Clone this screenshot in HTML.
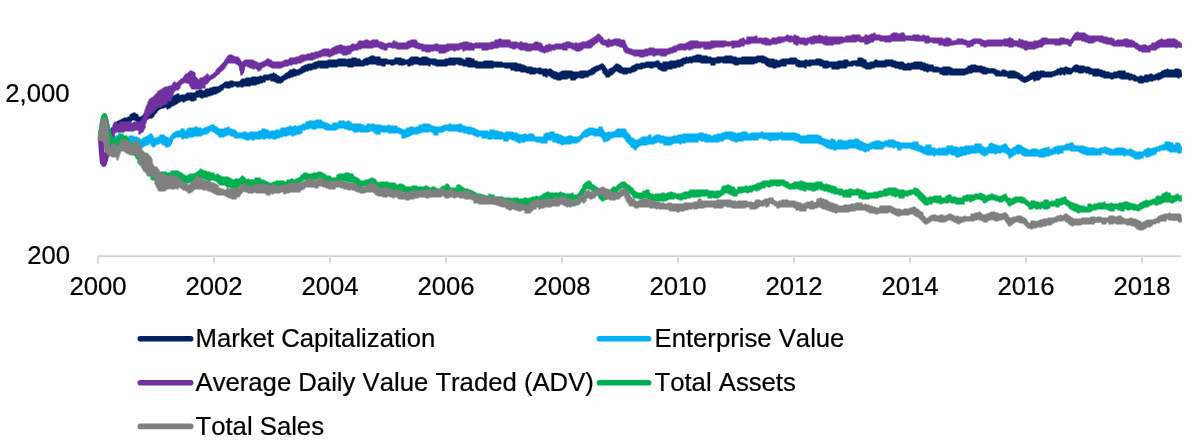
<!DOCTYPE html>
<html lang="en">
<head>
<meta charset="utf-8">
<title>Chart</title>
<style>
html,body{margin:0;padding:0;background:#fff;}
body{width:1200px;height:448px;overflow:hidden;}
svg{display:block;}
text{font-family:"Liberation Sans",Arial,Helvetica,sans-serif;font-size:25.7px;fill:#000;stroke:#000;stroke-width:0.22px;font-kerning:none;font-feature-settings:"kern" 0;}
.ax line{stroke:#d3d3d3;stroke-width:1.6;fill:none;}
</style>
</head>
<body>
<svg width="1200" height="448" viewBox="0 0 1200 448">
<rect width="1200" height="448" fill="#fff"/>
<g class="ax"><line x1="97.25" y1="256.1" x2="1180.8" y2="256.1"/><line x1="98" y1="256" x2="98" y2="263.5"/><line x1="214" y1="256" x2="214" y2="263.5"/><line x1="330" y1="256" x2="330" y2="263.5"/><line x1="446" y1="256" x2="446" y2="263.5"/><line x1="562" y1="256" x2="562" y2="263.5"/><line x1="678" y1="256" x2="678" y2="263.5"/><line x1="794" y1="256" x2="794" y2="263.5"/><line x1="910" y1="256" x2="910" y2="263.5"/><line x1="1026" y1="256" x2="1026" y2="263.5"/><line x1="1142" y1="256" x2="1142" y2="263.5"/></g>
<g class="yl"><text x="69.5" y="101.8" text-anchor="end">2,000</text><text x="70" y="264.4" text-anchor="end">200</text></g>
<g class="xl"><text x="98" y="295.4" text-anchor="middle">2000</text><text x="214" y="295.4" text-anchor="middle">2002</text><text x="330" y="295.4" text-anchor="middle">2004</text><text x="446" y="295.4" text-anchor="middle">2006</text><text x="562" y="295.4" text-anchor="middle">2008</text><text x="678" y="295.4" text-anchor="middle">2010</text><text x="794" y="295.4" text-anchor="middle">2012</text><text x="910" y="295.4" text-anchor="middle">2014</text><text x="1026" y="295.4" text-anchor="middle">2016</text><text x="1142" y="295.4" text-anchor="middle">2018</text></g>
<g class="series">
<g fill="#002060" stroke="#002060"><path d="M100.5,135.0 L102.0,140.0 L103.5,145.0 L105.0,143.0 L107.0,139.0 L110.0,134.0 L114.0,128.5" fill="none" stroke-width="5.5" stroke-linejoin="round" stroke-linecap="butt"/><path d="M100.5,135.0 L102.0,140.0 L103.5,145.0 L105.0,143.0 L107.0,139.0 L110.0,134.0 L114.0,128.5 L117.5,125.5 L121.0,123.8 L127.0,120.7 L133.5,117.3 L137.0,119.0 L140.0,120.5 L143.0,119.0 L146.2,117.8 L152.5,114.0 L156.2,109.6 L160.0,106.8 L167.5,104.6 L175.0,100.0 L181.2,97.5 L187.5,96.5 L193.8,96.0 L198.8,94.5 L205.0,92.8 L210.0,91.8 L220.0,88.4 L225.0,84.6 L232.5,84.0 L240.0,83.4 L247.5,81.5 L255.0,80.9 L262.5,78.4 L270.0,77.1 L275.0,77.8 L280.0,80.2 L285.0,77.1 L290.0,74.6 L295.0,72.8 L300.0,71.5 L306.2,68.4 L312.5,67.1 L320.0,64.0 L327.5,64.0 L333.8,63.4 L340.0,62.1 L346.2,62.8 L353.8,62.1 L360.0,62.8 L365.0,62.1 L371.2,60.2 L377.5,60.9 L383.8,62.1 L390.0,62.1 L397.5,60.9 L403.8,62.8 L408.8,61.5 L413.8,59.9 L418.8,60.9 L427.5,60.2 L432.5,62.1 L438.8,63.4 L443.8,62.8 L448.8,61.5 L457.5,60.7 L465.0,62.0 L472.5,63.7 L480.0,64.5 L490.0,63.7 L497.5,65.2 L505.0,65.2 L512.5,66.2 L520.0,68.2 L527.5,69.5 L535.0,70.2 L542.5,72.0 L550.0,73.2 L557.5,76.2 L565.0,74.5 L572.5,75.2 L580.0,74.5 L587.5,73.7 L595.0,69.5 L602.0,66.2 L607.5,73.7 L611.2,72.0 L616.2,67.7 L622.5,70.7 L630.0,70.2 L637.5,67.0 L645.0,65.7 L652.5,65.2 L658.8,64.5 L665.0,67.0 L672.5,65.2 L680.0,63.2 L690.0,60.2 L697.5,58.2 L705.0,59.5 L712.5,60.7 L720.0,60.2 L727.5,58.7 L736.2,60.7 L745.0,60.2 L752.5,60.2 L760.0,58.7 L767.5,62.0 L775.0,64.5 L782.5,62.0 L792.5,61.2 L800.0,62.7 L807.5,63.7 L817.5,62.0 L825.0,63.7 L835.0,65.2 L845.0,64.5 L852.5,63.2 L860.0,62.0 L867.5,65.7 L875.0,64.5 L882.5,63.7 L890.0,62.7 L897.5,65.2 L905.0,67.0 L912.5,65.7 L920.0,65.7 L927.5,68.2 L935.0,69.5 L942.5,70.2 L950.0,71.2 L957.5,72.0 L965.0,71.2 L972.5,69.5 L980.0,68.2 L985.0,70.2 L990.0,70.7 L992.5,70.2 L1000.0,73.7 L1007.5,74.5 L1016.2,74.5 L1025.0,80.7 L1032.5,77.0 L1042.5,74.5 L1052.5,73.7 L1062.5,70.2 L1070.0,72.0 L1075.0,67.7 L1082.5,68.7 L1090.0,71.2 L1097.5,72.0 L1105.0,74.5 L1112.5,76.2 L1120.0,74.5 L1127.5,75.7 L1135.0,78.2 L1142.5,80.2 L1150.0,78.7 L1157.5,76.2 L1165.0,72.7 L1172.5,73.2 L1177.5,72.7 L1180.5,74.5 L1181.8,74.5" fill="none" stroke-width="4" stroke-linejoin="round" stroke-linecap="butt"/><path d="M108.0,135.00H109.0V134.00H110.0V132.00H111.0V131.00H112.0V129.00H113.0V128.00H114.0V124.00H115.0V123.00H116.0V123.00H117.0V122.00H118.0V121.00H119.0V121.00H120.0V120.00H121.0V120.00H122.0V119.00H123.0V119.00H124.0V118.00H125.0V118.00H126.0V118.00H127.0V118.00H128.0V117.00H129.0V117.00H130.0V115.00H131.0V114.00H132.0V114.00H133.0V113.00H134.0V113.00H135.0V114.00H136.0V114.00H137.0V115.00H138.0V117.00H139.0V117.00H140.0V118.00H141.0V117.00H142.0V116.00H143.0V115.00H144.0V115.00H145.0V115.00H146.0V115.00H147.0V114.00H148.0V114.00H149.0V113.00H150.0V113.00H151.0V112.00H152.0V111.00H153.0V110.00H154.0V108.00H155.0V107.00H156.0V106.00H157.0V105.00H158.0V104.00H159.0V104.00H160.0V103.00H161.0V102.00H162.0V102.00H163.0V101.00H164.0V101.00H165.0V101.00H166.0V100.00H167.0V100.00H168.0V99.00H169.0V99.00H170.0V98.00H171.0V98.00H172.0V97.00H173.0V96.00H174.0V96.00H175.0V95.00H176.0V95.00H177.0V94.00H178.0V94.00H179.0V96.00H180.0V96.00H181.0V95.00H182.0V95.00H183.0V95.00H184.0V95.00H185.0V95.00H186.0V94.00H187.0V93.00H188.0V93.00H189.0V93.00H190.0V93.00H191.0V93.00H192.0V93.00H193.0V93.00H194.0V93.00H195.0V93.00H196.0V91.00H197.0V91.00H198.0V91.00H199.0V90.00H200.0V90.00H201.0V90.00H202.0V91.00H203.0V91.00H204.0V91.00H205.0V90.00H206.0V89.00H207.0V89.00H208.0V89.00H209.0V89.00H210.0V88.00H211.0V88.00H212.0V88.00H213.0V87.00H214.0V88.00H215.0V87.00H216.0V87.00H217.0V87.00H218.0V87.00H219.0V86.00H220.0V86.00H221.0V85.00H222.0V85.00H223.0V84.00H224.0V83.00H225.0V82.00H226.0V82.00H227.0V82.00H228.0V82.00H229.0V82.00H230.0V81.00H231.0V81.00H232.0V81.00H233.0V82.00H234.0V82.00H235.0V82.00H236.0V82.00H237.0V82.00H238.0V82.00H239.0V82.00H240.0V81.00H241.0V80.00H242.0V79.00H243.0V79.00H244.0V79.00H245.0V79.00H246.0V78.00H247.0V78.00H248.0V78.00H249.0V78.00H250.0V78.00H251.0V78.00H252.0V77.00H253.0V77.00H254.0V77.00H255.0V77.00H256.0V78.00H257.0V77.00H258.0V77.00H259.0V77.00H260.0V76.00H261.0V77.00H262.0V77.00H263.0V76.00H264.0V75.00H265.0V75.00H266.0V75.00H267.0V75.00H268.0V75.00H269.0V75.00H270.0V74.00H271.0V74.00H272.0V75.00H273.0V73.00H274.0V74.00H275.0V74.00H276.0V75.00H277.0V76.00H278.0V76.00H279.0V77.00H280.0V77.00H281.0V77.00H282.0V76.00H283.0V76.00H284.0V75.00H285.0V74.00H286.0V73.00H287.0V73.00H288.0V72.00H289.0V71.00H290.0V70.00H291.0V70.00H292.0V70.00H293.0V69.00H294.0V69.00H295.0V70.00H296.0V70.00H297.0V70.00H298.0V70.00H299.0V69.00H300.0V69.00H301.0V67.00H302.0V67.00H303.0V66.00H304.0V66.00H305.0V65.00H306.0V65.00H307.0V65.00H308.0V64.00H309.0V64.00H310.0V64.00H311.0V64.00H312.0V64.00H313.0V63.00H314.0V63.00H315.0V62.00H316.0V62.00H317.0V62.00H318.0V61.00H319.0V62.00H320.0V61.00H321.0V61.00H322.0V61.00H323.0V61.00H324.0V61.00H325.0V61.00H326.0V61.00H327.0V61.00H328.0V60.00H329.0V60.00H330.0V60.00H331.0V60.00H332.0V60.00H333.0V60.00H334.0V60.00H335.0V60.00H336.0V60.00H337.0V60.00H338.0V59.00H339.0V59.00H340.0V59.00H341.0V59.00H342.0V59.00H343.0V59.00H344.0V59.00H345.0V59.00H346.0V60.00H347.0V60.00H348.0V59.00H349.0V59.00H350.0V59.00H351.0V59.00H352.0V58.00H353.0V58.00H354.0V58.00H355.0V58.00H356.0V59.00H357.0V59.00H358.0V59.00H359.0V59.00H360.0V61.00H361.0V61.00H362.0V61.00H363.0V60.00H364.0V59.00H365.0V59.00H366.0V58.00H367.0V58.00H368.0V58.00H369.0V57.00H370.0V57.00H371.0V56.00H372.0V56.00H373.0V56.00H374.0V57.00H375.0V57.00H376.0V57.00H377.0V57.00H378.0V57.00H379.0V57.00H380.0V59.00H381.0V59.00H382.0V59.00H383.0V59.00H384.0V59.00H385.0V59.00H386.0V59.00H387.0V60.00H388.0V60.00H389.0V60.00H390.0V60.00H391.0V60.00H392.0V60.00H393.0V60.00H394.0V60.00H395.0V58.00H396.0V58.00H397.0V58.00H398.0V58.00H399.0V58.00H400.0V58.00H401.0V59.00H402.0V59.00H403.0V59.00H404.0V61.00H405.0V60.00H406.0V60.00H407.0V60.00H408.0V60.00H409.0V59.00H410.0V58.00H411.0V57.00H412.0V57.00H413.0V57.00H414.0V57.00H415.0V57.00H416.0V57.00H417.0V57.00H418.0V58.00H419.0V58.00H420.0V58.00H421.0V58.00H422.0V57.00H423.0V57.00H424.0V57.00H425.0V57.00H426.0V57.00H427.0V58.00H428.0V58.00H429.0V59.00H430.0V59.00H431.0V59.00H432.0V59.00H433.0V59.00H434.0V59.00H435.0V59.00H436.0V60.00H437.0V60.00H438.0V60.00H439.0V60.00H440.0V60.00H441.0V60.00H442.0V60.00H443.0V60.00H444.0V60.00H445.0V59.00H446.0V59.00H447.0V59.00H448.0V59.00H449.0V58.00H450.0V58.00H451.0V58.00H452.0V58.00H453.0V58.00H454.0V58.00H455.0V58.00H456.0V58.00H457.0V58.00H458.0V58.00H459.0V58.00H460.0V58.00H461.0V59.00H462.0V59.00H463.0V60.00H464.0V60.00H465.0V60.00H466.0V58.00H467.0V58.00H468.0V58.00H469.0V58.00H470.0V58.00H471.0V59.00H472.0V59.00H473.0V59.00H474.0V61.00H475.0V61.00H476.0V61.00H477.0V62.00H478.0V62.00H479.0V62.00H480.0V62.00H481.0V62.00H482.0V62.00H483.0V62.00H484.0V61.00H485.0V61.00H486.0V61.00H487.0V61.00H488.0V61.00H489.0V61.00H490.0V61.00H491.0V61.00H492.0V61.00H493.0V62.00H494.0V62.00H495.0V62.00H496.0V62.00H497.0V62.00H498.0V62.00H499.0V62.00H500.0V62.00H501.0V62.00H502.0V63.00H503.0V63.00H504.0V63.00H505.0V63.00H506.0V63.00H507.0V63.00H508.0V63.00H509.0V63.00H510.0V63.00H511.0V63.00H512.0V63.00H513.0V63.00H514.0V63.00H515.0V63.00H516.0V63.00H517.0V64.00H518.0V64.00H519.0V64.00H520.0V64.00H521.0V65.00H522.0V65.00H523.0V65.00H524.0V66.00H525.0V66.00H526.0V67.00H527.0V67.00H528.0V67.00H529.0V67.00H530.0V67.00H531.0V67.00H532.0V68.00H533.0V68.00H534.0V68.00H535.0V68.00H536.0V69.00H537.0V69.00H538.0V68.00H539.0V68.00H540.0V68.00H541.0V69.00H542.0V69.00H543.0V69.00H544.0V69.00H545.0V69.00H546.0V69.00H547.0V70.00H548.0V70.00H549.0V69.00H550.0V69.00H551.0V70.00H552.0V71.00H553.0V71.00H554.0V72.00H555.0V72.00H556.0V72.00H557.0V73.00H558.0V73.00H559.0V73.00H560.0V72.00H561.0V72.00H562.0V71.00H563.0V71.00H564.0V71.00H565.0V71.00H566.0V71.00H567.0V71.00H568.0V71.00H569.0V71.00H570.0V71.00H571.0V71.00H572.0V72.00H573.0V72.00H574.0V72.00H575.0V72.00H576.0V72.00H577.0V72.00H578.0V72.00H579.0V72.00H580.0V71.00H581.0V71.00H582.0V71.00H583.0V71.00H584.0V71.00H585.0V71.00H586.0V71.00H587.0V71.00H588.0V71.00H589.0V70.00H590.0V70.00H591.0V69.00H592.0V68.00H593.0V68.00H594.0V67.00H595.0V67.00H596.0V66.00H597.0V66.00H598.0V66.00H599.0V65.00H600.0V65.00H601.0V64.00H602.0V64.00H603.0V65.00H604.0V66.00H605.0V68.00H606.0V69.00H607.0V71.00H608.0V71.00H609.0V69.00H610.0V69.00H611.0V68.00H612.0V68.00H613.0V67.00H614.0V66.00H615.0V65.00H616.0V64.00H617.0V64.00H618.0V65.00H619.0V65.00H620.0V66.00H621.0V67.00H622.0V68.00H623.0V68.00H624.0V68.00H625.0V68.00H626.0V68.00H627.0V68.00H628.0V68.00H629.0V68.00H630.0V68.00H631.0V67.00H632.0V66.00H633.0V66.00H634.0V65.00H635.0V65.00H636.0V64.00H637.0V64.00H638.0V64.00H639.0V64.00H640.0V64.00H641.0V63.00H642.0V63.00H643.0V63.00H644.0V63.00H645.0V63.00H646.0V62.00H647.0V62.00H648.0V62.00H649.0V62.00H650.0V62.00H651.0V62.00H652.0V62.00H653.0V62.00H654.0V62.00H655.0V62.00H656.0V61.00H657.0V61.00H658.0V61.00H659.0V63.00H660.0V63.00H661.0V64.00H662.0V64.00H663.0V62.00H664.0V62.00H665.0V62.00H666.0V62.00H667.0V62.00H668.0V62.00H669.0V62.00H670.0V61.00H671.0V61.00H672.0V61.00H673.0V62.00H674.0V61.00H675.0V61.00H676.0V61.00H677.0V60.00H678.0V60.00H679.0V60.00H680.0V60.00H681.0V59.00H682.0V59.00H683.0V58.00H684.0V58.00H685.0V58.00H686.0V57.00H687.0V58.00H688.0V58.00H689.0V57.00H690.0V57.00H691.0V57.00H692.0V57.00H693.0V56.00H694.0V56.00H695.0V56.00H696.0V55.00H697.0V55.00H698.0V55.00H699.0V55.00H700.0V55.00H701.0V56.00H702.0V56.00H703.0V56.00H704.0V56.00H705.0V56.00H706.0V56.00H707.0V57.00H708.0V57.00H709.0V57.00H710.0V57.00H711.0V58.00H712.0V58.00H713.0V58.00H714.0V58.00H715.0V58.00H716.0V58.00H717.0V57.00H718.0V57.00H719.0V57.00H720.0V57.00H721.0V57.00H722.0V57.00H723.0V57.00H724.0V57.00H725.0V56.00H726.0V56.00H727.0V56.00H728.0V56.00H729.0V56.00H730.0V56.00H731.0V56.00H732.0V57.00H733.0V57.00H734.0V57.00H735.0V57.00H736.0V58.00H737.0V58.00H738.0V58.00H739.0V58.00H740.0V58.00H741.0V58.00H742.0V57.00H743.0V57.00H744.0V57.00H745.0V57.00H746.0V57.00H747.0V57.00H748.0V57.00H749.0V57.00H750.0V57.00H751.0V57.00H752.0V57.00H753.0V57.00H754.0V57.00H755.0V57.00H756.0V57.00H757.0V56.00H758.0V56.00H759.0V56.00H760.0V56.00H761.0V56.00H762.0V56.00H763.0V56.00H764.0V57.00H765.0V57.00H766.0V58.00H767.0V58.00H768.0V59.00H769.0V59.00H770.0V59.00H771.0V60.00H772.0V59.00H773.0V59.00H774.0V60.00H775.0V60.00H776.0V60.00H777.0V61.00H778.0V61.00H779.0V61.00H780.0V60.00H781.0V60.00H782.0V59.00H783.0V59.00H784.0V59.00H785.0V59.00H786.0V59.00H787.0V59.00H788.0V59.00H789.0V59.00H790.0V58.00H791.0V58.00H792.0V58.00H793.0V58.00H794.0V58.00H795.0V58.00H796.0V59.00H797.0V60.00H798.0V60.00H799.0V61.00H800.0V61.00H801.0V61.00H802.0V61.00H803.0V61.00H804.0V61.00H805.0V60.00H806.0V60.00H807.0V61.00H808.0V61.00H809.0V60.00H810.0V60.00H811.0V60.00H812.0V60.00H813.0V60.00H814.0V60.00H815.0V60.00H816.0V59.00H817.0V59.00H818.0V59.00H819.0V59.00H820.0V59.00H821.0V60.00H822.0V60.00H823.0V61.00H824.0V61.00H825.0V61.00H826.0V61.00H827.0V61.00H828.0V62.00H829.0V62.00H830.0V62.00H831.0V62.00H832.0V62.00H833.0V62.00H834.0V62.00H835.0V62.00H836.0V62.00H837.0V62.00H838.0V61.00H839.0V61.00H840.0V61.00H841.0V61.00H842.0V61.00H843.0V61.00H844.0V60.00H845.0V60.00H846.0V60.00H847.0V60.00H848.0V62.00H849.0V62.00H850.0V62.00H851.0V62.00H852.0V61.00H853.0V61.00H854.0V61.00H855.0V61.00H856.0V61.00H857.0V61.00H858.0V58.00H859.0V58.00H860.0V58.00H861.0V58.00H862.0V59.00H863.0V59.00H864.0V60.00H865.0V60.00H866.0V62.00H867.0V63.00H868.0V63.00H869.0V63.00H870.0V62.00H871.0V62.00H872.0V62.00H873.0V62.00H874.0V61.00H875.0V60.00H876.0V60.00H877.0V61.00H878.0V61.00H879.0V61.00H880.0V61.00H881.0V61.00H882.0V61.00H883.0V61.00H884.0V61.00H885.0V60.00H886.0V60.00H887.0V60.00H888.0V60.00H889.0V60.00H890.0V60.00H891.0V60.00H892.0V60.00H893.0V61.00H894.0V61.00H895.0V61.00H896.0V62.00H897.0V62.00H898.0V62.00H899.0V63.00H900.0V62.00H901.0V62.00H902.0V62.00H903.0V63.00H904.0V64.00H905.0V64.00H906.0V64.00H907.0V64.00H908.0V63.00H909.0V64.00H910.0V64.00H911.0V63.00H912.0V63.00H913.0V63.00H914.0V62.00H915.0V62.00H916.0V62.00H917.0V62.00H918.0V62.00H919.0V62.00H920.0V62.00H921.0V62.00H922.0V63.00H923.0V63.00H924.0V63.00H925.0V64.00H926.0V64.00H927.0V64.00H928.0V65.00H929.0V65.00H930.0V65.00H931.0V65.00H932.0V65.00H933.0V67.00H934.0V67.00H935.0V67.00H936.0V67.00H937.0V67.00H938.0V68.00H939.0V68.00H940.0V68.00H941.0V68.00H942.0V68.00H943.0V67.00H944.0V67.00H945.0V67.00H946.0V67.00H947.0V67.00H948.0V67.00H949.0V67.00H950.0V68.00H951.0V68.00H952.0V69.00H953.0V69.00H954.0V69.00H955.0V69.00H956.0V69.00H957.0V69.00H958.0V69.00H959.0V69.00H960.0V69.00H961.0V69.00H962.0V69.00H963.0V69.00H964.0V69.00H965.0V69.00H966.0V68.00H967.0V68.00H968.0V66.00H969.0V66.00H970.0V66.00H971.0V65.00H972.0V66.00H973.0V65.00H974.0V65.00H975.0V65.00H976.0V66.00H977.0V66.00H978.0V66.00H979.0V66.00H980.0V66.00H981.0V66.00H982.0V67.00H983.0V67.00H984.0V67.00H985.0V68.00H986.0V68.00H987.0V68.00H988.0V69.00H989.0V69.00H990.0V69.00H991.0V69.00H992.0V69.00H993.0V69.00H994.0V69.00H995.0V70.00H996.0V70.00H997.0V71.00H998.0V71.00H999.0V71.00H1000.0V72.00H1001.0V72.00H1002.0V70.00H1003.0V70.00H1004.0V70.00H1005.0V71.00H1006.0V71.00H1007.0V72.00H1008.0V72.00H1009.0V71.00H1010.0V71.00H1011.0V71.00H1012.0V71.00H1013.0V71.00H1014.0V71.00H1015.0V72.00H1016.0V72.00H1017.0V73.00H1018.0V73.00H1019.0V74.00H1020.0V75.00H1021.0V75.00H1022.0V76.00H1023.0V77.00H1024.0V78.00H1025.0V77.00H1026.0V77.00H1027.0V76.00H1028.0V76.00H1029.0V75.00H1030.0V74.00H1031.0V73.00H1032.0V73.00H1033.0V72.00H1034.0V72.00H1035.0V72.00H1036.0V72.00H1037.0V71.00H1038.0V72.00H1039.0V72.00H1040.0V71.00H1041.0V71.00H1042.0V71.00H1043.0V71.00H1044.0V73.00H1045.0V72.00H1046.0V72.00H1047.0V72.00H1048.0V72.00H1049.0V72.00H1050.0V72.00H1051.0V72.00H1052.0V72.00H1053.0V72.00H1054.0V71.00H1055.0V71.00H1056.0V71.00H1057.0V69.00H1058.0V69.00H1059.0V69.00H1060.0V68.00H1061.0V68.00H1062.0V68.00H1063.0V68.00H1064.0V68.00H1065.0V67.00H1066.0V67.00H1067.0V68.00H1068.0V68.00H1069.0V68.00H1070.0V70.00H1071.0V69.00H1072.0V68.00H1073.0V67.00H1074.0V66.00H1075.0V65.00H1076.0V65.00H1077.0V65.00H1078.0V66.00H1079.0V66.00H1080.0V66.00H1081.0V66.00H1082.0V66.00H1083.0V66.00H1084.0V67.00H1085.0V67.00H1086.0V67.00H1087.0V67.00H1088.0V67.00H1089.0V68.00H1090.0V68.00H1091.0V69.00H1092.0V69.00H1093.0V69.00H1094.0V69.00H1095.0V69.00H1096.0V69.00H1097.0V69.00H1098.0V69.00H1099.0V70.00H1100.0V70.00H1101.0V70.00H1102.0V71.00H1103.0V71.00H1104.0V71.00H1105.0V72.00H1106.0V72.00H1107.0V72.00H1108.0V72.00H1109.0V73.00H1110.0V73.00H1111.0V73.00H1112.0V73.00H1113.0V73.00H1114.0V72.00H1115.0V72.00H1116.0V72.00H1117.0V72.00H1118.0V71.00H1119.0V71.00H1120.0V71.00H1121.0V71.00H1122.0V71.00H1123.0V71.00H1124.0V71.00H1125.0V73.00H1126.0V73.00H1127.0V73.00H1128.0V73.00H1129.0V74.00H1130.0V74.00H1131.0V74.00H1132.0V75.00H1133.0V75.00H1134.0V75.00H1135.0V76.00H1136.0V77.00H1137.0V77.00H1138.0V77.00H1139.0V77.00H1140.0V76.00H1141.0V76.00H1142.0V77.00H1143.0V77.00H1144.0V76.00H1145.0V75.00H1146.0V75.00H1147.0V75.00H1148.0V75.00H1149.0V75.00H1150.0V74.00H1151.0V74.00H1152.0V76.00H1153.0V75.00H1154.0V75.00H1155.0V75.00H1156.0V74.00H1157.0V74.00H1158.0V73.00H1159.0V73.00H1160.0V73.00H1161.0V72.00H1162.0V71.00H1163.0V71.00H1164.0V70.00H1165.0V70.00H1166.0V70.00H1167.0V69.00H1168.0V70.00H1169.0V70.00H1170.0V70.00H1171.0V70.00H1172.0V70.00H1173.0V70.00H1174.0V70.00H1175.0V69.00H1176.0V69.00H1177.0V69.00H1178.0V69.00H1179.0V70.00H1180.0V70.00H1181.0V70.00V77.00H1180.0V77.00H1179.0V78.00H1178.0V77.00H1177.0V77.00H1176.0V77.00H1175.0V77.00H1174.0V77.00H1173.0V77.00H1172.0V77.00H1171.0V77.00H1170.0V77.00H1169.0V77.00H1168.0V77.00H1167.0V77.00H1166.0V77.00H1165.0V77.00H1164.0V77.00H1163.0V78.00H1162.0V78.00H1161.0V79.00H1160.0V79.00H1159.0V80.00H1158.0V79.00H1157.0V79.00H1156.0V80.00H1155.0V80.00H1154.0V80.00H1153.0V81.00H1152.0V81.00H1151.0V81.00H1150.0V81.00H1149.0V81.00H1148.0V82.00H1147.0V82.00H1146.0V82.00H1145.0V82.00H1144.0V82.00H1143.0V83.00H1142.0V83.00H1141.0V83.00H1140.0V83.00H1139.0V82.00H1138.0V81.00H1137.0V81.00H1136.0V81.00H1135.0V81.00H1134.0V80.00H1133.0V79.00H1132.0V79.00H1131.0V80.00H1130.0V80.00H1129.0V79.00H1128.0V79.00H1127.0V79.00H1126.0V79.00H1125.0V79.00H1124.0V79.00H1123.0V79.00H1122.0V79.00H1121.0V78.00H1120.0V78.00H1119.0V77.00H1118.0V77.00H1117.0V78.00H1116.0V78.00H1115.0V78.00H1114.0V78.00H1113.0V79.00H1112.0V79.00H1111.0V78.00H1110.0V78.00H1109.0V78.00H1108.0V78.00H1107.0V77.00H1106.0V78.00H1105.0V78.00H1104.0V77.00H1103.0V77.00H1102.0V77.00H1101.0V76.00H1100.0V76.00H1099.0V76.00H1098.0V76.00H1097.0V76.00H1096.0V76.00H1095.0V76.00H1094.0V76.00H1093.0V74.00H1092.0V74.00H1091.0V74.00H1090.0V74.00H1089.0V73.00H1088.0V73.00H1087.0V73.00H1086.0V72.00H1085.0V72.00H1084.0V72.00H1083.0V73.00H1082.0V73.00H1081.0V73.00H1080.0V73.00H1079.0V72.00H1078.0V72.00H1077.0V72.00H1076.0V72.00H1075.0V71.00H1074.0V71.00H1073.0V72.00H1072.0V73.00H1071.0V74.00H1070.0V74.00H1069.0V74.00H1068.0V74.00H1067.0V73.00H1066.0V73.00H1065.0V75.00H1064.0V74.00H1063.0V74.00H1062.0V74.00H1061.0V75.00H1060.0V74.00H1059.0V74.00H1058.0V75.00H1057.0V75.00H1056.0V75.00H1055.0V76.00H1054.0V76.00H1053.0V76.00H1052.0V77.00H1051.0V77.00H1050.0V77.00H1049.0V77.00H1048.0V77.00H1047.0V77.00H1046.0V77.00H1045.0V77.00H1044.0V77.00H1043.0V77.00H1042.0V77.00H1041.0V78.00H1040.0V79.00H1039.0V80.00H1038.0V80.00H1037.0V80.00H1036.0V80.00H1035.0V81.00H1034.0V78.00H1033.0V79.00H1032.0V79.00H1031.0V79.00H1030.0V80.00H1029.0V80.00H1028.0V81.00H1027.0V81.00H1026.0V82.00H1025.0V82.00H1024.0V82.00H1023.0V81.00H1022.0V81.00H1021.0V80.00H1020.0V79.00H1019.0V79.00H1018.0V78.00H1017.0V77.00H1016.0V78.00H1015.0V78.00H1014.0V78.00H1013.0V78.00H1012.0V78.00H1011.0V78.00H1010.0V78.00H1009.0V78.00H1008.0V76.00H1007.0V76.00H1006.0V76.00H1005.0V76.00H1004.0V76.00H1003.0V76.00H1002.0V76.00H1001.0V76.00H1000.0V76.00H999.0V75.00H998.0V76.00H997.0V76.00H996.0V75.00H995.0V74.00H994.0V73.00H993.0V73.00H992.0V73.00H991.0V73.00H990.0V73.00H989.0V73.00H988.0V73.00H987.0V74.00H986.0V74.00H985.0V74.00H984.0V74.00H983.0V73.00H982.0V73.00H981.0V72.00H980.0V72.00H979.0V71.00H978.0V72.00H977.0V72.00H976.0V72.00H975.0V72.00H974.0V72.00H973.0V72.00H972.0V73.00H971.0V73.00H970.0V73.00H969.0V73.00H968.0V74.00H967.0V74.00H966.0V74.00H965.0V75.00H964.0V75.00H963.0V75.00H962.0V75.00H961.0V75.00H960.0V75.00H959.0V75.00H958.0V75.00H957.0V75.00H956.0V75.00H955.0V75.00H954.0V75.00H953.0V75.00H952.0V75.00H951.0V75.00H950.0V74.00H949.0V74.00H948.0V75.00H947.0V75.00H946.0V75.00H945.0V75.00H944.0V75.00H943.0V74.00H942.0V74.00H941.0V74.00H940.0V72.00H939.0V72.00H938.0V72.00H937.0V72.00H936.0V72.00H935.0V72.00H934.0V72.00H933.0V71.00H932.0V71.00H931.0V71.00H930.0V71.00H929.0V71.00H928.0V72.00H927.0V71.00H926.0V71.00H925.0V71.00H924.0V70.00H923.0V70.00H922.0V70.00H921.0V69.00H920.0V69.00H919.0V69.00H918.0V69.00H917.0V69.00H916.0V69.00H915.0V69.00H914.0V69.00H913.0V69.00H912.0V69.00H911.0V70.00H910.0V70.00H909.0V70.00H908.0V70.00H907.0V70.00H906.0V70.00H905.0V70.00H904.0V70.00H903.0V69.00H902.0V69.00H901.0V69.00H900.0V69.00H899.0V68.00H898.0V68.00H897.0V68.00H896.0V68.00H895.0V67.00H894.0V67.00H893.0V67.00H892.0V66.00H891.0V66.00H890.0V66.00H889.0V66.00H888.0V66.00H887.0V66.00H886.0V67.00H885.0V67.00H884.0V67.00H883.0V67.00H882.0V67.00H881.0V67.00H880.0V67.00H879.0V67.00H878.0V67.00H877.0V67.00H876.0V67.00H875.0V67.00H874.0V68.00H873.0V68.00H872.0V68.00H871.0V69.00H870.0V69.00H869.0V69.00H868.0V69.00H867.0V69.00H866.0V68.00H865.0V68.00H864.0V67.00H863.0V67.00H862.0V66.00H861.0V66.00H860.0V66.00H859.0V66.00H858.0V66.00H857.0V66.00H856.0V65.00H855.0V65.00H854.0V65.00H853.0V66.00H852.0V66.00H851.0V66.00H850.0V66.00H849.0V66.00H848.0V66.00H847.0V67.00H846.0V68.00H845.0V68.00H844.0V68.00H843.0V68.00H842.0V68.00H841.0V68.00H840.0V68.00H839.0V69.00H838.0V69.00H837.0V69.00H836.0V69.00H835.0V69.00H834.0V69.00H833.0V69.00H832.0V67.00H831.0V67.00H830.0V67.00H829.0V67.00H828.0V68.00H827.0V68.00H826.0V68.00H825.0V68.00H824.0V68.00H823.0V66.00H822.0V66.00H821.0V66.00H820.0V65.00H819.0V65.00H818.0V65.00H817.0V65.00H816.0V65.00H815.0V65.00H814.0V65.00H813.0V65.00H812.0V65.00H811.0V66.00H810.0V66.00H809.0V66.00H808.0V66.00H807.0V66.00H806.0V68.00H805.0V67.00H804.0V67.00H803.0V67.00H802.0V67.00H801.0V67.00H800.0V67.00H799.0V67.00H798.0V66.00H797.0V66.00H796.0V64.00H795.0V64.00H794.0V64.00H793.0V64.00H792.0V63.00H791.0V64.00H790.0V64.00H789.0V64.00H788.0V64.00H787.0V64.00H786.0V66.00H785.0V66.00H784.0V66.00H783.0V66.00H782.0V66.00H781.0V66.00H780.0V67.00H779.0V67.00H778.0V67.00H777.0V67.00H776.0V68.00H775.0V68.00H774.0V68.00H773.0V67.00H772.0V67.00H771.0V67.00H770.0V67.00H769.0V66.00H768.0V66.00H767.0V65.00H766.0V64.00H765.0V63.00H764.0V63.00H763.0V63.00H762.0V62.00H761.0V62.00H760.0V62.00H759.0V62.00H758.0V62.00H757.0V63.00H756.0V63.00H755.0V63.00H754.0V64.00H753.0V64.00H752.0V64.00H751.0V64.00H750.0V64.00H749.0V64.00H748.0V64.00H747.0V64.00H746.0V64.00H745.0V64.00H744.0V64.00H743.0V64.00H742.0V64.00H741.0V64.00H740.0V64.00H739.0V64.00H738.0V65.00H737.0V65.00H736.0V65.00H735.0V64.00H734.0V64.00H733.0V63.00H732.0V63.00H731.0V63.00H730.0V63.00H729.0V62.00H728.0V63.00H727.0V62.00H726.0V63.00H725.0V63.00H724.0V63.00H723.0V62.00H722.0V62.00H721.0V62.00H720.0V63.00H719.0V63.00H718.0V63.00H717.0V63.00H716.0V63.00H715.0V65.00H714.0V65.00H713.0V65.00H712.0V65.00H711.0V63.00H710.0V63.00H709.0V63.00H708.0V63.00H707.0V63.00H706.0V63.00H705.0V63.00H704.0V63.00H703.0V63.00H702.0V63.00H701.0V62.00H700.0V62.00H699.0V62.00H698.0V62.00H697.0V62.00H696.0V62.00H695.0V62.00H694.0V62.00H693.0V62.00H692.0V63.00H691.0V62.00H690.0V62.00H689.0V63.00H688.0V63.00H687.0V63.00H686.0V63.00H685.0V64.00H684.0V64.00H683.0V66.00H682.0V66.00H681.0V66.00H680.0V67.00H679.0V67.00H678.0V67.00H677.0V67.00H676.0V68.00H675.0V68.00H674.0V68.00H673.0V68.00H672.0V69.00H671.0V69.00H670.0V69.00H669.0V69.00H668.0V69.00H667.0V70.00H666.0V71.00H665.0V71.00H664.0V71.00H663.0V71.00H662.0V70.00H661.0V70.00H660.0V69.00H659.0V69.00H658.0V67.00H657.0V67.00H656.0V67.00H655.0V67.00H654.0V67.00H653.0V68.00H652.0V68.00H651.0V68.00H650.0V67.00H649.0V67.00H648.0V67.00H647.0V67.00H646.0V67.00H645.0V68.00H644.0V68.00H643.0V68.00H642.0V69.00H641.0V69.00H640.0V69.00H639.0V69.00H638.0V69.00H637.0V70.00H636.0V71.00H635.0V71.00H634.0V72.00H633.0V72.00H632.0V72.00H631.0V73.00H630.0V73.00H629.0V73.00H628.0V73.00H627.0V74.00H626.0V74.00H625.0V74.00H624.0V74.00H623.0V73.00H622.0V73.00H621.0V73.00H620.0V72.00H619.0V72.00H618.0V71.00H617.0V71.00H616.0V71.00H615.0V72.00H614.0V73.00H613.0V74.00H612.0V75.00H611.0V75.00H610.0V76.00H609.0V77.00H608.0V77.00H607.0V77.00H606.0V75.00H605.0V74.00H604.0V73.00H603.0V70.00H602.0V69.00H601.0V69.00H600.0V70.00H599.0V70.00H598.0V71.00H597.0V71.00H596.0V72.00H595.0V73.00H594.0V74.00H593.0V74.00H592.0V75.00H591.0V74.00H590.0V75.00H589.0V76.00H588.0V77.00H587.0V77.00H586.0V77.00H585.0V77.00H584.0V78.00H583.0V78.00H582.0V78.00H581.0V78.00H580.0V77.00H579.0V77.00H578.0V78.00H577.0V78.00H576.0V79.00H575.0V80.00H574.0V80.00H573.0V80.00H572.0V80.00H571.0V78.00H570.0V78.00H569.0V78.00H568.0V78.00H567.0V79.00H566.0V79.00H565.0V79.00H564.0V79.00H563.0V79.00H562.0V79.00H561.0V80.00H560.0V80.00H559.0V79.00H558.0V80.00H557.0V79.00H556.0V79.00H555.0V79.00H554.0V78.00H553.0V78.00H552.0V77.00H551.0V76.00H550.0V76.00H549.0V75.00H548.0V75.00H547.0V77.00H546.0V76.00H545.0V76.00H544.0V76.00H543.0V74.00H542.0V74.00H541.0V74.00H540.0V74.00H539.0V73.00H538.0V73.00H537.0V73.00H536.0V73.00H535.0V74.00H534.0V74.00H533.0V74.00H532.0V74.00H531.0V74.00H530.0V73.00H529.0V73.00H528.0V73.00H527.0V72.00H526.0V72.00H525.0V72.00H524.0V72.00H523.0V72.00H522.0V72.00H521.0V71.00H520.0V71.00H519.0V71.00H518.0V71.00H517.0V71.00H516.0V71.00H515.0V70.00H514.0V70.00H513.0V70.00H512.0V70.00H511.0V68.00H510.0V68.00H509.0V68.00H508.0V68.00H507.0V68.00H506.0V68.00H505.0V67.00H504.0V67.00H503.0V67.00H502.0V67.00H501.0V67.00H500.0V67.00H499.0V67.00H498.0V67.00H497.0V67.00H496.0V67.00H495.0V67.00H494.0V67.00H493.0V68.00H492.0V68.00H491.0V68.00H490.0V68.00H489.0V68.00H488.0V68.00H487.0V68.00H486.0V68.00H485.0V68.00H484.0V68.00H483.0V68.00H482.0V68.00H481.0V68.00H480.0V68.00H479.0V68.00H478.0V68.00H477.0V68.00H476.0V67.00H475.0V67.00H474.0V67.00H473.0V67.00H472.0V66.00H471.0V67.00H470.0V67.00H469.0V67.00H468.0V66.00H467.0V66.00H466.0V66.00H465.0V66.00H464.0V66.00H463.0V65.00H462.0V65.00H461.0V65.00H460.0V65.00H459.0V64.00H458.0V64.00H457.0V64.00H456.0V64.00H455.0V65.00H454.0V65.00H453.0V65.00H452.0V65.00H451.0V65.00H450.0V65.00H449.0V65.00H448.0V65.00H447.0V66.00H446.0V66.00H445.0V66.00H444.0V66.00H443.0V66.00H442.0V66.00H441.0V66.00H440.0V66.00H439.0V66.00H438.0V66.00H437.0V66.00H436.0V65.00H435.0V65.00H434.0V65.00H433.0V64.00H432.0V64.00H431.0V64.00H430.0V66.00H429.0V65.00H428.0V65.00H427.0V65.00H426.0V65.00H425.0V65.00H424.0V65.00H423.0V65.00H422.0V65.00H421.0V65.00H420.0V65.00H419.0V64.00H418.0V64.00H417.0V64.00H416.0V64.00H415.0V63.00H414.0V64.00H413.0V65.00H412.0V65.00H411.0V65.00H410.0V66.00H409.0V66.00H408.0V64.00H407.0V64.00H406.0V64.00H405.0V64.00H404.0V65.00H403.0V64.00H402.0V65.00H401.0V65.00H400.0V65.00H399.0V64.00H398.0V64.00H397.0V64.00H396.0V64.00H395.0V64.00H394.0V65.00H393.0V65.00H392.0V65.00H391.0V64.00H390.0V64.00H389.0V64.00H388.0V64.00H387.0V64.00H386.0V64.00H385.0V66.00H384.0V66.00H383.0V66.00H382.0V65.00H381.0V65.00H380.0V65.00H379.0V65.00H378.0V65.00H377.0V64.00H376.0V64.00H375.0V64.00H374.0V64.00H373.0V64.00H372.0V64.00H371.0V63.00H370.0V64.00H369.0V64.00H368.0V65.00H367.0V65.00H366.0V65.00H365.0V65.00H364.0V66.00H363.0V66.00H362.0V66.00H361.0V66.00H360.0V66.00H359.0V66.00H358.0V66.00H357.0V66.00H356.0V66.00H355.0V66.00H354.0V66.00H353.0V67.00H352.0V67.00H351.0V67.00H350.0V67.00H349.0V67.00H348.0V66.00H347.0V66.00H346.0V66.00H345.0V66.00H344.0V66.00H343.0V66.00H342.0V66.00H341.0V65.00H340.0V66.00H339.0V66.00H338.0V66.00H337.0V67.00H336.0V67.00H335.0V67.00H334.0V67.00H333.0V67.00H332.0V67.00H331.0V67.00H330.0V67.00H329.0V67.00H328.0V68.00H327.0V68.00H326.0V68.00H325.0V68.00H324.0V68.00H323.0V68.00H322.0V68.00H321.0V68.00H320.0V67.00H319.0V67.00H318.0V68.00H317.0V68.00H316.0V69.00H315.0V69.00H314.0V69.00H313.0V69.00H312.0V70.00H311.0V70.00H310.0V70.00H309.0V70.00H308.0V71.00H307.0V71.00H306.0V71.00H305.0V72.00H304.0V72.00H303.0V73.00H302.0V73.00H301.0V74.00H300.0V74.00H299.0V75.00H298.0V75.00H297.0V75.00H296.0V76.00H295.0V76.00H294.0V76.00H293.0V77.00H292.0V77.00H291.0V77.00H290.0V78.00H289.0V78.00H288.0V78.00H287.0V79.00H286.0V79.00H285.0V80.00H284.0V80.00H283.0V82.00H282.0V82.00H281.0V83.00H280.0V83.00H279.0V83.00H278.0V83.00H277.0V82.00H276.0V82.00H275.0V81.00H274.0V81.00H273.0V81.00H272.0V81.00H271.0V79.00H270.0V79.00H269.0V80.00H268.0V80.00H267.0V80.00H266.0V80.00H265.0V82.00H264.0V82.00H263.0V82.00H262.0V83.00H261.0V83.00H260.0V83.00H259.0V84.00H258.0V84.00H257.0V84.00H256.0V85.00H255.0V85.00H254.0V85.00H253.0V85.00H252.0V85.00H251.0V85.00H250.0V86.00H249.0V86.00H248.0V86.00H247.0V86.00H246.0V86.00H245.0V86.00H244.0V86.00H243.0V87.00H242.0V87.00H241.0V86.00H240.0V86.00H239.0V87.00H238.0V87.00H237.0V86.00H236.0V86.00H235.0V86.00H234.0V86.00H233.0V87.00H232.0V87.00H231.0V87.00H230.0V88.00H229.0V88.00H228.0V88.00H227.0V88.00H226.0V87.00H225.0V87.00H224.0V88.00H223.0V90.00H222.0V90.00H221.0V91.00H220.0V92.00H219.0V92.00H218.0V93.00H217.0V93.00H216.0V94.00H215.0V94.00H214.0V94.00H213.0V95.00H212.0V95.00H211.0V95.00H210.0V96.00H209.0V96.00H208.0V96.00H207.0V97.00H206.0V97.00H205.0V97.00H204.0V97.00H203.0V98.00H202.0V98.00H201.0V96.00H200.0V97.00H199.0V97.00H198.0V97.00H197.0V97.00H196.0V100.00H195.0V100.00H194.0V101.00H193.0V101.00H192.0V101.00H191.0V99.00H190.0V100.00H189.0V100.00H188.0V100.00H187.0V100.00H186.0V101.00H185.0V101.00H184.0V102.00H183.0V101.00H182.0V101.00H181.0V101.00H180.0V102.00H179.0V102.00H178.0V103.00H177.0V104.00H176.0V104.00H175.0V105.00H174.0V105.00H173.0V106.00H172.0V106.00H171.0V107.00H170.0V108.00H169.0V108.00H168.0V109.00H167.0V107.00H166.0V107.00H165.0V107.00H164.0V108.00H163.0V108.00H162.0V108.00H161.0V108.00H160.0V109.00H159.0V109.00H158.0V110.00H157.0V112.00H156.0V113.00H155.0V114.00H154.0V116.00H153.0V117.00H152.0V118.00H151.0V118.00H150.0V117.00H149.0V118.00H148.0V119.00H147.0V119.00H146.0V120.00H145.0V121.00H144.0V121.00H143.0V122.00H142.0V122.00H141.0V123.00H140.0V123.00H139.0V123.00H138.0V122.00H137.0V121.00H136.0V120.00H135.0V120.00H134.0V119.00H133.0V120.00H132.0V120.00H131.0V122.00H130.0V122.00H129.0V123.00H128.0V123.00H127.0V123.00H126.0V124.00H125.0V124.00H124.0V126.00H123.0V127.00H122.0V127.00H121.0V128.00H120.0V128.00H119.0V129.00H118.0V127.00H117.0V128.00H116.0V129.00H115.0V132.00H114.0V132.00H113.0V134.00H112.0V135.00H111.0V135.00H110.0V136.00H109.0V138.00H108.0V139.00Z" stroke-width="1.2" stroke-linejoin="round"/></g>
<g fill="#00B0F0" stroke="#00B0F0"><path d="M100.5,135.0 L102.0,141.0 L103.5,139.0 L106.0,140.0 L110.0,139.0 L114.0,139.0" fill="none" stroke-width="5.5" stroke-linejoin="round" stroke-linecap="butt"/><path d="M100.5,135.0 L102.0,141.0 L103.5,139.0 L106.0,140.0 L110.0,139.0 L114.0,139.0 L117.0,138.0 L121.0,139.0 L125.0,139.5 L130.0,140.0 L134.0,141.0 L137.5,142.5 L141.0,145.0 L144.0,142.5 L147.5,140.0 L150.6,137.5 L154.0,143.5 L157.5,140.0 L162.5,138.8 L166.0,141.0 L170.0,143.0 L172.5,136.5 L177.5,133.8 L182.5,134.0 L187.5,133.0 L192.5,132.5 L197.5,131.0 L202.5,132.0 L207.5,128.8 L212.5,128.0 L216.0,130.0 L220.0,133.0 L225.0,132.5 L229.0,131.0 L234.0,133.0 L237.5,135.6 L240.0,135.4 L247.5,137.4 L255.0,135.4 L262.5,133.4 L270.0,135.4 L277.5,134.1 L285.0,132.9 L292.5,130.9 L300.0,128.4 L307.5,125.4 L315.0,124.9 L321.2,124.2 L327.5,126.7 L335.0,126.7 L342.5,124.9 L350.0,126.7 L357.5,127.4 L365.0,129.1 L372.5,127.4 L380.0,129.1 L390.0,130.4 L397.5,130.4 L403.8,132.9 L412.5,129.9 L420.0,129.1 L427.5,127.4 L435.0,130.4 L441.2,130.4 L447.5,127.4 L457.5,126.7 L465.0,129.9 L472.5,131.6 L477.5,134.1 L485.0,134.1 L492.5,134.9 L500.0,136.6 L507.5,135.9 L515.0,137.4 L520.0,139.9 L527.5,138.4 L535.0,139.1 L542.5,139.1 L550.0,137.4 L556.2,136.6 L565.0,140.9 L572.5,139.1 L578.8,139.1 L583.8,134.1 L590.0,130.9 L597.5,132.4 L601.2,131.6 L605.0,137.9 L611.2,135.4 L617.5,133.4 L623.8,132.4 L630.0,140.4 L636.2,145.4 L642.5,140.9 L650.0,140.4 L658.8,139.1 L667.5,141.6 L675.0,139.9 L682.5,139.1 L690.0,136.6 L700.0,136.6 L710.0,139.1 L717.5,137.4 L726.2,135.4 L736.2,138.4 L745.0,136.6 L753.8,136.6 L762.5,134.9 L770.0,136.6 L776.2,135.4 L785.0,136.6 L795.0,136.6 L802.5,139.1 L810.0,139.1 L818.8,139.9 L826.2,142.4 L835.0,145.4 L842.5,144.1 L850.0,144.1 L856.2,143.4 L866.2,148.4 L875.0,144.9 L882.5,144.9 L891.2,143.4 L898.8,145.4 L907.5,145.4 L916.2,145.9 L925.0,149.9 L932.5,150.4 L940.0,151.6 L950.0,150.4 L957.5,152.4 L965.0,150.4 L972.5,149.9 L978.8,148.4 L985.0,151.6 L990.0,148.4 L992.5,147.9 L1000.0,149.9 L1005.0,147.4 L1010.0,152.9 L1017.5,148.4 L1025.0,152.9 L1032.5,153.4 L1042.5,153.4 L1050.0,151.6 L1057.5,149.1 L1065.0,147.4 L1072.5,147.9 L1080.0,149.1 L1087.5,151.6 L1097.5,151.6 L1105.0,149.9 L1112.5,152.4 L1120.0,151.6 L1130.0,152.4 L1137.5,155.9 L1145.0,153.4 L1152.5,150.4 L1160.0,148.4 L1166.2,145.9 L1172.5,147.9 L1177.5,146.6 L1180.5,149.1 L1181.8,149.1" fill="none" stroke-width="4" stroke-linejoin="round" stroke-linecap="butt"/><path d="M108.0,136.00H109.0V136.00H110.0V135.00H111.0V135.00H112.0V135.00H113.0V135.00H114.0V137.00H115.0V136.00H116.0V136.00H117.0V136.00H118.0V136.00H119.0V133.00H120.0V134.00H121.0V134.00H122.0V134.00H123.0V137.00H124.0V137.00H125.0V137.00H126.0V138.00H127.0V138.00H128.0V138.00H129.0V136.00H130.0V136.00H131.0V136.00H132.0V136.00H133.0V137.00H134.0V137.00H135.0V137.00H136.0V137.00H137.0V138.00H138.0V138.00H139.0V139.00H140.0V140.00H141.0V141.00H142.0V139.00H143.0V138.00H144.0V138.00H145.0V137.00H146.0V137.00H147.0V136.00H148.0V136.00H149.0V135.00H150.0V134.00H151.0V134.00H152.0V136.00H153.0V138.00H154.0V139.00H155.0V138.00H156.0V139.00H157.0V138.00H158.0V137.00H159.0V137.00H160.0V135.00H161.0V135.00H162.0V135.00H163.0V135.00H164.0V136.00H165.0V137.00H166.0V137.00H167.0V138.00H168.0V138.00H169.0V139.00H170.0V139.00H171.0V137.00H172.0V135.00H173.0V133.00H174.0V133.00H175.0V132.00H176.0V132.00H177.0V131.00H178.0V131.00H179.0V131.00H180.0V131.00H181.0V129.00H182.0V129.00H183.0V129.00H184.0V132.00H185.0V131.00H186.0V131.00H187.0V129.00H188.0V129.00H189.0V128.00H190.0V128.00H191.0V128.00H192.0V128.00H193.0V128.00H194.0V128.00H195.0V127.00H196.0V127.00H197.0V128.00H198.0V128.00H199.0V128.00H200.0V128.00H201.0V129.00H202.0V129.00H203.0V129.00H204.0V128.00H205.0V128.00H206.0V128.00H207.0V127.00H208.0V127.00H209.0V126.00H210.0V126.00H211.0V125.00H212.0V125.00H213.0V125.00H214.0V126.00H215.0V127.00H216.0V127.00H217.0V128.00H218.0V129.00H219.0V129.00H220.0V130.00H221.0V129.00H222.0V129.00H223.0V129.00H224.0V129.00H225.0V128.00H226.0V128.00H227.0V128.00H228.0V127.00H229.0V129.00H230.0V129.00H231.0V129.00H232.0V130.00H233.0V130.00H234.0V130.00H235.0V131.00H236.0V132.00H237.0V133.00H238.0V133.00H239.0V133.00H240.0V133.00H241.0V133.00H242.0V133.00H243.0V132.00H244.0V132.00H245.0V132.00H246.0V133.00H247.0V133.00H248.0V133.00H249.0V133.00H250.0V132.00H251.0V132.00H252.0V132.00H253.0V132.00H254.0V133.00H255.0V132.00H256.0V132.00H257.0V132.00H258.0V132.00H259.0V131.00H260.0V131.00H261.0V131.00H262.0V129.00H263.0V129.00H264.0V129.00H265.0V130.00H266.0V130.00H267.0V130.00H268.0V131.00H269.0V132.00H270.0V132.00H271.0V131.00H272.0V131.00H273.0V131.00H274.0V131.00H275.0V131.00H276.0V130.00H277.0V130.00H278.0V130.00H279.0V130.00H280.0V130.00H281.0V128.00H282.0V128.00H283.0V128.00H284.0V128.00H285.0V128.00H286.0V128.00H287.0V127.00H288.0V127.00H289.0V127.00H290.0V126.00H291.0V127.00H292.0V127.00H293.0V127.00H294.0V126.00H295.0V126.00H296.0V127.00H297.0V127.00H298.0V126.00H299.0V126.00H300.0V126.00H301.0V125.00H302.0V125.00H303.0V124.00H304.0V124.00H305.0V124.00H306.0V122.00H307.0V122.00H308.0V122.00H309.0V121.00H310.0V121.00H311.0V121.00H312.0V121.00H313.0V121.00H314.0V121.00H315.0V121.00H316.0V120.00H317.0V120.00H318.0V120.00H319.0V120.00H320.0V120.00H321.0V121.00H322.0V122.00H323.0V122.00H324.0V123.00H325.0V123.00H326.0V123.00H327.0V124.00H328.0V124.00H329.0V125.00H330.0V125.00H331.0V125.00H332.0V125.00H333.0V123.00H334.0V123.00H335.0V123.00H336.0V123.00H337.0V123.00H338.0V123.00H339.0V121.00H340.0V121.00H341.0V121.00H342.0V121.00H343.0V121.00H344.0V122.00H345.0V122.00H346.0V122.00H347.0V122.00H348.0V121.00H349.0V122.00H350.0V122.00H351.0V124.00H352.0V124.00H353.0V124.00H354.0V124.00H355.0V124.00H356.0V124.00H357.0V124.00H358.0V124.00H359.0V124.00H360.0V124.00H361.0V125.00H362.0V125.00H363.0V125.00H364.0V126.00H365.0V126.00H366.0V126.00H367.0V124.00H368.0V124.00H369.0V124.00H370.0V125.00H371.0V125.00H372.0V124.00H373.0V124.00H374.0V125.00H375.0V125.00H376.0V125.00H377.0V125.00H378.0V125.00H379.0V125.00H380.0V125.00H381.0V126.00H382.0V126.00H383.0V126.00H384.0V126.00H385.0V126.00H386.0V126.00H387.0V126.00H388.0V125.00H389.0V126.00H390.0V126.00H391.0V126.00H392.0V126.00H393.0V126.00H394.0V126.00H395.0V126.00H396.0V126.00H397.0V128.00H398.0V128.00H399.0V128.00H400.0V129.00H401.0V129.00H402.0V130.00H403.0V130.00H404.0V130.00H405.0V130.00H406.0V129.00H407.0V128.00H408.0V128.00H409.0V128.00H410.0V127.00H411.0V127.00H412.0V127.00H413.0V128.00H414.0V128.00H415.0V128.00H416.0V127.00H417.0V127.00H418.0V127.00H419.0V125.00H420.0V125.00H421.0V125.00H422.0V125.00H423.0V124.00H424.0V124.00H425.0V124.00H426.0V124.00H427.0V124.00H428.0V124.00H429.0V125.00H430.0V125.00H431.0V126.00H432.0V126.00H433.0V126.00H434.0V127.00H435.0V127.00H436.0V127.00H437.0V127.00H438.0V127.00H439.0V127.00H440.0V127.00H441.0V127.00H442.0V126.00H443.0V126.00H444.0V125.00H445.0V125.00H446.0V125.00H447.0V125.00H448.0V125.00H449.0V124.00H450.0V124.00H451.0V125.00H452.0V125.00H453.0V125.00H454.0V125.00H455.0V125.00H456.0V125.00H457.0V125.00H458.0V125.00H459.0V124.00H460.0V124.00H461.0V125.00H462.0V126.00H463.0V126.00H464.0V126.00H465.0V127.00H466.0V127.00H467.0V127.00H468.0V127.00H469.0V127.00H470.0V127.00H471.0V128.00H472.0V128.00H473.0V128.00H474.0V129.00H475.0V129.00H476.0V130.00H477.0V130.00H478.0V131.00H479.0V131.00H480.0V131.00H481.0V131.00H482.0V131.00H483.0V131.00H484.0V131.00H485.0V131.00H486.0V131.00H487.0V131.00H488.0V132.00H489.0V132.00H490.0V130.00H491.0V130.00H492.0V130.00H493.0V130.00H494.0V131.00H495.0V131.00H496.0V131.00H497.0V131.00H498.0V132.00H499.0V132.00H500.0V132.00H501.0V132.00H502.0V133.00H503.0V133.00H504.0V133.00H505.0V133.00H506.0V132.00H507.0V132.00H508.0V132.00H509.0V132.00H510.0V132.00H511.0V133.00H512.0V132.00H513.0V133.00H514.0V133.00H515.0V133.00H516.0V133.00H517.0V134.00H518.0V134.00H519.0V135.00H520.0V135.00H521.0V135.00H522.0V135.00H523.0V135.00H524.0V134.00H525.0V134.00H526.0V136.00H527.0V135.00H528.0V135.00H529.0V134.00H530.0V134.00H531.0V134.00H532.0V134.00H533.0V135.00H534.0V137.00H535.0V137.00H536.0V137.00H537.0V137.00H538.0V137.00H539.0V137.00H540.0V137.00H541.0V137.00H542.0V137.00H543.0V137.00H544.0V134.00H545.0V134.00H546.0V133.00H547.0V133.00H548.0V133.00H549.0V133.00H550.0V132.00H551.0V132.00H552.0V132.00H553.0V132.00H554.0V134.00H555.0V134.00H556.0V134.00H557.0V134.00H558.0V135.00H559.0V135.00H560.0V135.00H561.0V136.00H562.0V136.00H563.0V137.00H564.0V137.00H565.0V137.00H566.0V137.00H567.0V137.00H568.0V136.00H569.0V136.00H570.0V136.00H571.0V136.00H572.0V137.00H573.0V137.00H574.0V137.00H575.0V137.00H576.0V137.00H577.0V137.00H578.0V137.00H579.0V137.00H580.0V136.00H581.0V135.00H582.0V133.00H583.0V132.00H584.0V131.00H585.0V130.00H586.0V130.00H587.0V129.00H588.0V129.00H589.0V128.00H590.0V128.00H591.0V128.00H592.0V128.00H593.0V128.00H594.0V129.00H595.0V129.00H596.0V129.00H597.0V129.00H598.0V129.00H599.0V127.00H600.0V127.00H601.0V127.00H602.0V129.00H603.0V131.00H604.0V132.00H605.0V134.00H606.0V133.00H607.0V133.00H608.0V132.00H609.0V132.00H610.0V133.00H611.0V133.00H612.0V132.00H613.0V132.00H614.0V132.00H615.0V131.00H616.0V130.00H617.0V129.00H618.0V129.00H619.0V129.00H620.0V129.00H621.0V129.00H622.0V129.00H623.0V129.00H624.0V129.00H625.0V130.00H626.0V132.00H627.0V133.00H628.0V134.00H629.0V135.00H630.0V137.00H631.0V138.00H632.0V138.00H633.0V139.00H634.0V140.00H635.0V140.00H636.0V140.00H637.0V140.00H638.0V140.00H639.0V139.00H640.0V139.00H641.0V138.00H642.0V137.00H643.0V137.00H644.0V137.00H645.0V137.00H646.0V137.00H647.0V137.00H648.0V136.00H649.0V135.00H650.0V135.00H651.0V138.00H652.0V138.00H653.0V137.00H654.0V136.00H655.0V136.00H656.0V135.00H657.0V135.00H658.0V135.00H659.0V135.00H660.0V136.00H661.0V136.00H662.0V136.00H663.0V136.00H664.0V137.00H665.0V137.00H666.0V137.00H667.0V137.00H668.0V138.00H669.0V137.00H670.0V137.00H671.0V137.00H672.0V137.00H673.0V136.00H674.0V136.00H675.0V136.00H676.0V136.00H677.0V136.00H678.0V135.00H679.0V135.00H680.0V135.00H681.0V135.00H682.0V135.00H683.0V134.00H684.0V134.00H685.0V134.00H686.0V135.00H687.0V134.00H688.0V134.00H689.0V135.00H690.0V134.00H691.0V134.00H692.0V134.00H693.0V134.00H694.0V134.00H695.0V134.00H696.0V134.00H697.0V134.00H698.0V134.00H699.0V133.00H700.0V133.00H701.0V133.00H702.0V133.00H703.0V134.00H704.0V134.00H705.0V134.00H706.0V134.00H707.0V135.00H708.0V135.00H709.0V135.00H710.0V136.00H711.0V136.00H712.0V136.00H713.0V136.00H714.0V135.00H715.0V135.00H716.0V135.00H717.0V134.00H718.0V134.00H719.0V134.00H720.0V134.00H721.0V134.00H722.0V133.00H723.0V133.00H724.0V133.00H725.0V132.00H726.0V132.00H727.0V132.00H728.0V132.00H729.0V132.00H730.0V132.00H731.0V133.00H732.0V132.00H733.0V133.00H734.0V133.00H735.0V133.00H736.0V134.00H737.0V134.00H738.0V133.00H739.0V133.00H740.0V133.00H741.0V133.00H742.0V132.00H743.0V132.00H744.0V132.00H745.0V132.00H746.0V132.00H747.0V134.00H748.0V134.00H749.0V134.00H750.0V134.00H751.0V133.00H752.0V133.00H753.0V133.00H754.0V133.00H755.0V133.00H756.0V133.00H757.0V133.00H758.0V133.00H759.0V133.00H760.0V133.00H761.0V132.00H762.0V132.00H763.0V133.00H764.0V133.00H765.0V133.00H766.0V133.00H767.0V134.00H768.0V133.00H769.0V133.00H770.0V133.00H771.0V133.00H772.0V133.00H773.0V133.00H774.0V133.00H775.0V133.00H776.0V133.00H777.0V133.00H778.0V133.00H779.0V133.00H780.0V133.00H781.0V132.00H782.0V133.00H783.0V133.00H784.0V133.00H785.0V133.00H786.0V133.00H787.0V133.00H788.0V133.00H789.0V133.00H790.0V133.00H791.0V133.00H792.0V133.00H793.0V133.00H794.0V133.00H795.0V133.00H796.0V134.00H797.0V134.00H798.0V134.00H799.0V135.00H800.0V136.00H801.0V136.00H802.0V136.00H803.0V136.00H804.0V136.00H805.0V136.00H806.0V136.00H807.0V135.00H808.0V135.00H809.0V135.00H810.0V135.00H811.0V135.00H812.0V135.00H813.0V135.00H814.0V136.00H815.0V135.00H816.0V135.00H817.0V135.00H818.0V136.00H819.0V136.00H820.0V136.00H821.0V138.00H822.0V138.00H823.0V139.00H824.0V139.00H825.0V139.00H826.0V140.00H827.0V140.00H828.0V140.00H829.0V141.00H830.0V141.00H831.0V139.00H832.0V139.00H833.0V140.00H834.0V140.00H835.0V142.00H836.0V142.00H837.0V142.00H838.0V140.00H839.0V140.00H840.0V140.00H841.0V140.00H842.0V142.00H843.0V141.00H844.0V141.00H845.0V141.00H846.0V141.00H847.0V141.00H848.0V140.00H849.0V140.00H850.0V140.00H851.0V140.00H852.0V140.00H853.0V140.00H854.0V140.00H855.0V139.00H856.0V139.00H857.0V139.00H858.0V140.00H859.0V141.00H860.0V141.00H861.0V142.00H862.0V142.00H863.0V143.00H864.0V143.00H865.0V144.00H866.0V144.00H867.0V144.00H868.0V144.00H869.0V144.00H870.0V143.00H871.0V143.00H872.0V142.00H873.0V142.00H874.0V142.00H875.0V141.00H876.0V141.00H877.0V141.00H878.0V141.00H879.0V141.00H880.0V142.00H881.0V142.00H882.0V142.00H883.0V142.00H884.0V142.00H885.0V141.00H886.0V141.00H887.0V141.00H888.0V140.00H889.0V140.00H890.0V140.00H891.0V140.00H892.0V140.00H893.0V140.00H894.0V141.00H895.0V141.00H896.0V142.00H897.0V142.00H898.0V142.00H899.0V143.00H900.0V143.00H901.0V143.00H902.0V143.00H903.0V143.00H904.0V143.00H905.0V143.00H906.0V143.00H907.0V143.00H908.0V143.00H909.0V143.00H910.0V143.00H911.0V143.00H912.0V143.00H913.0V142.00H914.0V142.00H915.0V142.00H916.0V142.00H917.0V142.00H918.0V145.00H919.0V145.00H920.0V146.00H921.0V146.00H922.0V147.00H923.0V147.00H924.0V147.00H925.0V148.00H926.0V145.00H927.0V145.00H928.0V145.00H929.0V145.00H930.0V145.00H931.0V148.00H932.0V148.00H933.0V148.00H934.0V148.00H935.0V149.00H936.0V149.00H937.0V149.00H938.0V149.00H939.0V148.00H940.0V149.00H941.0V149.00H942.0V148.00H943.0V148.00H944.0V148.00H945.0V148.00H946.0V148.00H947.0V146.00H948.0V146.00H949.0V146.00H950.0V146.00H951.0V146.00H952.0V146.00H953.0V147.00H954.0V147.00H955.0V147.00H956.0V147.00H957.0V148.00H958.0V148.00H959.0V148.00H960.0V147.00H961.0V147.00H962.0V147.00H963.0V147.00H964.0V147.00H965.0V146.00H966.0V146.00H967.0V146.00H968.0V146.00H969.0V146.00H970.0V146.00H971.0V146.00H972.0V146.00H973.0V146.00H974.0V146.00H975.0V144.00H976.0V144.00H977.0V144.00H978.0V144.00H979.0V144.00H980.0V144.00H981.0V146.00H982.0V147.00H983.0V147.00H984.0V148.00H985.0V149.00H986.0V148.00H987.0V147.00H988.0V147.00H989.0V144.00H990.0V144.00H991.0V143.00H992.0V144.00H993.0V144.00H994.0V145.00H995.0V145.00H996.0V145.00H997.0V146.00H998.0V146.00H999.0V146.00H1000.0V146.00H1001.0V146.00H1002.0V145.00H1003.0V145.00H1004.0V144.00H1005.0V144.00H1006.0V145.00H1007.0V147.00H1008.0V148.00H1009.0V149.00H1010.0V150.00H1011.0V149.00H1012.0V149.00H1013.0V148.00H1014.0V147.00H1015.0V147.00H1016.0V146.00H1017.0V145.00H1018.0V145.00H1019.0V145.00H1020.0V146.00H1021.0V146.00H1022.0V147.00H1023.0V148.00H1024.0V148.00H1025.0V149.00H1026.0V149.00H1027.0V150.00H1028.0V150.00H1029.0V150.00H1030.0V150.00H1031.0V150.00H1032.0V149.00H1033.0V149.00H1034.0V149.00H1035.0V149.00H1036.0V149.00H1037.0V150.00H1038.0V150.00H1039.0V150.00H1040.0V150.00H1041.0V149.00H1042.0V149.00H1043.0V149.00H1044.0V148.00H1045.0V148.00H1046.0V148.00H1047.0V148.00H1048.0V147.00H1049.0V150.00H1050.0V150.00H1051.0V149.00H1052.0V149.00H1053.0V149.00H1054.0V147.00H1055.0V147.00H1056.0V147.00H1057.0V146.00H1058.0V146.00H1059.0V146.00H1060.0V146.00H1061.0V146.00H1062.0V146.00H1063.0V146.00H1064.0V146.00H1065.0V145.00H1066.0V144.00H1067.0V144.00H1068.0V144.00H1069.0V144.00H1070.0V143.00H1071.0V143.00H1072.0V143.00H1073.0V145.00H1074.0V146.00H1075.0V146.00H1076.0V146.00H1077.0V146.00H1078.0V146.00H1079.0V146.00H1080.0V147.00H1081.0V146.00H1082.0V146.00H1083.0V146.00H1084.0V147.00H1085.0V147.00H1086.0V147.00H1087.0V148.00H1088.0V148.00H1089.0V148.00H1090.0V148.00H1091.0V148.00H1092.0V148.00H1093.0V148.00H1094.0V148.00H1095.0V149.00H1096.0V149.00H1097.0V149.00H1098.0V149.00H1099.0V149.00H1100.0V148.00H1101.0V148.00H1102.0V148.00H1103.0V148.00H1104.0V147.00H1105.0V147.00H1106.0V148.00H1107.0V148.00H1108.0V148.00H1109.0V149.00H1110.0V149.00H1111.0V149.00H1112.0V150.00H1113.0V150.00H1114.0V149.00H1115.0V149.00H1116.0V148.00H1117.0V148.00H1118.0V148.00H1119.0V148.00H1120.0V148.00H1121.0V148.00H1122.0V148.00H1123.0V148.00H1124.0V149.00H1125.0V149.00H1126.0V150.00H1127.0V150.00H1128.0V150.00H1129.0V150.00H1130.0V149.00H1131.0V150.00H1132.0V150.00H1133.0V151.00H1134.0V151.00H1135.0V152.00H1136.0V152.00H1137.0V152.00H1138.0V152.00H1139.0V152.00H1140.0V152.00H1141.0V152.00H1142.0V152.00H1143.0V152.00H1144.0V150.00H1145.0V150.00H1146.0V149.00H1147.0V149.00H1148.0V148.00H1149.0V150.00H1150.0V149.00H1151.0V149.00H1152.0V149.00H1153.0V148.00H1154.0V148.00H1155.0V148.00H1156.0V147.00H1157.0V147.00H1158.0V147.00H1159.0V146.00H1160.0V146.00H1161.0V146.00H1162.0V145.00H1163.0V145.00H1164.0V145.00H1165.0V142.00H1166.0V142.00H1167.0V142.00H1168.0V142.00H1169.0V142.00H1170.0V143.00H1171.0V143.00H1172.0V143.00H1173.0V145.00H1174.0V145.00H1175.0V145.00H1176.0V143.00H1177.0V143.00H1178.0V143.00H1179.0V144.00H1180.0V146.00H1181.0V146.00V153.00H1180.0V153.00H1179.0V153.00H1178.0V152.00H1177.0V151.00H1176.0V152.00H1175.0V152.00H1174.0V152.00H1173.0V152.00H1172.0V152.00H1171.0V152.00H1170.0V151.00H1169.0V151.00H1168.0V150.00H1167.0V149.00H1166.0V149.00H1165.0V150.00H1164.0V150.00H1163.0V150.00H1162.0V150.00H1161.0V150.00H1160.0V151.00H1159.0V151.00H1158.0V151.00H1157.0V152.00H1156.0V154.00H1155.0V154.00H1154.0V155.00H1153.0V155.00H1152.0V155.00H1151.0V156.00H1150.0V156.00H1149.0V157.00H1148.0V157.00H1147.0V157.00H1146.0V155.00H1145.0V155.00H1144.0V156.00H1143.0V158.00H1142.0V158.00H1141.0V158.00H1140.0V159.00H1139.0V159.00H1138.0V159.00H1137.0V159.00H1136.0V159.00H1135.0V158.00H1134.0V157.00H1133.0V157.00H1132.0V156.00H1131.0V156.00H1130.0V155.00H1129.0V155.00H1128.0V155.00H1127.0V155.00H1126.0V155.00H1125.0V156.00H1124.0V155.00H1123.0V155.00H1122.0V155.00H1121.0V155.00H1120.0V155.00H1119.0V155.00H1118.0V155.00H1117.0V155.00H1116.0V155.00H1115.0V155.00H1114.0V155.00H1113.0V155.00H1112.0V155.00H1111.0V155.00H1110.0V155.00H1109.0V154.00H1108.0V154.00H1107.0V154.00H1106.0V153.00H1105.0V153.00H1104.0V153.00H1103.0V153.00H1102.0V153.00H1101.0V155.00H1100.0V155.00H1099.0V155.00H1098.0V155.00H1097.0V155.00H1096.0V155.00H1095.0V155.00H1094.0V155.00H1093.0V155.00H1092.0V155.00H1091.0V155.00H1090.0V155.00H1089.0V155.00H1088.0V155.00H1087.0V155.00H1086.0V154.00H1085.0V154.00H1084.0V154.00H1083.0V153.00H1082.0V153.00H1081.0V152.00H1080.0V152.00H1079.0V151.00H1078.0V151.00H1077.0V151.00H1076.0V151.00H1075.0V151.00H1074.0V151.00H1073.0V151.00H1072.0V151.00H1071.0V150.00H1070.0V150.00H1069.0V150.00H1068.0V150.00H1067.0V150.00H1066.0V150.00H1065.0V150.00H1064.0V150.00H1063.0V153.00H1062.0V153.00H1061.0V153.00H1060.0V153.00H1059.0V154.00H1058.0V154.00H1057.0V153.00H1056.0V153.00H1055.0V154.00H1054.0V154.00H1053.0V154.00H1052.0V155.00H1051.0V155.00H1050.0V155.00H1049.0V156.00H1048.0V156.00H1047.0V156.00H1046.0V156.00H1045.0V157.00H1044.0V157.00H1043.0V157.00H1042.0V157.00H1041.0V157.00H1040.0V157.00H1039.0V156.00H1038.0V156.00H1037.0V156.00H1036.0V156.00H1035.0V156.00H1034.0V156.00H1033.0V156.00H1032.0V156.00H1031.0V156.00H1030.0V156.00H1029.0V156.00H1028.0V156.00H1027.0V156.00H1026.0V156.00H1025.0V156.00H1024.0V155.00H1023.0V155.00H1022.0V154.00H1021.0V153.00H1020.0V153.00H1019.0V154.00H1018.0V153.00H1017.0V153.00H1016.0V154.00H1015.0V155.00H1014.0V155.00H1013.0V156.00H1012.0V157.00H1011.0V157.00H1010.0V158.00H1009.0V155.00H1008.0V154.00H1007.0V153.00H1006.0V153.00H1005.0V151.00H1004.0V152.00H1003.0V152.00H1002.0V152.00H1001.0V153.00H1000.0V153.00H999.0V153.00H998.0V153.00H997.0V152.00H996.0V154.00H995.0V153.00H994.0V153.00H993.0V153.00H992.0V153.00H991.0V152.00H990.0V153.00H989.0V153.00H988.0V154.00H987.0V155.00H986.0V155.00H985.0V156.00H984.0V155.00H983.0V155.00H982.0V154.00H981.0V153.00H980.0V153.00H979.0V152.00H978.0V152.00H977.0V153.00H976.0V153.00H975.0V153.00H974.0V153.00H973.0V153.00H972.0V153.00H971.0V153.00H970.0V154.00H969.0V154.00H968.0V154.00H967.0V154.00H966.0V155.00H965.0V155.00H964.0V155.00H963.0V155.00H962.0V156.00H961.0V156.00H960.0V156.00H959.0V157.00H958.0V157.00H957.0V157.00H956.0V155.00H955.0V155.00H954.0V155.00H953.0V155.00H952.0V154.00H951.0V154.00H950.0V153.00H949.0V153.00H948.0V155.00H947.0V155.00H946.0V155.00H945.0V155.00H944.0V155.00H943.0V155.00H942.0V155.00H941.0V155.00H940.0V155.00H939.0V155.00H938.0V155.00H937.0V154.00H936.0V154.00H935.0V156.00H934.0V155.00H933.0V155.00H932.0V155.00H931.0V155.00H930.0V155.00H929.0V155.00H928.0V155.00H927.0V154.00H926.0V154.00H925.0V154.00H924.0V153.00H923.0V153.00H922.0V152.00H921.0V152.00H920.0V151.00H919.0V151.00H918.0V151.00H917.0V150.00H916.0V150.00H915.0V150.00H914.0V149.00H913.0V149.00H912.0V149.00H911.0V148.00H910.0V148.00H909.0V148.00H908.0V148.00H907.0V148.00H906.0V148.00H905.0V148.00H904.0V148.00H903.0V148.00H902.0V148.00H901.0V150.00H900.0V150.00H899.0V150.00H898.0V148.00H897.0V147.00H896.0V147.00H895.0V147.00H894.0V148.00H893.0V147.00H892.0V147.00H891.0V147.00H890.0V147.00H889.0V147.00H888.0V146.00H887.0V146.00H886.0V146.00H885.0V147.00H884.0V147.00H883.0V149.00H882.0V149.00H881.0V149.00H880.0V149.00H879.0V149.00H878.0V149.00H877.0V149.00H876.0V149.00H875.0V149.00H874.0V148.00H873.0V148.00H872.0V149.00H871.0V149.00H870.0V149.00H869.0V151.00H868.0V151.00H867.0V151.00H866.0V152.00H865.0V151.00H864.0V151.00H863.0V150.00H862.0V150.00H861.0V150.00H860.0V150.00H859.0V149.00H858.0V149.00H857.0V148.00H856.0V147.00H855.0V148.00H854.0V148.00H853.0V148.00H852.0V148.00H851.0V148.00H850.0V148.00H849.0V148.00H848.0V149.00H847.0V149.00H846.0V149.00H845.0V149.00H844.0V149.00H843.0V149.00H842.0V149.00H841.0V149.00H840.0V149.00H839.0V149.00H838.0V149.00H837.0V149.00H836.0V150.00H835.0V150.00H834.0V149.00H833.0V149.00H832.0V149.00H831.0V149.00H830.0V148.00H829.0V148.00H828.0V148.00H827.0V147.00H826.0V146.00H825.0V146.00H824.0V145.00H823.0V145.00H822.0V144.00H821.0V144.00H820.0V144.00H819.0V143.00H818.0V143.00H817.0V143.00H816.0V143.00H815.0V143.00H814.0V143.00H813.0V143.00H812.0V143.00H811.0V143.00H810.0V143.00H809.0V143.00H808.0V143.00H807.0V143.00H806.0V143.00H805.0V143.00H804.0V143.00H803.0V143.00H802.0V143.00H801.0V143.00H800.0V142.00H799.0V142.00H798.0V141.00H797.0V141.00H796.0V141.00H795.0V140.00H794.0V140.00H793.0V140.00H792.0V140.00H791.0V140.00H790.0V140.00H789.0V140.00H788.0V140.00H787.0V140.00H786.0V140.00H785.0V140.00H784.0V140.00H783.0V140.00H782.0V139.00H781.0V139.00H780.0V139.00H779.0V139.00H778.0V140.00H777.0V140.00H776.0V140.00H775.0V140.00H774.0V140.00H773.0V140.00H772.0V140.00H771.0V141.00H770.0V140.00H769.0V140.00H768.0V139.00H767.0V139.00H766.0V139.00H765.0V139.00H764.0V139.00H763.0V138.00H762.0V138.00H761.0V137.00H760.0V138.00H759.0V138.00H758.0V140.00H757.0V140.00H756.0V140.00H755.0V140.00H754.0V140.00H753.0V140.00H752.0V140.00H751.0V140.00H750.0V140.00H749.0V140.00H748.0V140.00H747.0V140.00H746.0V140.00H745.0V140.00H744.0V140.00H743.0V141.00H742.0V141.00H741.0V141.00H740.0V141.00H739.0V141.00H738.0V141.00H737.0V142.00H736.0V142.00H735.0V141.00H734.0V141.00H733.0V141.00H732.0V140.00H731.0V140.00H730.0V139.00H729.0V139.00H728.0V139.00H727.0V139.00H726.0V138.00H725.0V139.00H724.0V140.00H723.0V141.00H722.0V141.00H721.0V141.00H720.0V141.00H719.0V142.00H718.0V142.00H717.0V142.00H716.0V142.00H715.0V142.00H714.0V142.00H713.0V141.00H712.0V142.00H711.0V142.00H710.0V142.00H709.0V142.00H708.0V142.00H707.0V142.00H706.0V142.00H705.0V141.00H704.0V141.00H703.0V141.00H702.0V141.00H701.0V140.00H700.0V140.00H699.0V140.00H698.0V142.00H697.0V142.00H696.0V142.00H695.0V142.00H694.0V142.00H693.0V142.00H692.0V142.00H691.0V142.00H690.0V142.00H689.0V142.00H688.0V142.00H687.0V142.00H686.0V142.00H685.0V143.00H684.0V143.00H683.0V143.00H682.0V143.00H681.0V144.00H680.0V143.00H679.0V143.00H678.0V143.00H677.0V143.00H676.0V143.00H675.0V143.00H674.0V143.00H673.0V144.00H672.0V144.00H671.0V145.00H670.0V145.00H669.0V145.00H668.0V145.00H667.0V145.00H666.0V145.00H665.0V145.00H664.0V143.00H663.0V143.00H662.0V143.00H661.0V143.00H660.0V142.00H659.0V142.00H658.0V142.00H657.0V142.00H656.0V143.00H655.0V143.00H654.0V144.00H653.0V144.00H652.0V144.00H651.0V144.00H650.0V144.00H649.0V144.00H648.0V144.00H647.0V145.00H646.0V145.00H645.0V145.00H644.0V145.00H643.0V145.00H642.0V145.00H641.0V145.00H640.0V146.00H639.0V146.00H638.0V147.00H637.0V148.00H636.0V150.00H635.0V149.00H634.0V148.00H633.0V147.00H632.0V147.00H631.0V145.00H630.0V144.00H629.0V143.00H628.0V142.00H627.0V141.00H626.0V139.00H625.0V138.00H624.0V137.00H623.0V136.00H622.0V137.00H621.0V137.00H620.0V137.00H619.0V137.00H618.0V137.00H617.0V137.00H616.0V137.00H615.0V137.00H614.0V137.00H613.0V138.00H612.0V138.00H611.0V138.00H610.0V140.00H609.0V140.00H608.0V141.00H607.0V141.00H606.0V141.00H605.0V142.00H604.0V140.00H603.0V138.00H602.0V137.00H601.0V135.00H600.0V136.00H599.0V136.00H598.0V136.00H597.0V136.00H596.0V136.00H595.0V136.00H594.0V135.00H593.0V135.00H592.0V135.00H591.0V135.00H590.0V135.00H589.0V136.00H588.0V136.00H587.0V137.00H586.0V136.00H585.0V137.00H584.0V137.00H583.0V138.00H582.0V139.00H581.0V140.00H580.0V141.00H579.0V142.00H578.0V142.00H577.0V143.00H576.0V143.00H575.0V143.00H574.0V143.00H573.0V143.00H572.0V143.00H571.0V144.00H570.0V144.00H569.0V144.00H568.0V144.00H567.0V144.00H566.0V144.00H565.0V144.00H564.0V144.00H563.0V145.00H562.0V144.00H561.0V144.00H560.0V143.00H559.0V143.00H558.0V143.00H557.0V142.00H556.0V142.00H555.0V142.00H554.0V142.00H553.0V140.00H552.0V140.00H551.0V140.00H550.0V140.00H549.0V140.00H548.0V140.00H547.0V143.00H546.0V143.00H545.0V143.00H544.0V143.00H543.0V143.00H542.0V143.00H541.0V142.00H540.0V142.00H539.0V142.00H538.0V142.00H537.0V142.00H536.0V141.00H535.0V141.00H534.0V141.00H533.0V141.00H532.0V141.00H531.0V141.00H530.0V141.00H529.0V141.00H528.0V141.00H527.0V141.00H526.0V141.00H525.0V142.00H524.0V142.00H523.0V142.00H522.0V142.00H521.0V142.00H520.0V143.00H519.0V142.00H518.0V142.00H517.0V141.00H516.0V141.00H515.0V140.00H514.0V140.00H513.0V140.00H512.0V139.00H511.0V139.00H510.0V139.00H509.0V138.00H508.0V141.00H507.0V141.00H506.0V141.00H505.0V141.00H504.0V139.00H503.0V139.00H502.0V139.00H501.0V139.00H500.0V139.00H499.0V139.00H498.0V139.00H497.0V139.00H496.0V139.00H495.0V139.00H494.0V138.00H493.0V138.00H492.0V139.00H491.0V139.00H490.0V139.00H489.0V139.00H488.0V138.00H487.0V138.00H486.0V138.00H485.0V138.00H484.0V138.00H483.0V138.00H482.0V136.00H481.0V136.00H480.0V136.00H479.0V136.00H478.0V137.00H477.0V136.00H476.0V136.00H475.0V135.00H474.0V135.00H473.0V134.00H472.0V134.00H471.0V134.00H470.0V134.00H469.0V134.00H468.0V133.00H467.0V133.00H466.0V133.00H465.0V133.00H464.0V132.00H463.0V132.00H462.0V132.00H461.0V132.00H460.0V132.00H459.0V131.00H458.0V131.00H457.0V131.00H456.0V131.00H455.0V131.00H454.0V131.00H453.0V131.00H452.0V131.00H451.0V131.00H450.0V131.00H449.0V131.00H448.0V129.00H447.0V130.00H446.0V130.00H445.0V131.00H444.0V131.00H443.0V132.00H442.0V132.00H441.0V132.00H440.0V132.00H439.0V132.00H438.0V135.00H437.0V135.00H436.0V135.00H435.0V135.00H434.0V133.00H433.0V132.00H432.0V132.00H431.0V131.00H430.0V131.00H429.0V132.00H428.0V132.00H427.0V132.00H426.0V132.00H425.0V132.00H424.0V132.00H423.0V132.00H422.0V132.00H421.0V133.00H420.0V133.00H419.0V133.00H418.0V134.00H417.0V134.00H416.0V134.00H415.0V134.00H414.0V134.00H413.0V134.00H412.0V135.00H411.0V135.00H410.0V136.00H409.0V136.00H408.0V137.00H407.0V137.00H406.0V137.00H405.0V138.00H404.0V138.00H403.0V138.00H402.0V134.00H401.0V134.00H400.0V133.00H399.0V133.00H398.0V133.00H397.0V133.00H396.0V133.00H395.0V133.00H394.0V133.00H393.0V133.00H392.0V133.00H391.0V133.00H390.0V133.00H389.0V132.00H388.0V132.00H387.0V132.00H386.0V132.00H385.0V132.00H384.0V132.00H383.0V132.00H382.0V132.00H381.0V131.00H380.0V134.00H379.0V134.00H378.0V134.00H377.0V134.00H376.0V133.00H375.0V133.00H374.0V131.00H373.0V131.00H372.0V131.00H371.0V131.00H370.0V131.00H369.0V132.00H368.0V132.00H367.0V132.00H366.0V132.00H365.0V132.00H364.0V132.00H363.0V132.00H362.0V132.00H361.0V132.00H360.0V131.00H359.0V131.00H358.0V132.00H357.0V132.00H356.0V132.00H355.0V132.00H354.0V131.00H353.0V130.00H352.0V130.00H351.0V130.00H350.0V130.00H349.0V130.00H348.0V129.00H347.0V129.00H346.0V129.00H345.0V128.00H344.0V128.00H343.0V128.00H342.0V128.00H341.0V128.00H340.0V128.00H339.0V128.00H338.0V129.00H337.0V129.00H336.0V130.00H335.0V130.00H334.0V130.00H333.0V130.00H332.0V130.00H331.0V130.00H330.0V130.00H329.0V130.00H328.0V130.00H327.0V130.00H326.0V129.00H325.0V129.00H324.0V128.00H323.0V128.00H322.0V128.00H321.0V128.00H320.0V128.00H319.0V128.00H318.0V128.00H317.0V128.00H316.0V129.00H315.0V129.00H314.0V129.00H313.0V129.00H312.0V128.00H311.0V128.00H310.0V128.00H309.0V129.00H308.0V129.00H307.0V129.00H306.0V129.00H305.0V130.00H304.0V130.00H303.0V130.00H302.0V133.00H301.0V133.00H300.0V134.00H299.0V134.00H298.0V134.00H297.0V134.00H296.0V135.00H295.0V135.00H294.0V135.00H293.0V136.00H292.0V134.00H291.0V135.00H290.0V135.00H289.0V135.00H288.0V135.00H287.0V136.00H286.0V136.00H285.0V136.00H284.0V136.00H283.0V136.00H282.0V137.00H281.0V137.00H280.0V137.00H279.0V138.00H278.0V138.00H277.0V138.00H276.0V139.00H275.0V139.00H274.0V139.00H273.0V138.00H272.0V138.00H271.0V138.00H270.0V139.00H269.0V138.00H268.0V138.00H267.0V138.00H266.0V137.00H265.0V139.00H264.0V139.00H263.0V138.00H262.0V138.00H261.0V139.00H260.0V139.00H259.0V139.00H258.0V139.00H257.0V139.00H256.0V139.00H255.0V139.00H254.0V140.00H253.0V140.00H252.0V139.00H251.0V139.00H250.0V139.00H249.0V140.00H248.0V140.00H247.0V140.00H246.0V139.00H245.0V139.00H244.0V139.00H243.0V138.00H242.0V138.00H241.0V138.00H240.0V137.00H239.0V138.00H238.0V138.00H237.0V137.00H236.0V138.00H235.0V137.00H234.0V136.00H233.0V136.00H232.0V136.00H231.0V135.00H230.0V135.00H229.0V135.00H228.0V135.00H227.0V135.00H226.0V136.00H225.0V136.00H224.0V137.00H223.0V137.00H222.0V137.00H221.0V137.00H220.0V137.00H219.0V135.00H218.0V134.00H217.0V134.00H216.0V133.00H215.0V132.00H214.0V132.00H213.0V131.00H212.0V131.00H211.0V131.00H210.0V131.00H209.0V133.00H208.0V133.00H207.0V134.00H206.0V133.00H205.0V134.00H204.0V134.00H203.0V135.00H202.0V135.00H201.0V136.00H200.0V136.00H199.0V136.00H198.0V135.00H197.0V136.00H196.0V136.00H195.0V136.00H194.0V136.00H193.0V137.00H192.0V137.00H191.0V137.00H190.0V137.00H189.0V137.00H188.0V138.00H187.0V138.00H186.0V138.00H185.0V138.00H184.0V138.00H183.0V139.00H182.0V137.00H181.0V137.00H180.0V137.00H179.0V137.00H178.0V137.00H177.0V137.00H176.0V137.00H175.0V138.00H174.0V138.00H173.0V139.00H172.0V141.00H171.0V143.00H170.0V146.00H169.0V145.00H168.0V147.00H167.0V147.00H166.0V146.00H165.0V145.00H164.0V145.00H163.0V144.00H162.0V143.00H161.0V143.00H160.0V143.00H159.0V144.00H158.0V144.00H157.0V144.00H156.0V145.00H155.0V146.00H154.0V147.00H153.0V146.00H152.0V145.00H151.0V143.00H150.0V143.00H149.0V144.00H148.0V145.00H147.0V145.00H146.0V145.00H145.0V146.00H144.0V146.00H143.0V147.00H142.0V148.00H141.0V149.00H140.0V148.00H139.0V147.00H138.0V146.00H137.0V145.00H136.0V145.00H135.0V146.00H134.0V146.00H133.0V146.00H132.0V146.00H131.0V145.00H130.0V145.00H129.0V145.00H128.0V145.00H127.0V145.00H126.0V145.00H125.0V144.00H124.0V144.00H123.0V144.00H122.0V144.00H121.0V143.00H120.0V143.00H119.0V143.00H118.0V143.00H117.0V143.00H116.0V143.00H115.0V143.00H114.0V141.00H113.0V141.00H112.0V141.00H111.0V141.00H110.0V143.00H109.0V143.00H108.0V144.00Z" stroke-width="1.2" stroke-linejoin="round"/></g>
<g fill="#7030A0" stroke="#7030A0"><path d="M100.5,137.0 L101.5,150.0 L102.5,162.0 L104.0,164.0 L105.5,159.0 L108.0,151.0 L110.5,143.0 L112.0,134.0 L113.5,129.5" fill="none" stroke-width="5.5" stroke-linejoin="round" stroke-linecap="butt"/><path d="M100.5,137.0 L101.5,150.0 L102.5,162.0 L104.0,164.0 L105.5,159.0 L108.0,151.0 L110.5,143.0 L112.0,134.0 L113.5,129.5 L115.5,127.0 L120.0,127.0 L127.0,127.0 L134.0,127.0 L140.0,127.0 L143.0,123.5 L146.2,115.0 L149.0,109.0 L152.5,105.6 L158.8,98.8 L165.0,95.0 L171.2,93.8 L173.8,87.5 L178.8,84.0 L183.8,79.9 L188.8,76.7 L192.5,80.6 L198.8,84.0 L203.8,82.8 L207.5,80.5 L210.0,77.8 L212.5,76.9 L218.8,71.2 L225.0,64.0 L228.8,58.1 L232.5,59.4 L237.5,60.0 L240.0,62.8 L241.2,67.5 L242.1,72.2 L243.1,67.5 L244.0,62.8 L247.5,61.9 L253.8,64.8 L258.8,67.1 L267.5,62.8 L272.5,65.8 L280.0,66.2 L287.5,63.0 L293.8,61.5 L300.0,59.6 L306.2,58.4 L312.5,57.1 L317.5,55.2 L322.5,52.8 L330.0,53.4 L335.0,50.9 L340.0,49.0 L345.0,51.5 L350.0,50.2 L355.0,47.1 L360.0,45.9 L365.0,43.6 L370.0,44.0 L375.0,43.4 L380.0,44.0 L385.0,45.9 L390.0,45.2 L395.0,45.9 L402.5,45.9 L407.5,45.6 L412.5,43.4 L417.5,45.2 L422.5,46.5 L430.0,47.1 L435.0,47.1 L440.0,49.0 L445.0,49.0 L448.8,48.4 L452.5,47.7 L462.5,46.5 L472.5,45.7 L482.5,45.7 L492.5,45.2 L500.0,43.7 L510.0,44.5 L520.0,45.7 L530.0,47.7 L536.2,46.5 L545.0,49.5 L552.5,47.0 L562.5,46.5 L570.0,45.7 L577.5,47.7 L585.0,45.2 L591.2,43.2 L598.8,37.7 L602.5,42.0 L610.0,43.7 L617.5,42.7 L623.8,44.5 L626.2,50.7 L632.5,52.7 L640.0,53.2 L650.0,52.0 L660.0,52.7 L667.5,52.0 L675.0,48.7 L682.5,47.0 L690.0,45.2 L700.0,44.5 L710.0,44.5 L720.0,43.7 L730.0,43.7 L740.0,42.7 L750.0,41.2 L760.0,40.2 L767.5,42.0 L776.2,40.7 L787.5,38.2 L795.0,40.2 L805.0,42.0 L812.5,39.5 L818.8,38.2 L827.5,40.7 L837.5,40.7 L847.5,39.5 L857.5,38.2 L867.5,40.2 L876.2,37.0 L885.0,38.2 L893.8,37.0 L902.5,37.7 L912.5,38.7 L922.5,38.7 L932.5,40.2 L940.0,41.2 L950.0,43.2 L960.0,42.0 L968.8,43.2 L977.5,41.2 L985.0,42.7 L990.0,42.7 L997.5,42.7 L1007.5,42.0 L1016.2,42.7 L1025.0,45.7 L1035.0,44.5 L1045.0,42.0 L1055.0,42.0 L1065.0,41.2 L1071.2,42.0 L1075.0,36.2 L1082.5,37.0 L1090.0,39.5 L1097.5,38.7 L1105.0,41.2 L1115.0,43.2 L1122.5,42.0 L1132.5,43.2 L1140.0,48.2 L1147.5,48.2 L1155.0,47.0 L1162.5,42.7 L1168.8,43.7 L1175.0,42.7 L1180.5,45.7 L1181.8,45.7" fill="none" stroke-width="4" stroke-linejoin="round" stroke-linecap="butt"/><path d="M111.0,135.00H112.0V129.00H113.0V125.00H114.0V123.00H115.0V122.00H116.0V124.00H117.0V124.00H118.0V124.00H119.0V124.00H120.0V122.00H121.0V122.00H122.0V122.00H123.0V122.00H124.0V122.00H125.0V122.00H126.0V122.00H127.0V122.00H128.0V122.00H129.0V122.00H130.0V123.00H131.0V123.00H132.0V123.00H133.0V123.00H134.0V122.00H135.0V122.00H136.0V122.00H137.0V122.00H138.0V122.00H139.0V122.00H140.0V122.00H141.0V121.00H142.0V119.00H143.0V117.00H144.0V113.00H145.0V110.00H146.0V107.00H147.0V105.00H148.0V102.00H149.0V100.00H150.0V99.00H151.0V98.00H152.0V98.00H153.0V97.00H154.0V96.00H155.0V95.00H156.0V94.00H157.0V93.00H158.0V91.00H159.0V91.00H160.0V90.00H161.0V90.00H162.0V89.00H163.0V88.00H164.0V88.00H165.0V87.00H166.0V87.00H167.0V87.00H168.0V87.00H169.0V86.00H170.0V86.00H171.0V86.00H172.0V85.00H173.0V83.00H174.0V82.00H175.0V84.00H176.0V83.00H177.0V83.00H178.0V82.00H179.0V81.00H180.0V80.00H181.0V79.00H182.0V79.00H183.0V78.00H184.0V76.00H185.0V75.00H186.0V74.00H187.0V74.00H188.0V73.00H189.0V72.00H190.0V71.00H191.0V71.00H192.0V72.00H193.0V72.00H194.0V73.00H195.0V77.00H196.0V78.00H197.0V79.00H198.0V80.00H199.0V80.00H200.0V78.00H201.0V78.00H202.0V78.00H203.0V77.00H204.0V77.00H205.0V76.00H206.0V75.00H207.0V74.00H208.0V77.00H209.0V76.00H210.0V76.00H211.0V75.00H212.0V75.00H213.0V74.00H214.0V73.00H215.0V73.00H216.0V70.00H217.0V69.00H218.0V68.00H219.0V67.00H220.0V66.00H221.0V65.00H222.0V64.00H223.0V63.00H224.0V62.00H225.0V60.00H226.0V59.00H227.0V57.00H228.0V56.00H229.0V55.00H230.0V55.00H231.0V55.00H232.0V56.00H233.0V56.00H234.0V57.00H235.0V57.00H236.0V57.00H237.0V57.00H238.0V58.00H239.0V59.00H240.0V61.00H241.0V65.00H242.0V70.00H243.0V66.00H244.0V61.00H245.0V60.00H246.0V60.00H247.0V60.00H248.0V60.00H249.0V61.00H250.0V60.00H251.0V60.00H252.0V60.00H253.0V61.00H254.0V61.00H255.0V62.00H256.0V62.00H257.0V63.00H258.0V63.00H259.0V64.00H260.0V63.00H261.0V63.00H262.0V62.00H263.0V62.00H264.0V61.00H265.0V61.00H266.0V60.00H267.0V59.00H268.0V59.00H269.0V60.00H270.0V60.00H271.0V61.00H272.0V62.00H273.0V62.00H274.0V62.00H275.0V62.00H276.0V62.00H277.0V62.00H278.0V62.00H279.0V62.00H280.0V62.00H281.0V62.00H282.0V62.00H283.0V61.00H284.0V61.00H285.0V60.00H286.0V60.00H287.0V60.00H288.0V60.00H289.0V59.00H290.0V58.00H291.0V58.00H292.0V58.00H293.0V58.00H294.0V58.00H295.0V58.00H296.0V57.00H297.0V57.00H298.0V57.00H299.0V56.00H300.0V56.00H301.0V55.00H302.0V55.00H303.0V55.00H304.0V55.00H305.0V55.00H306.0V55.00H307.0V54.00H308.0V54.00H309.0V54.00H310.0V54.00H311.0V53.00H312.0V53.00H313.0V53.00H314.0V53.00H315.0V52.00H316.0V52.00H317.0V52.00H318.0V52.00H319.0V51.00H320.0V51.00H321.0V50.00H322.0V50.00H323.0V49.00H324.0V49.00H325.0V49.00H326.0V49.00H327.0V49.00H328.0V49.00H329.0V50.00H330.0V50.00H331.0V49.00H332.0V48.00H333.0V48.00H334.0V47.00H335.0V47.00H336.0V46.00H337.0V46.00H338.0V46.00H339.0V45.00H340.0V45.00H341.0V45.00H342.0V46.00H343.0V46.00H344.0V46.00H345.0V47.00H346.0V47.00H347.0V46.00H348.0V46.00H349.0V46.00H350.0V46.00H351.0V45.00H352.0V44.00H353.0V44.00H354.0V45.00H355.0V45.00H356.0V44.00H357.0V44.00H358.0V42.00H359.0V41.00H360.0V41.00H361.0V41.00H362.0V42.00H363.0V41.00H364.0V41.00H365.0V40.00H366.0V40.00H367.0V40.00H368.0V41.00H369.0V41.00H370.0V41.00H371.0V41.00H372.0V40.00H373.0V40.00H374.0V40.00H375.0V40.00H376.0V40.00H377.0V40.00H378.0V42.00H379.0V42.00H380.0V42.00H381.0V42.00H382.0V43.00H383.0V43.00H384.0V44.00H385.0V44.00H386.0V44.00H387.0V44.00H388.0V43.00H389.0V43.00H390.0V43.00H391.0V43.00H392.0V43.00H393.0V41.00H394.0V41.00H395.0V42.00H396.0V42.00H397.0V43.00H398.0V43.00H399.0V43.00H400.0V43.00H401.0V43.00H402.0V43.00H403.0V43.00H404.0V43.00H405.0V43.00H406.0V43.00H407.0V42.00H408.0V41.00H409.0V41.00H410.0V41.00H411.0V40.00H412.0V40.00H413.0V40.00H414.0V40.00H415.0V40.00H416.0V41.00H417.0V43.00H418.0V43.00H419.0V44.00H420.0V44.00H421.0V44.00H422.0V44.00H423.0V45.00H424.0V45.00H425.0V45.00H426.0V45.00H427.0V45.00H428.0V45.00H429.0V45.00H430.0V45.00H431.0V45.00H432.0V45.00H433.0V45.00H434.0V45.00H435.0V44.00H436.0V44.00H437.0V44.00H438.0V45.00H439.0V45.00H440.0V45.00H441.0V45.00H442.0V45.00H443.0V45.00H444.0V45.00H445.0V45.00H446.0V45.00H447.0V44.00H448.0V44.00H449.0V44.00H450.0V44.00H451.0V44.00H452.0V44.00H453.0V44.00H454.0V44.00H455.0V44.00H456.0V44.00H457.0V44.00H458.0V44.00H459.0V44.00H460.0V43.00H461.0V43.00H462.0V43.00H463.0V42.00H464.0V42.00H465.0V42.00H466.0V42.00H467.0V42.00H468.0V43.00H469.0V43.00H470.0V43.00H471.0V43.00H472.0V44.00H473.0V44.00H474.0V44.00H475.0V43.00H476.0V43.00H477.0V43.00H478.0V43.00H479.0V43.00H480.0V43.00H481.0V43.00H482.0V43.00H483.0V43.00H484.0V43.00H485.0V43.00H486.0V43.00H487.0V43.00H488.0V43.00H489.0V43.00H490.0V43.00H491.0V42.00H492.0V42.00H493.0V42.00H494.0V42.00H495.0V40.00H496.0V40.00H497.0V40.00H498.0V40.00H499.0V39.00H500.0V39.00H501.0V40.00H502.0V40.00H503.0V40.00H504.0V40.00H505.0V40.00H506.0V40.00H507.0V40.00H508.0V40.00H509.0V40.00H510.0V42.00H511.0V42.00H512.0V42.00H513.0V42.00H514.0V42.00H515.0V42.00H516.0V42.00H517.0V43.00H518.0V43.00H519.0V43.00H520.0V42.00H521.0V42.00H522.0V43.00H523.0V43.00H524.0V43.00H525.0V43.00H526.0V43.00H527.0V44.00H528.0V44.00H529.0V44.00H530.0V44.00H531.0V44.00H532.0V44.00H533.0V44.00H534.0V43.00H535.0V42.00H536.0V42.00H537.0V42.00H538.0V43.00H539.0V43.00H540.0V43.00H541.0V44.00H542.0V46.00H543.0V47.00H544.0V47.00H545.0V46.00H546.0V45.00H547.0V45.00H548.0V45.00H549.0V44.00H550.0V45.00H551.0V45.00H552.0V45.00H553.0V45.00H554.0V45.00H555.0V44.00H556.0V44.00H557.0V44.00H558.0V44.00H559.0V44.00H560.0V44.00H561.0V44.00H562.0V44.00H563.0V43.00H564.0V43.00H565.0V43.00H566.0V42.00H567.0V42.00H568.0V42.00H569.0V42.00H570.0V43.00H571.0V43.00H572.0V43.00H573.0V44.00H574.0V44.00H575.0V43.00H576.0V43.00H577.0V44.00H578.0V44.00H579.0V43.00H580.0V43.00H581.0V43.00H582.0V42.00H583.0V42.00H584.0V42.00H585.0V42.00H586.0V42.00H587.0V41.00H588.0V41.00H589.0V40.00H590.0V40.00H591.0V39.00H592.0V39.00H593.0V38.00H594.0V37.00H595.0V37.00H596.0V36.00H597.0V35.00H598.0V34.00H599.0V35.00H600.0V36.00H601.0V37.00H602.0V38.00H603.0V40.00H604.0V40.00H605.0V40.00H606.0V41.00H607.0V41.00H608.0V39.00H609.0V40.00H610.0V40.00H611.0V40.00H612.0V40.00H613.0V40.00H614.0V39.00H615.0V39.00H616.0V39.00H617.0V39.00H618.0V39.00H619.0V39.00H620.0V40.00H621.0V40.00H622.0V40.00H623.0V40.00H624.0V41.00H625.0V44.00H626.0V46.00H627.0V48.00H628.0V48.00H629.0V49.00H630.0V49.00H631.0V49.00H632.0V50.00H633.0V50.00H634.0V50.00H635.0V50.00H636.0V50.00H637.0V50.00H638.0V50.00H639.0V50.00H640.0V50.00H641.0V50.00H642.0V50.00H643.0V50.00H644.0V50.00H645.0V49.00H646.0V49.00H647.0V49.00H648.0V49.00H649.0V48.00H650.0V48.00H651.0V48.00H652.0V48.00H653.0V48.00H654.0V49.00H655.0V49.00H656.0V49.00H657.0V49.00H658.0V49.00H659.0V49.00H660.0V49.00H661.0V49.00H662.0V49.00H663.0V49.00H664.0V49.00H665.0V49.00H666.0V49.00H667.0V49.00H668.0V49.00H669.0V48.00H670.0V48.00H671.0V48.00H672.0V47.00H673.0V47.00H674.0V46.00H675.0V46.00H676.0V46.00H677.0V45.00H678.0V45.00H679.0V44.00H680.0V44.00H681.0V44.00H682.0V44.00H683.0V44.00H684.0V44.00H685.0V44.00H686.0V43.00H687.0V43.00H688.0V42.00H689.0V42.00H690.0V41.00H691.0V41.00H692.0V41.00H693.0V41.00H694.0V41.00H695.0V41.00H696.0V41.00H697.0V41.00H698.0V42.00H699.0V42.00H700.0V42.00H701.0V42.00H702.0V42.00H703.0V42.00H704.0V42.00H705.0V42.00H706.0V42.00H707.0V42.00H708.0V42.00H709.0V42.00H710.0V42.00H711.0V41.00H712.0V41.00H713.0V41.00H714.0V41.00H715.0V41.00H716.0V41.00H717.0V41.00H718.0V41.00H719.0V41.00H720.0V41.00H721.0V41.00H722.0V41.00H723.0V41.00H724.0V41.00H725.0V41.00H726.0V42.00H727.0V42.00H728.0V42.00H729.0V42.00H730.0V42.00H731.0V42.00H732.0V41.00H733.0V41.00H734.0V41.00H735.0V41.00H736.0V41.00H737.0V41.00H738.0V41.00H739.0V40.00H740.0V39.00H741.0V39.00H742.0V39.00H743.0V38.00H744.0V40.00H745.0V40.00H746.0V40.00H747.0V37.00H748.0V37.00H749.0V37.00H750.0V37.00H751.0V37.00H752.0V37.00H753.0V37.00H754.0V37.00H755.0V36.00H756.0V36.00H757.0V39.00H758.0V39.00H759.0V38.00H760.0V38.00H761.0V38.00H762.0V39.00H763.0V39.00H764.0V38.00H765.0V38.00H766.0V38.00H767.0V39.00H768.0V39.00H769.0V40.00H770.0V40.00H771.0V40.00H772.0V38.00H773.0V38.00H774.0V38.00H775.0V38.00H776.0V38.00H777.0V38.00H778.0V37.00H779.0V37.00H780.0V37.00H781.0V37.00H782.0V38.00H783.0V37.00H784.0V37.00H785.0V37.00H786.0V36.00H787.0V35.00H788.0V36.00H789.0V36.00H790.0V36.00H791.0V36.00H792.0V37.00H793.0V37.00H794.0V35.00H795.0V36.00H796.0V36.00H797.0V36.00H798.0V37.00H799.0V38.00H800.0V38.00H801.0V38.00H802.0V38.00H803.0V38.00H804.0V38.00H805.0V39.00H806.0V39.00H807.0V38.00H808.0V38.00H809.0V38.00H810.0V37.00H811.0V37.00H812.0V37.00H813.0V36.00H814.0V36.00H815.0V36.00H816.0V36.00H817.0V36.00H818.0V36.00H819.0V35.00H820.0V36.00H821.0V36.00H822.0V36.00H823.0V37.00H824.0V37.00H825.0V36.00H826.0V36.00H827.0V37.00H828.0V37.00H829.0V37.00H830.0V37.00H831.0V37.00H832.0V37.00H833.0V37.00H834.0V37.00H835.0V37.00H836.0V37.00H837.0V37.00H838.0V37.00H839.0V37.00H840.0V37.00H841.0V37.00H842.0V37.00H843.0V38.00H844.0V38.00H845.0V37.00H846.0V36.00H847.0V36.00H848.0V36.00H849.0V36.00H850.0V36.00H851.0V36.00H852.0V35.00H853.0V35.00H854.0V35.00H855.0V35.00H856.0V35.00H857.0V35.00H858.0V35.00H859.0V35.00H860.0V37.00H861.0V37.00H862.0V37.00H863.0V37.00H864.0V38.00H865.0V35.00H866.0V35.00H867.0V36.00H868.0V36.00H869.0V35.00H870.0V35.00H871.0V34.00H872.0V34.00H873.0V34.00H874.0V33.00H875.0V36.00H876.0V35.00H877.0V35.00H878.0V35.00H879.0V35.00H880.0V36.00H881.0V36.00H882.0V36.00H883.0V36.00H884.0V36.00H885.0V36.00H886.0V36.00H887.0V36.00H888.0V36.00H889.0V36.00H890.0V36.00H891.0V34.00H892.0V34.00H893.0V33.00H894.0V33.00H895.0V33.00H896.0V33.00H897.0V34.00H898.0V34.00H899.0V34.00H900.0V34.00H901.0V33.00H902.0V33.00H903.0V33.00H904.0V35.00H905.0V36.00H906.0V36.00H907.0V36.00H908.0V36.00H909.0V36.00H910.0V36.00H911.0V36.00H912.0V36.00H913.0V35.00H914.0V35.00H915.0V35.00H916.0V35.00H917.0V35.00H918.0V35.00H919.0V36.00H920.0V36.00H921.0V36.00H922.0V36.00H923.0V35.00H924.0V36.00H925.0V36.00H926.0V36.00H927.0V36.00H928.0V36.00H929.0V38.00H930.0V38.00H931.0V38.00H932.0V38.00H933.0V38.00H934.0V38.00H935.0V38.00H936.0V39.00H937.0V38.00H938.0V38.00H939.0V38.00H940.0V38.00H941.0V38.00H942.0V39.00H943.0V39.00H944.0V39.00H945.0V40.00H946.0V38.00H947.0V38.00H948.0V38.00H949.0V39.00H950.0V39.00H951.0V41.00H952.0V41.00H953.0V41.00H954.0V41.00H955.0V41.00H956.0V41.00H957.0V39.00H958.0V39.00H959.0V39.00H960.0V39.00H961.0V39.00H962.0V39.00H963.0V40.00H964.0V40.00H965.0V40.00H966.0V41.00H967.0V41.00H968.0V41.00H969.0V41.00H970.0V41.00H971.0V40.00H972.0V40.00H973.0V39.00H974.0V39.00H975.0V39.00H976.0V39.00H977.0V39.00H978.0V39.00H979.0V39.00H980.0V39.00H981.0V40.00H982.0V40.00H983.0V41.00H984.0V41.00H985.0V41.00H986.0V41.00H987.0V40.00H988.0V40.00H989.0V40.00H990.0V40.00H991.0V40.00H992.0V40.00H993.0V40.00H994.0V40.00H995.0V40.00H996.0V40.00H997.0V40.00H998.0V40.00H999.0V40.00H1000.0V40.00H1001.0V40.00H1002.0V40.00H1003.0V40.00H1004.0V39.00H1005.0V39.00H1006.0V39.00H1007.0V39.00H1008.0V39.00H1009.0V38.00H1010.0V38.00H1011.0V39.00H1012.0V39.00H1013.0V41.00H1014.0V41.00H1015.0V41.00H1016.0V41.00H1017.0V41.00H1018.0V42.00H1019.0V39.00H1020.0V40.00H1021.0V40.00H1022.0V40.00H1023.0V41.00H1024.0V41.00H1025.0V41.00H1026.0V41.00H1027.0V42.00H1028.0V42.00H1029.0V42.00H1030.0V42.00H1031.0V42.00H1032.0V42.00H1033.0V42.00H1034.0V41.00H1035.0V41.00H1036.0V41.00H1037.0V41.00H1038.0V41.00H1039.0V40.00H1040.0V40.00H1041.0V39.00H1042.0V38.00H1043.0V38.00H1044.0V38.00H1045.0V38.00H1046.0V38.00H1047.0V39.00H1048.0V39.00H1049.0V39.00H1050.0V39.00H1051.0V39.00H1052.0V39.00H1053.0V39.00H1054.0V39.00H1055.0V39.00H1056.0V39.00H1057.0V39.00H1058.0V39.00H1059.0V39.00H1060.0V38.00H1061.0V38.00H1062.0V38.00H1063.0V38.00H1064.0V39.00H1065.0V39.00H1066.0V39.00H1067.0V39.00H1068.0V40.00H1069.0V40.00H1070.0V40.00H1071.0V40.00H1072.0V39.00H1073.0V37.00H1074.0V35.00H1075.0V33.00H1076.0V33.00H1077.0V32.00H1078.0V33.00H1079.0V33.00H1080.0V33.00H1081.0V33.00H1082.0V33.00H1083.0V33.00H1084.0V33.00H1085.0V34.00H1086.0V35.00H1087.0V35.00H1088.0V36.00H1089.0V36.00H1090.0V36.00H1091.0V36.00H1092.0V36.00H1093.0V36.00H1094.0V36.00H1095.0V36.00H1096.0V36.00H1097.0V36.00H1098.0V36.00H1099.0V36.00H1100.0V36.00H1101.0V36.00H1102.0V36.00H1103.0V37.00H1104.0V37.00H1105.0V37.00H1106.0V37.00H1107.0V38.00H1108.0V38.00H1109.0V38.00H1110.0V38.00H1111.0V38.00H1112.0V39.00H1113.0V39.00H1114.0V41.00H1115.0V41.00H1116.0V41.00H1117.0V40.00H1118.0V40.00H1119.0V40.00H1120.0V40.00H1121.0V40.00H1122.0V40.00H1123.0V40.00H1124.0V39.00H1125.0V39.00H1126.0V39.00H1127.0V39.00H1128.0V40.00H1129.0V40.00H1130.0V40.00H1131.0V40.00H1132.0V41.00H1133.0V41.00H1134.0V42.00H1135.0V43.00H1136.0V43.00H1137.0V44.00H1138.0V45.00H1139.0V45.00H1140.0V46.00H1141.0V46.00H1142.0V45.00H1143.0V45.00H1144.0V45.00H1145.0V45.00H1146.0V46.00H1147.0V46.00H1148.0V46.00H1149.0V46.00H1150.0V45.00H1151.0V45.00H1152.0V43.00H1153.0V43.00H1154.0V43.00H1155.0V43.00H1156.0V42.00H1157.0V41.00H1158.0V41.00H1159.0V40.00H1160.0V40.00H1161.0V39.00H1162.0V40.00H1163.0V40.00H1164.0V40.00H1165.0V40.00H1166.0V40.00H1167.0V39.00H1168.0V39.00H1169.0V39.00H1170.0V39.00H1171.0V39.00H1172.0V39.00H1173.0V39.00H1174.0V39.00H1175.0V40.00H1176.0V40.00H1177.0V41.00H1178.0V42.00H1179.0V42.00H1180.0V43.00H1181.0V43.00V47.00H1180.0V47.00H1179.0V47.00H1178.0V46.00H1177.0V48.00H1176.0V47.00H1175.0V46.00H1174.0V47.00H1173.0V47.00H1172.0V47.00H1171.0V47.00H1170.0V47.00H1169.0V47.00H1168.0V47.00H1167.0V47.00H1166.0V47.00H1165.0V47.00H1164.0V47.00H1163.0V47.00H1162.0V47.00H1161.0V47.00H1160.0V47.00H1159.0V48.00H1158.0V48.00H1157.0V49.00H1156.0V50.00H1155.0V50.00H1154.0V50.00H1153.0V49.00H1152.0V50.00H1151.0V50.00H1150.0V52.00H1149.0V52.00H1148.0V52.00H1147.0V52.00H1146.0V52.00H1145.0V52.00H1144.0V52.00H1143.0V52.00H1142.0V51.00H1141.0V51.00H1140.0V51.00H1139.0V50.00H1138.0V49.00H1137.0V49.00H1136.0V48.00H1135.0V47.00H1134.0V47.00H1133.0V47.00H1132.0V46.00H1131.0V47.00H1130.0V47.00H1129.0V47.00H1128.0V47.00H1127.0V47.00H1126.0V46.00H1125.0V46.00H1124.0V46.00H1123.0V46.00H1122.0V46.00H1121.0V45.00H1120.0V46.00H1119.0V46.00H1118.0V46.00H1117.0V46.00H1116.0V46.00H1115.0V46.00H1114.0V46.00H1113.0V45.00H1112.0V45.00H1111.0V44.00H1110.0V44.00H1109.0V44.00H1108.0V44.00H1107.0V44.00H1106.0V43.00H1105.0V43.00H1104.0V43.00H1103.0V42.00H1102.0V42.00H1101.0V42.00H1100.0V41.00H1099.0V41.00H1098.0V41.00H1097.0V41.00H1096.0V41.00H1095.0V42.00H1094.0V42.00H1093.0V43.00H1092.0V43.00H1091.0V43.00H1090.0V43.00H1089.0V43.00H1088.0V42.00H1087.0V42.00H1086.0V42.00H1085.0V41.00H1084.0V41.00H1083.0V41.00H1082.0V40.00H1081.0V40.00H1080.0V40.00H1079.0V40.00H1078.0V40.00H1077.0V40.00H1076.0V40.00H1075.0V40.00H1074.0V40.00H1073.0V42.00H1072.0V43.00H1071.0V46.00H1070.0V46.00H1069.0V45.00H1068.0V44.00H1067.0V44.00H1066.0V44.00H1065.0V44.00H1064.0V44.00H1063.0V44.00H1062.0V44.00H1061.0V45.00H1060.0V45.00H1059.0V45.00H1058.0V45.00H1057.0V45.00H1056.0V45.00H1055.0V44.00H1054.0V44.00H1053.0V44.00H1052.0V44.00H1051.0V44.00H1050.0V44.00H1049.0V44.00H1048.0V44.00H1047.0V44.00H1046.0V44.00H1045.0V44.00H1044.0V45.00H1043.0V46.00H1042.0V47.00H1041.0V47.00H1040.0V47.00H1039.0V47.00H1038.0V48.00H1037.0V48.00H1036.0V48.00H1035.0V49.00H1034.0V49.00H1033.0V49.00H1032.0V49.00H1031.0V49.00H1030.0V49.00H1029.0V49.00H1028.0V49.00H1027.0V50.00H1026.0V50.00H1025.0V49.00H1024.0V48.00H1023.0V48.00H1022.0V48.00H1021.0V47.00H1020.0V47.00H1019.0V47.00H1018.0V46.00H1017.0V46.00H1016.0V46.00H1015.0V46.00H1014.0V46.00H1013.0V47.00H1012.0V47.00H1011.0V47.00H1010.0V47.00H1009.0V46.00H1008.0V46.00H1007.0V46.00H1006.0V46.00H1005.0V46.00H1004.0V45.00H1003.0V45.00H1002.0V46.00H1001.0V46.00H1000.0V46.00H999.0V46.00H998.0V46.00H997.0V46.00H996.0V46.00H995.0V46.00H994.0V46.00H993.0V46.00H992.0V46.00H991.0V46.00H990.0V46.00H989.0V46.00H988.0V46.00H987.0V46.00H986.0V47.00H985.0V47.00H984.0V46.00H983.0V46.00H982.0V46.00H981.0V44.00H980.0V44.00H979.0V43.00H978.0V43.00H977.0V43.00H976.0V43.00H975.0V44.00H974.0V44.00H973.0V46.00H972.0V46.00H971.0V46.00H970.0V47.00H969.0V47.00H968.0V47.00H967.0V45.00H966.0V45.00H965.0V44.00H964.0V44.00H963.0V44.00H962.0V44.00H961.0V44.00H960.0V44.00H959.0V44.00H958.0V44.00H957.0V44.00H956.0V44.00H955.0V44.00H954.0V45.00H953.0V45.00H952.0V45.00H951.0V45.00H950.0V45.00H949.0V46.00H948.0V46.00H947.0V46.00H946.0V46.00H945.0V46.00H944.0V45.00H943.0V45.00H942.0V45.00H941.0V45.00H940.0V45.00H939.0V43.00H938.0V43.00H937.0V43.00H936.0V43.00H935.0V43.00H934.0V43.00H933.0V42.00H932.0V42.00H931.0V42.00H930.0V42.00H929.0V43.00H928.0V43.00H927.0V43.00H926.0V43.00H925.0V41.00H924.0V41.00H923.0V41.00H922.0V41.00H921.0V41.00H920.0V41.00H919.0V41.00H918.0V41.00H917.0V41.00H916.0V41.00H915.0V40.00H914.0V40.00H913.0V40.00H912.0V40.00H911.0V40.00H910.0V40.00H909.0V40.00H908.0V40.00H907.0V40.00H906.0V40.00H905.0V41.00H904.0V41.00H903.0V41.00H902.0V41.00H901.0V41.00H900.0V41.00H899.0V41.00H898.0V41.00H897.0V41.00H896.0V40.00H895.0V41.00H894.0V41.00H893.0V41.00H892.0V41.00H891.0V42.00H890.0V42.00H889.0V42.00H888.0V42.00H887.0V42.00H886.0V42.00H885.0V41.00H884.0V41.00H883.0V41.00H882.0V41.00H881.0V41.00H880.0V40.00H879.0V40.00H878.0V40.00H877.0V40.00H876.0V40.00H875.0V40.00H874.0V41.00H873.0V42.00H872.0V42.00H871.0V42.00H870.0V43.00H869.0V43.00H868.0V44.00H867.0V44.00H866.0V44.00H865.0V42.00H864.0V42.00H863.0V42.00H862.0V42.00H861.0V42.00H860.0V41.00H859.0V41.00H858.0V41.00H857.0V41.00H856.0V42.00H855.0V42.00H854.0V42.00H853.0V42.00H852.0V42.00H851.0V42.00H850.0V42.00H849.0V42.00H848.0V42.00H847.0V42.00H846.0V42.00H845.0V42.00H844.0V42.00H843.0V43.00H842.0V43.00H841.0V43.00H840.0V44.00H839.0V44.00H838.0V44.00H837.0V44.00H836.0V44.00H835.0V44.00H834.0V44.00H833.0V45.00H832.0V45.00H831.0V45.00H830.0V45.00H829.0V45.00H828.0V45.00H827.0V45.00H826.0V45.00H825.0V44.00H824.0V44.00H823.0V43.00H822.0V43.00H821.0V43.00H820.0V43.00H819.0V43.00H818.0V43.00H817.0V43.00H816.0V43.00H815.0V43.00H814.0V44.00H813.0V44.00H812.0V44.00H811.0V43.00H810.0V43.00H809.0V43.00H808.0V44.00H807.0V45.00H806.0V45.00H805.0V45.00H804.0V44.00H803.0V44.00H802.0V44.00H801.0V44.00H800.0V43.00H799.0V43.00H798.0V45.00H797.0V45.00H796.0V44.00H795.0V44.00H794.0V42.00H793.0V41.00H792.0V41.00H791.0V42.00H790.0V42.00H789.0V41.00H788.0V41.00H787.0V41.00H786.0V41.00H785.0V41.00H784.0V42.00H783.0V42.00H782.0V42.00H781.0V43.00H780.0V43.00H779.0V43.00H778.0V43.00H777.0V44.00H776.0V44.00H775.0V44.00H774.0V44.00H773.0V44.00H772.0V44.00H771.0V45.00H770.0V45.00H769.0V45.00H768.0V45.00H767.0V45.00H766.0V45.00H765.0V44.00H764.0V44.00H763.0V44.00H762.0V43.00H761.0V43.00H760.0V43.00H759.0V43.00H758.0V43.00H757.0V43.00H756.0V43.00H755.0V43.00H754.0V43.00H753.0V43.00H752.0V43.00H751.0V43.00H750.0V44.00H749.0V44.00H748.0V44.00H747.0V44.00H746.0V44.00H745.0V44.00H744.0V46.00H743.0V46.00H742.0V46.00H741.0V46.00H740.0V47.00H739.0V47.00H738.0V47.00H737.0V47.00H736.0V47.00H735.0V47.00H734.0V48.00H733.0V48.00H732.0V45.00H731.0V45.00H730.0V46.00H729.0V46.00H728.0V46.00H727.0V46.00H726.0V46.00H725.0V46.00H724.0V47.00H723.0V47.00H722.0V47.00H721.0V47.00H720.0V47.00H719.0V47.00H718.0V47.00H717.0V47.00H716.0V47.00H715.0V47.00H714.0V48.00H713.0V48.00H712.0V48.00H711.0V49.00H710.0V49.00H709.0V49.00H708.0V49.00H707.0V49.00H706.0V49.00H705.0V49.00H704.0V47.00H703.0V47.00H702.0V47.00H701.0V48.00H700.0V48.00H699.0V48.00H698.0V48.00H697.0V48.00H696.0V48.00H695.0V48.00H694.0V48.00H693.0V49.00H692.0V49.00H691.0V49.00H690.0V50.00H689.0V49.00H688.0V49.00H687.0V49.00H686.0V50.00H685.0V50.00H684.0V50.00H683.0V49.00H682.0V49.00H681.0V50.00H680.0V50.00H679.0V50.00H678.0V50.00H677.0V51.00H676.0V52.00H675.0V52.00H674.0V52.00H673.0V53.00H672.0V53.00H671.0V53.00H670.0V54.00H669.0V54.00H668.0V54.00H667.0V55.00H666.0V56.00H665.0V56.00H664.0V56.00H663.0V56.00H662.0V56.00H661.0V55.00H660.0V55.00H659.0V55.00H658.0V55.00H657.0V55.00H656.0V55.00H655.0V56.00H654.0V56.00H653.0V55.00H652.0V55.00H651.0V55.00H650.0V55.00H649.0V55.00H648.0V56.00H647.0V56.00H646.0V56.00H645.0V56.00H644.0V57.00H643.0V57.00H642.0V57.00H641.0V57.00H640.0V56.00H639.0V56.00H638.0V56.00H637.0V56.00H636.0V56.00H635.0V56.00H634.0V55.00H633.0V55.00H632.0V54.00H631.0V54.00H630.0V54.00H629.0V53.00H628.0V53.00H627.0V53.00H626.0V52.00H625.0V51.00H624.0V48.00H623.0V47.00H622.0V47.00H621.0V47.00H620.0V46.00H619.0V46.00H618.0V46.00H617.0V45.00H616.0V45.00H615.0V45.00H614.0V45.00H613.0V46.00H612.0V46.00H611.0V46.00H610.0V46.00H609.0V47.00H608.0V47.00H607.0V46.00H606.0V45.00H605.0V45.00H604.0V45.00H603.0V44.00H602.0V44.00H601.0V42.00H600.0V41.00H599.0V40.00H598.0V42.00H597.0V43.00H596.0V43.00H595.0V44.00H594.0V45.00H593.0V46.00H592.0V47.00H591.0V48.00H590.0V48.00H589.0V48.00H588.0V47.00H587.0V48.00H586.0V48.00H585.0V48.00H584.0V48.00H583.0V49.00H582.0V50.00H581.0V50.00H580.0V51.00H579.0V51.00H578.0V51.00H577.0V51.00H576.0V50.00H575.0V50.00H574.0V49.00H573.0V49.00H572.0V48.00H571.0V48.00H570.0V48.00H569.0V48.00H568.0V48.00H567.0V50.00H566.0V50.00H565.0V50.00H564.0V50.00H563.0V49.00H562.0V49.00H561.0V49.00H560.0V49.00H559.0V49.00H558.0V49.00H557.0V49.00H556.0V49.00H555.0V50.00H554.0V50.00H553.0V50.00H552.0V50.00H551.0V51.00H550.0V51.00H549.0V51.00H548.0V52.00H547.0V52.00H546.0V52.00H545.0V53.00H544.0V52.00H543.0V52.00H542.0V52.00H541.0V51.00H540.0V51.00H539.0V50.00H538.0V50.00H537.0V50.00H536.0V49.00H535.0V50.00H534.0V50.00H533.0V50.00H532.0V50.00H531.0V51.00H530.0V51.00H529.0V51.00H528.0V51.00H527.0V51.00H526.0V50.00H525.0V50.00H524.0V50.00H523.0V50.00H522.0V50.00H521.0V50.00H520.0V49.00H519.0V48.00H518.0V48.00H517.0V48.00H516.0V48.00H515.0V49.00H514.0V49.00H513.0V48.00H512.0V48.00H511.0V48.00H510.0V47.00H509.0V47.00H508.0V47.00H507.0V47.00H506.0V47.00H505.0V47.00H504.0V47.00H503.0V47.00H502.0V47.00H501.0V47.00H500.0V47.00H499.0V47.00H498.0V48.00H497.0V48.00H496.0V48.00H495.0V48.00H494.0V48.00H493.0V49.00H492.0V49.00H491.0V49.00H490.0V49.00H489.0V49.00H488.0V50.00H487.0V50.00H486.0V50.00H485.0V50.00H484.0V50.00H483.0V50.00H482.0V48.00H481.0V48.00H480.0V48.00H479.0V48.00H478.0V48.00H477.0V48.00H476.0V48.00H475.0V48.00H474.0V50.00H473.0V50.00H472.0V50.00H471.0V50.00H470.0V50.00H469.0V50.00H468.0V50.00H467.0V50.00H466.0V50.00H465.0V50.00H464.0V51.00H463.0V49.00H462.0V49.00H461.0V49.00H460.0V49.00H459.0V50.00H458.0V50.00H457.0V50.00H456.0V50.00H455.0V51.00H454.0V50.00H453.0V50.00H452.0V50.00H451.0V50.00H450.0V50.00H449.0V51.00H448.0V51.00H447.0V52.00H446.0V52.00H445.0V53.00H444.0V53.00H443.0V53.00H442.0V53.00H441.0V53.00H440.0V53.00H439.0V51.00H438.0V51.00H437.0V51.00H436.0V50.00H435.0V50.00H434.0V51.00H433.0V51.00H432.0V51.00H431.0V51.00H430.0V52.00H429.0V52.00H428.0V52.00H427.0V52.00H426.0V51.00H425.0V51.00H424.0V51.00H423.0V51.00H422.0V49.00H421.0V49.00H420.0V49.00H419.0V49.00H418.0V48.00H417.0V48.00H416.0V48.00H415.0V47.00H414.0V47.00H413.0V46.00H412.0V47.00H411.0V47.00H410.0V48.00H409.0V48.00H408.0V49.00H407.0V49.00H406.0V49.00H405.0V49.00H404.0V49.00H403.0V49.00H402.0V49.00H401.0V49.00H400.0V49.00H399.0V49.00H398.0V49.00H397.0V48.00H396.0V48.00H395.0V48.00H394.0V48.00H393.0V48.00H392.0V47.00H391.0V47.00H390.0V47.00H389.0V47.00H388.0V47.00H387.0V50.00H386.0V50.00H385.0V50.00H384.0V49.00H383.0V49.00H382.0V49.00H381.0V48.00H380.0V48.00H379.0V47.00H378.0V47.00H377.0V47.00H376.0V47.00H375.0V46.00H374.0V47.00H373.0V48.00H372.0V48.00H371.0V48.00H370.0V48.00H369.0V48.00H368.0V48.00H367.0V48.00H366.0V48.00H365.0V48.00H364.0V47.00H363.0V48.00H362.0V48.00H361.0V49.00H360.0V49.00H359.0V49.00H358.0V50.00H357.0V50.00H356.0V50.00H355.0V50.00H354.0V50.00H353.0V51.00H352.0V51.00H351.0V53.00H350.0V54.00H349.0V54.00H348.0V54.00H347.0V55.00H346.0V55.00H345.0V55.00H344.0V55.00H343.0V54.00H342.0V53.00H341.0V53.00H340.0V52.00H339.0V53.00H338.0V53.00H337.0V54.00H336.0V54.00H335.0V54.00H334.0V55.00H333.0V55.00H332.0V56.00H331.0V56.00H330.0V57.00H329.0V56.00H328.0V56.00H327.0V56.00H326.0V56.00H325.0V56.00H324.0V56.00H323.0V56.00H322.0V56.00H321.0V57.00H320.0V57.00H319.0V57.00H318.0V58.00H317.0V58.00H316.0V58.00H315.0V59.00H314.0V59.00H313.0V60.00H312.0V60.00H311.0V60.00H310.0V60.00H309.0V60.00H308.0V60.00H307.0V60.00H306.0V60.00H305.0V61.00H304.0V61.00H303.0V62.00H302.0V62.00H301.0V63.00H300.0V63.00H299.0V63.00H298.0V63.00H297.0V64.00H296.0V64.00H295.0V64.00H294.0V64.00H293.0V64.00H292.0V65.00H291.0V65.00H290.0V65.00H289.0V65.00H288.0V66.00H287.0V66.00H286.0V66.00H285.0V66.00H284.0V66.00H283.0V67.00H282.0V67.00H281.0V68.00H280.0V68.00H279.0V68.00H278.0V68.00H277.0V68.00H276.0V68.00H275.0V68.00H274.0V68.00H273.0V68.00H272.0V67.00H271.0V67.00H270.0V66.00H269.0V66.00H268.0V65.00H267.0V65.00H266.0V66.00H265.0V66.00H264.0V67.00H263.0V67.00H262.0V68.00H261.0V70.00H260.0V70.00H259.0V71.00H258.0V69.00H257.0V69.00H256.0V68.00H255.0V68.00H254.0V69.00H253.0V68.00H252.0V68.00H251.0V68.00H250.0V67.00H249.0V67.00H248.0V66.00H247.0V66.00H246.0V65.00H245.0V66.00H244.0V66.00H243.0V71.00H242.0V75.00H241.0V70.00H240.0V66.00H239.0V65.00H238.0V64.00H237.0V64.00H236.0V63.00H235.0V63.00H234.0V63.00H233.0V63.00H232.0V63.00H231.0V63.00H230.0V63.00H229.0V62.00H228.0V63.00H227.0V65.00H226.0V66.00H225.0V68.00H224.0V69.00H223.0V70.00H222.0V71.00H221.0V71.00H220.0V72.00H219.0V74.00H218.0V74.00H217.0V75.00H216.0V76.00H215.0V77.00H214.0V77.00H213.0V78.00H212.0V79.00H211.0V79.00H210.0V80.00H209.0V81.00H208.0V83.00H207.0V84.00H206.0V84.00H205.0V88.00H204.0V88.00H203.0V88.00H202.0V88.00H201.0V89.00H200.0V89.00H199.0V89.00H198.0V89.00H197.0V89.00H196.0V89.00H195.0V88.00H194.0V89.00H193.0V89.00H192.0V88.00H191.0V86.00H190.0V84.00H189.0V83.00H188.0V83.00H187.0V83.00H186.0V82.00H185.0V82.00H184.0V83.00H183.0V83.00H182.0V84.00H181.0V85.00H180.0V88.00H179.0V89.00H178.0V90.00H177.0V89.00H176.0V90.00H175.0V91.00H174.0V92.00H173.0V95.00H172.0V98.00H171.0V101.00H170.0V101.00H169.0V101.00H168.0V101.00H167.0V104.00H166.0V104.00H165.0V104.00H164.0V105.00H163.0V105.00H162.0V106.00H161.0V107.00H160.0V107.00H159.0V106.00H158.0V107.00H157.0V108.00H156.0V109.00H155.0V110.00H154.0V112.00H153.0V112.00H152.0V113.00H151.0V114.00H150.0V115.00H149.0V116.00H148.0V118.00H147.0V120.00H146.0V123.00H145.0V128.00H144.0V130.00H143.0V132.00H142.0V132.00H141.0V133.00H140.0V134.00H139.0V130.00H138.0V130.00H137.0V130.00H136.0V130.00H135.0V130.00H134.0V131.00H133.0V131.00H132.0V131.00H131.0V131.00H130.0V131.00H129.0V131.00H128.0V131.00H127.0V131.00H126.0V131.00H125.0V131.00H124.0V132.00H123.0V132.00H122.0V132.00H121.0V132.00H120.0V132.00H119.0V132.00H118.0V132.00H117.0V132.00H116.0V132.00H115.0V133.00H114.0V134.00H113.0V136.00H112.0V138.00H111.0V144.00Z" stroke-width="1.2" stroke-linejoin="round"/></g>
<g fill="#00B050" stroke="#00B050"><path d="M100.5,135.0 L102.0,127.0 L103.5,117.5 L104.6,116.0 L106.0,121.0 L108.8,135.0 L111.0,140.5 L113.0,143.0" fill="none" stroke-width="5.5" stroke-linejoin="round" stroke-linecap="butt"/><path d="M100.5,135.0 L102.0,127.0 L103.5,117.5 L104.6,116.0 L106.0,121.0 L108.8,135.0 L111.0,140.5 L113.0,143.0 L116.0,143.0 L118.0,141.0 L120.0,139.0 L123.0,138.5 L126.0,139.0 L130.0,145.0 L134.0,151.0 L137.0,155.5 L140.0,158.5 L143.5,164.0 L147.5,169.5 L152.5,174.0 L158.0,175.5 L165.0,176.7 L171.0,176.2 L180.0,176.7 L186.0,180.5 L190.0,178.0 L195.0,176.7 L199.4,173.7 L203.8,176.7 L207.5,176.2 L211.2,178.0 L215.0,177.5 L220.0,181.2 L226.0,181.7 L232.5,183.7 L238.8,183.7 L241.9,180.7 L246.2,183.7 L252.5,181.7 L260.0,182.5 L265.0,185.0 L270.0,186.7 L275.0,185.0 L280.0,183.5 L286.2,184.8 L292.5,184.1 L297.5,181.6 L305.0,177.2 L312.5,177.2 L320.0,175.8 L326.2,179.1 L333.8,180.4 L342.5,177.2 L350.0,178.5 L355.0,179.8 L361.2,183.5 L367.5,182.9 L371.9,181.2 L377.5,185.4 L383.8,186.6 L390.0,186.2 L400.0,187.2 L405.0,189.1 L407.5,189.5 L410.0,189.1 L416.2,189.8 L422.5,190.0 L427.5,189.1 L432.5,190.8 L440.0,191.0 L446.2,188.9 L452.5,190.4 L458.8,189.1 L463.8,192.2 L470.0,193.8 L476.2,197.2 L481.2,197.5 L487.5,198.8 L492.5,199.8 L497.5,201.0 L503.8,201.6 L510.0,201.4 L516.2,202.0 L521.2,203.5 L526.2,202.2 L532.5,200.0 L538.8,200.8 L545.0,196.6 L548.8,195.8 L552.5,196.6 L556.2,194.8 L560.0,195.9 L566.2,198.4 L572.5,197.1 L578.8,196.5 L582.5,190.3 L586.0,187.0 L588.8,185.8 L593.8,188.4 L597.5,190.8 L601.0,195.0 L604.0,198.5 L608.0,196.0 L612.0,192.5 L616.2,189.6 L620.0,186.0 L622.5,185.0 L625.0,186.5 L627.5,188.6 L632.5,192.1 L635.0,194.6 L641.2,195.3 L647.5,194.0 L652.5,197.8 L660.0,196.5 L666.2,197.1 L672.5,194.6 L678.8,197.1 L685.0,194.6 L691.2,193.4 L697.5,193.4 L706.0,193.4 L710.0,194.6 L720.0,192.7 L727.0,188.7 L735.0,191.9 L742.5,190.7 L752.5,188.2 L762.5,184.4 L772.5,183.7 L782.5,182.7 L790.0,186.2 L796.2,184.4 L805.0,186.9 L812.5,187.7 L818.8,186.2 L827.5,188.7 L837.5,191.9 L847.5,192.7 L856.2,192.7 L865.0,195.7 L875.0,195.2 L883.8,193.4 L891.2,191.7 L897.5,193.4 L907.5,192.7 L915.0,191.2 L920.0,195.7 L926.2,201.9 L935.0,200.2 L942.5,201.2 L950.0,199.4 L957.5,201.2 L965.0,199.4 L972.5,197.7 L980.0,196.9 L985.0,199.4 L990.0,197.2 L991.2,196.9 L1000.0,199.4 L1005.0,196.9 L1010.0,203.2 L1017.5,199.4 L1023.8,200.7 L1030.0,205.2 L1037.5,206.2 L1045.0,204.4 L1052.5,203.2 L1060.0,202.7 L1065.0,201.2 L1072.5,205.7 L1080.0,209.4 L1090.0,208.7 L1097.5,206.9 L1105.0,205.7 L1112.5,206.9 L1120.0,205.7 L1130.0,206.9 L1137.5,208.7 L1145.0,204.4 L1152.5,201.9 L1160.0,199.4 L1166.2,196.9 L1172.5,199.4 L1177.5,196.9 L1180.5,199.4 L1181.8,199.4" fill="none" stroke-width="4" stroke-linejoin="round" stroke-linecap="butt"/><path d="M108.0,127.00H109.0V131.00H110.0V134.00H111.0V136.00H112.0V137.00H113.0V139.00H114.0V139.00H115.0V139.00H116.0V139.00H117.0V138.00H118.0V136.00H119.0V136.00H120.0V135.00H121.0V135.00H122.0V135.00H123.0V136.00H124.0V136.00H125.0V136.00H126.0V136.00H127.0V138.00H128.0V139.00H129.0V141.00H130.0V142.00H131.0V143.00H132.0V145.00H133.0V145.00H134.0V147.00H135.0V148.00H136.0V149.00H137.0V151.00H138.0V152.00H139.0V153.00H140.0V153.00H141.0V155.00H142.0V156.00H143.0V158.00H144.0V159.00H145.0V161.00H146.0V161.00H147.0V162.00H148.0V163.00H149.0V164.00H150.0V165.00H151.0V166.00H152.0V171.00H153.0V171.00H154.0V172.00H155.0V172.00H156.0V172.00H157.0V172.00H158.0V172.00H159.0V173.00H160.0V173.00H161.0V172.00H162.0V172.00H163.0V172.00H164.0V172.00H165.0V172.00H166.0V173.00H167.0V173.00H168.0V173.00H169.0V173.00H170.0V173.00H171.0V171.00H172.0V171.00H173.0V171.00H174.0V171.00H175.0V171.00H176.0V171.00H177.0V171.00H178.0V172.00H179.0V172.00H180.0V173.00H181.0V173.00H182.0V174.00H183.0V175.00H184.0V175.00H185.0V176.00H186.0V176.00H187.0V176.00H188.0V175.00H189.0V175.00H190.0V174.00H191.0V175.00H192.0V174.00H193.0V174.00H194.0V174.00H195.0V173.00H196.0V173.00H197.0V172.00H198.0V171.00H199.0V171.00H200.0V169.00H201.0V170.00H202.0V170.00H203.0V171.00H204.0V171.00H205.0V171.00H206.0V172.00H207.0V172.00H208.0V172.00H209.0V172.00H210.0V173.00H211.0V173.00H212.0V173.00H213.0V173.00H214.0V175.00H215.0V175.00H216.0V176.00H217.0V174.00H218.0V175.00H219.0V176.00H220.0V176.00H221.0V177.00H222.0V177.00H223.0V177.00H224.0V177.00H225.0V177.00H226.0V177.00H227.0V177.00H228.0V178.00H229.0V178.00H230.0V179.00H231.0V179.00H232.0V180.00H233.0V180.00H234.0V180.00H235.0V179.00H236.0V179.00H237.0V179.00H238.0V179.00H239.0V179.00H240.0V178.00H241.0V177.00H242.0V176.00H243.0V177.00H244.0V178.00H245.0V179.00H246.0V180.00H247.0V180.00H248.0V179.00H249.0V181.00H250.0V180.00H251.0V180.00H252.0V180.00H253.0V180.00H254.0V180.00H255.0V178.00H256.0V178.00H257.0V178.00H258.0V178.00H259.0V178.00H260.0V179.00H261.0V180.00H262.0V180.00H263.0V180.00H264.0V181.00H265.0V181.00H266.0V182.00H267.0V182.00H268.0V183.00H269.0V183.00H270.0V183.00H271.0V183.00H272.0V183.00H273.0V182.00H274.0V182.00H275.0V182.00H276.0V181.00H277.0V181.00H278.0V181.00H279.0V181.00H280.0V181.00H281.0V181.00H282.0V181.00H283.0V181.00H284.0V182.00H285.0V182.00H286.0V182.00H287.0V180.00H288.0V180.00H289.0V180.00H290.0V180.00H291.0V179.00H292.0V179.00H293.0V181.00H294.0V180.00H295.0V180.00H296.0V179.00H297.0V179.00H298.0V178.00H299.0V178.00H300.0V177.00H301.0V175.00H302.0V175.00H303.0V174.00H304.0V173.00H305.0V173.00H306.0V173.00H307.0V174.00H308.0V174.00H309.0V174.00H310.0V174.00H311.0V174.00H312.0V174.00H313.0V173.00H314.0V173.00H315.0V173.00H316.0V173.00H317.0V173.00H318.0V172.00H319.0V172.00H320.0V172.00H321.0V173.00H322.0V173.00H323.0V174.00H324.0V174.00H325.0V175.00H326.0V176.00H327.0V176.00H328.0V176.00H329.0V176.00H330.0V177.00H331.0V178.00H332.0V178.00H333.0V178.00H334.0V178.00H335.0V178.00H336.0V178.00H337.0V175.00H338.0V175.00H339.0V174.00H340.0V174.00H341.0V174.00H342.0V174.00H343.0V174.00H344.0V174.00H345.0V173.00H346.0V173.00H347.0V173.00H348.0V173.00H349.0V174.00H350.0V174.00H351.0V174.00H352.0V174.00H353.0V176.00H354.0V177.00H355.0V177.00H356.0V178.00H357.0V178.00H358.0V179.00H359.0V180.00H360.0V181.00H361.0V181.00H362.0V181.00H363.0V181.00H364.0V181.00H365.0V180.00H366.0V180.00H367.0V180.00H368.0V180.00H369.0V179.00H370.0V179.00H371.0V178.00H372.0V178.00H373.0V179.00H374.0V179.00H375.0V180.00H376.0V182.00H377.0V182.00H378.0V183.00H379.0V183.00H380.0V182.00H381.0V182.00H382.0V182.00H383.0V182.00H384.0V183.00H385.0V182.00H386.0V182.00H387.0V182.00H388.0V183.00H389.0V183.00H390.0V183.00H391.0V183.00H392.0V183.00H393.0V183.00H394.0V183.00H395.0V184.00H396.0V185.00H397.0V185.00H398.0V185.00H399.0V184.00H400.0V184.00H401.0V184.00H402.0V185.00H403.0V185.00H404.0V186.00H405.0V187.00H406.0V187.00H407.0V187.00H408.0V187.00H409.0V187.00H410.0V187.00H411.0V187.00H412.0V186.00H413.0V186.00H414.0V186.00H415.0V186.00H416.0V186.00H417.0V187.00H418.0V187.00H419.0V187.00H420.0V187.00H421.0V187.00H422.0V187.00H423.0V187.00H424.0V187.00H425.0V186.00H426.0V186.00H427.0V187.00H428.0V187.00H429.0V188.00H430.0V188.00H431.0V188.00H432.0V187.00H433.0V187.00H434.0V187.00H435.0V188.00H436.0V189.00H437.0V189.00H438.0V189.00H439.0V189.00H440.0V189.00H441.0V187.00H442.0V187.00H443.0V186.00H444.0V186.00H445.0V186.00H446.0V184.00H447.0V184.00H448.0V185.00H449.0V187.00H450.0V188.00H451.0V188.00H452.0V188.00H453.0V188.00H454.0V188.00H455.0V188.00H456.0V188.00H457.0V185.00H458.0V185.00H459.0V185.00H460.0V186.00H461.0V187.00H462.0V187.00H463.0V188.00H464.0V189.00H465.0V189.00H466.0V189.00H467.0V189.00H468.0V190.00H469.0V190.00H470.0V190.00H471.0V191.00H472.0V191.00H473.0V192.00H474.0V192.00H475.0V193.00H476.0V194.00H477.0V194.00H478.0V194.00H479.0V194.00H480.0V194.00H481.0V195.00H482.0V195.00H483.0V195.00H484.0V196.00H485.0V196.00H486.0V196.00H487.0V196.00H488.0V196.00H489.0V194.00H490.0V195.00H491.0V195.00H492.0V195.00H493.0V195.00H494.0V197.00H495.0V197.00H496.0V197.00H497.0V197.00H498.0V197.00H499.0V197.00H500.0V197.00H501.0V197.00H502.0V197.00H503.0V198.00H504.0V198.00H505.0V198.00H506.0V198.00H507.0V198.00H508.0V198.00H509.0V199.00H510.0V198.00H511.0V199.00H512.0V199.00H513.0V198.00H514.0V198.00H515.0V198.00H516.0V198.00H517.0V198.00H518.0V199.00H519.0V199.00H520.0V199.00H521.0V199.00H522.0V199.00H523.0V199.00H524.0V198.00H525.0V198.00H526.0V198.00H527.0V199.00H528.0V199.00H529.0V198.00H530.0V198.00H531.0V198.00H532.0V197.00H533.0V197.00H534.0V197.00H535.0V197.00H536.0V196.00H537.0V197.00H538.0V197.00H539.0V197.00H540.0V196.00H541.0V196.00H542.0V195.00H543.0V194.00H544.0V194.00H545.0V193.00H546.0V193.00H547.0V192.00H548.0V192.00H549.0V193.00H550.0V193.00H551.0V193.00H552.0V193.00H553.0V194.00H554.0V193.00H555.0V193.00H556.0V193.00H557.0V193.00H558.0V193.00H559.0V193.00H560.0V192.00H561.0V193.00H562.0V193.00H563.0V193.00H564.0V194.00H565.0V194.00H566.0V195.00H567.0V194.00H568.0V194.00H569.0V194.00H570.0V194.00H571.0V194.00H572.0V193.00H573.0V195.00H574.0V195.00H575.0V195.00H576.0V195.00H577.0V195.00H578.0V194.00H579.0V194.00H580.0V192.00H581.0V191.00H582.0V189.00H583.0V185.00H584.0V184.00H585.0V183.00H586.0V182.00H587.0V182.00H588.0V181.00H589.0V181.00H590.0V182.00H591.0V184.00H592.0V185.00H593.0V185.00H594.0V186.00H595.0V187.00H596.0V187.00H597.0V188.00H598.0V189.00H599.0V190.00H600.0V191.00H601.0V191.00H602.0V192.00H603.0V193.00H604.0V194.00H605.0V193.00H606.0V193.00H607.0V192.00H608.0V192.00H609.0V191.00H610.0V190.00H611.0V189.00H612.0V188.00H613.0V187.00H614.0V187.00H615.0V188.00H616.0V187.00H617.0V186.00H618.0V185.00H619.0V184.00H620.0V183.00H621.0V183.00H622.0V182.00H623.0V182.00H624.0V182.00H625.0V183.00H626.0V184.00H627.0V185.00H628.0V185.00H629.0V186.00H630.0V187.00H631.0V188.00H632.0V188.00H633.0V190.00H634.0V191.00H635.0V192.00H636.0V192.00H637.0V193.00H638.0V193.00H639.0V193.00H640.0V193.00H641.0V193.00H642.0V193.00H643.0V191.00H644.0V191.00H645.0V191.00H646.0V190.00H647.0V190.00H648.0V190.00H649.0V193.00H650.0V194.00H651.0V195.00H652.0V194.00H653.0V195.00H654.0V195.00H655.0V194.00H656.0V194.00H657.0V194.00H658.0V194.00H659.0V194.00H660.0V194.00H661.0V194.00H662.0V193.00H663.0V193.00H664.0V194.00H665.0V194.00H666.0V194.00H667.0V193.00H668.0V193.00H669.0V193.00H670.0V192.00H671.0V192.00H672.0V193.00H673.0V193.00H674.0V193.00H675.0V194.00H676.0V194.00H677.0V194.00H678.0V194.00H679.0V194.00H680.0V194.00H681.0V194.00H682.0V193.00H683.0V193.00H684.0V192.00H685.0V192.00H686.0V192.00H687.0V192.00H688.0V192.00H689.0V191.00H690.0V190.00H691.0V190.00H692.0V190.00H693.0V190.00H694.0V190.00H695.0V190.00H696.0V190.00H697.0V190.00H698.0V190.00H699.0V190.00H700.0V190.00H701.0V190.00H702.0V190.00H703.0V190.00H704.0V190.00H705.0V190.00H706.0V190.00H707.0V190.00H708.0V191.00H709.0V191.00H710.0V191.00H711.0V191.00H712.0V191.00H713.0V191.00H714.0V192.00H715.0V192.00H716.0V191.00H717.0V191.00H718.0V191.00H719.0V191.00H720.0V191.00H721.0V190.00H722.0V187.00H723.0V186.00H724.0V186.00H725.0V186.00H726.0V186.00H727.0V185.00H728.0V185.00H729.0V186.00H730.0V186.00H731.0V187.00H732.0V187.00H733.0V187.00H734.0V188.00H735.0V190.00H736.0V190.00H737.0V190.00H738.0V187.00H739.0V187.00H740.0V187.00H741.0V187.00H742.0V187.00H743.0V187.00H744.0V187.00H745.0V186.00H746.0V186.00H747.0V187.00H748.0V187.00H749.0V186.00H750.0V186.00H751.0V186.00H752.0V186.00H753.0V185.00H754.0V185.00H755.0V185.00H756.0V184.00H757.0V184.00H758.0V183.00H759.0V183.00H760.0V183.00H761.0V182.00H762.0V182.00H763.0V181.00H764.0V181.00H765.0V181.00H766.0V181.00H767.0V181.00H768.0V181.00H769.0V181.00H770.0V180.00H771.0V180.00H772.0V180.00H773.0V180.00H774.0V180.00H775.0V180.00H776.0V180.00H777.0V180.00H778.0V180.00H779.0V180.00H780.0V180.00H781.0V180.00H782.0V180.00H783.0V180.00H784.0V181.00H785.0V181.00H786.0V182.00H787.0V182.00H788.0V183.00H789.0V184.00H790.0V184.00H791.0V184.00H792.0V184.00H793.0V183.00H794.0V182.00H795.0V182.00H796.0V182.00H797.0V182.00H798.0V182.00H799.0V182.00H800.0V181.00H801.0V181.00H802.0V182.00H803.0V182.00H804.0V182.00H805.0V183.00H806.0V183.00H807.0V183.00H808.0V183.00H809.0V183.00H810.0V184.00H811.0V183.00H812.0V184.00H813.0V183.00H814.0V183.00H815.0V183.00H816.0V182.00H817.0V182.00H818.0V182.00H819.0V182.00H820.0V182.00H821.0V182.00H822.0V184.00H823.0V184.00H824.0V185.00H825.0V185.00H826.0V184.00H827.0V185.00H828.0V185.00H829.0V185.00H830.0V186.00H831.0V186.00H832.0V186.00H833.0V186.00H834.0V187.00H835.0V187.00H836.0V188.00H837.0V189.00H838.0V189.00H839.0V189.00H840.0V189.00H841.0V189.00H842.0V190.00H843.0V191.00H844.0V191.00H845.0V190.00H846.0V190.00H847.0V190.00H848.0V190.00H849.0V189.00H850.0V189.00H851.0V189.00H852.0V190.00H853.0V190.00H854.0V190.00H855.0V190.00H856.0V189.00H857.0V189.00H858.0V189.00H859.0V190.00H860.0V190.00H861.0V190.00H862.0V191.00H863.0V191.00H864.0V191.00H865.0V192.00H866.0V193.00H867.0V193.00H868.0V193.00H869.0V193.00H870.0V193.00H871.0V193.00H872.0V193.00H873.0V193.00H874.0V192.00H875.0V192.00H876.0V192.00H877.0V192.00H878.0V192.00H879.0V191.00H880.0V191.00H881.0V191.00H882.0V191.00H883.0V191.00H884.0V189.00H885.0V189.00H886.0V189.00H887.0V189.00H888.0V188.00H889.0V188.00H890.0V188.00H891.0V188.00H892.0V188.00H893.0V188.00H894.0V188.00H895.0V188.00H896.0V189.00H897.0V189.00H898.0V190.00H899.0V190.00H900.0V190.00H901.0V190.00H902.0V190.00H903.0V190.00H904.0V191.00H905.0V191.00H906.0V191.00H907.0V191.00H908.0V191.00H909.0V191.00H910.0V190.00H911.0V190.00H912.0V190.00H913.0V190.00H914.0V188.00H915.0V188.00H916.0V189.00H917.0V189.00H918.0V190.00H919.0V191.00H920.0V192.00H921.0V193.00H922.0V194.00H923.0V195.00H924.0V196.00H925.0V197.00H926.0V198.00H927.0V198.00H928.0V198.00H929.0V197.00H930.0V197.00H931.0V197.00H932.0V197.00H933.0V197.00H934.0V196.00H935.0V196.00H936.0V196.00H937.0V196.00H938.0V196.00H939.0V196.00H940.0V196.00H941.0V198.00H942.0V198.00H943.0V198.00H944.0V198.00H945.0V198.00H946.0V196.00H947.0V196.00H948.0V195.00H949.0V195.00H950.0V195.00H951.0V197.00H952.0V197.00H953.0V197.00H954.0V197.00H955.0V197.00H956.0V198.00H957.0V198.00H958.0V198.00H959.0V199.00H960.0V198.00H961.0V198.00H962.0V198.00H963.0V196.00H964.0V196.00H965.0V196.00H966.0V195.00H967.0V195.00H968.0V196.00H969.0V195.00H970.0V195.00H971.0V195.00H972.0V195.00H973.0V195.00H974.0V195.00H975.0V194.00H976.0V194.00H977.0V194.00H978.0V194.00H979.0V194.00H980.0V193.00H981.0V194.00H982.0V194.00H983.0V195.00H984.0V195.00H985.0V196.00H986.0V196.00H987.0V196.00H988.0V195.00H989.0V195.00H990.0V195.00H991.0V194.00H992.0V194.00H993.0V195.00H994.0V195.00H995.0V195.00H996.0V196.00H997.0V196.00H998.0V196.00H999.0V197.00H1000.0V197.00H1001.0V196.00H1002.0V196.00H1003.0V195.00H1004.0V195.00H1005.0V194.00H1006.0V196.00H1007.0V198.00H1008.0V199.00H1009.0V198.00H1010.0V200.00H1011.0V199.00H1012.0V199.00H1013.0V198.00H1014.0V198.00H1015.0V197.00H1016.0V197.00H1017.0V197.00H1018.0V197.00H1019.0V197.00H1020.0V197.00H1021.0V197.00H1022.0V197.00H1023.0V198.00H1024.0V198.00H1025.0V200.00H1026.0V200.00H1027.0V201.00H1028.0V202.00H1029.0V203.00H1030.0V203.00H1031.0V201.00H1032.0V201.00H1033.0V201.00H1034.0V201.00H1035.0V202.00H1036.0V202.00H1037.0V202.00H1038.0V202.00H1039.0V203.00H1040.0V203.00H1041.0V202.00H1042.0V202.00H1043.0V202.00H1044.0V200.00H1045.0V200.00H1046.0V200.00H1047.0V200.00H1048.0V202.00H1049.0V202.00H1050.0V202.00H1051.0V202.00H1052.0V201.00H1053.0V201.00H1054.0V201.00H1055.0V201.00H1056.0V199.00H1057.0V199.00H1058.0V199.00H1059.0V199.00H1060.0V199.00H1061.0V198.00H1062.0V198.00H1063.0V198.00H1064.0V197.00H1065.0V197.00H1066.0V200.00H1067.0V200.00H1068.0V201.00H1069.0V202.00H1070.0V202.00H1071.0V203.00H1072.0V203.00H1073.0V203.00H1074.0V204.00H1075.0V204.00H1076.0V204.00H1077.0V205.00H1078.0V205.00H1079.0V206.00H1080.0V206.00H1081.0V206.00H1082.0V206.00H1083.0V206.00H1084.0V207.00H1085.0V207.00H1086.0V207.00H1087.0V207.00H1088.0V204.00H1089.0V204.00H1090.0V204.00H1091.0V205.00H1092.0V205.00H1093.0V205.00H1094.0V204.00H1095.0V204.00H1096.0V204.00H1097.0V204.00H1098.0V203.00H1099.0V203.00H1100.0V203.00H1101.0V203.00H1102.0V203.00H1103.0V203.00H1104.0V202.00H1105.0V204.00H1106.0V204.00H1107.0V204.00H1108.0V204.00H1109.0V204.00H1110.0V204.00H1111.0V203.00H1112.0V204.00H1113.0V204.00H1114.0V204.00H1115.0V204.00H1116.0V204.00H1117.0V204.00H1118.0V204.00H1119.0V203.00H1120.0V203.00H1121.0V203.00H1122.0V203.00H1123.0V204.00H1124.0V202.00H1125.0V202.00H1126.0V202.00H1127.0V202.00H1128.0V203.00H1129.0V203.00H1130.0V203.00H1131.0V204.00H1132.0V204.00H1133.0V204.00H1134.0V204.00H1135.0V205.00H1136.0V205.00H1137.0V205.00H1138.0V205.00H1139.0V204.00H1140.0V203.00H1141.0V203.00H1142.0V202.00H1143.0V202.00H1144.0V201.00H1145.0V201.00H1146.0V200.00H1147.0V201.00H1148.0V201.00H1149.0V201.00H1150.0V200.00H1151.0V200.00H1152.0V200.00H1153.0V199.00H1154.0V199.00H1155.0V199.00H1156.0V197.00H1157.0V196.00H1158.0V196.00H1159.0V197.00H1160.0V197.00H1161.0V196.00H1162.0V194.00H1163.0V194.00H1164.0V193.00H1165.0V193.00H1166.0V192.00H1167.0V193.00H1168.0V193.00H1169.0V193.00H1170.0V195.00H1171.0V196.00H1172.0V196.00H1173.0V196.00H1174.0V196.00H1175.0V195.00H1176.0V195.00H1177.0V194.00H1178.0V196.00H1179.0V196.00H1180.0V197.00H1181.0V195.00V201.00H1180.0V201.00H1179.0V200.00H1178.0V199.00H1177.0V201.00H1176.0V201.00H1175.0V202.00H1174.0V202.00H1173.0V203.00H1172.0V203.00H1171.0V202.00H1170.0V202.00H1169.0V202.00H1168.0V201.00H1167.0V202.00H1166.0V202.00H1165.0V202.00H1164.0V202.00H1163.0V203.00H1162.0V203.00H1161.0V204.00H1160.0V204.00H1159.0V204.00H1158.0V205.00H1157.0V205.00H1156.0V205.00H1155.0V204.00H1154.0V204.00H1153.0V204.00H1152.0V205.00H1151.0V205.00H1150.0V205.00H1149.0V206.00H1148.0V207.00H1147.0V207.00H1146.0V207.00H1145.0V207.00H1144.0V208.00H1143.0V208.00H1142.0V209.00H1141.0V209.00H1140.0V210.00H1139.0V211.00H1138.0V210.00H1137.0V210.00H1136.0V210.00H1135.0V210.00H1134.0V210.00H1133.0V209.00H1132.0V209.00H1131.0V209.00H1130.0V210.00H1129.0V210.00H1128.0V210.00H1127.0V209.00H1126.0V209.00H1125.0V209.00H1124.0V211.00H1123.0V211.00H1122.0V211.00H1121.0V210.00H1120.0V210.00H1119.0V210.00H1118.0V209.00H1117.0V209.00H1116.0V209.00H1115.0V209.00H1114.0V211.00H1113.0V211.00H1112.0V211.00H1111.0V211.00H1110.0V210.00H1109.0V210.00H1108.0V209.00H1107.0V209.00H1106.0V209.00H1105.0V209.00H1104.0V209.00H1103.0V209.00H1102.0V208.00H1101.0V209.00H1100.0V209.00H1099.0V209.00H1098.0V209.00H1097.0V209.00H1096.0V210.00H1095.0V210.00H1094.0V210.00H1093.0V210.00H1092.0V211.00H1091.0V211.00H1090.0V212.00H1089.0V212.00H1088.0V212.00H1087.0V212.00H1086.0V212.00H1085.0V212.00H1084.0V212.00H1083.0V212.00H1082.0V212.00H1081.0V212.00H1080.0V212.00H1079.0V213.00H1078.0V212.00H1077.0V212.00H1076.0V211.00H1075.0V211.00H1074.0V210.00H1073.0V210.00H1072.0V209.00H1071.0V209.00H1070.0V208.00H1069.0V206.00H1068.0V206.00H1067.0V205.00H1066.0V204.00H1065.0V204.00H1064.0V204.00H1063.0V204.00H1062.0V205.00H1061.0V205.00H1060.0V205.00H1059.0V207.00H1058.0V207.00H1057.0V207.00H1056.0V206.00H1055.0V206.00H1054.0V206.00H1053.0V206.00H1052.0V206.00H1051.0V206.00H1050.0V208.00H1049.0V208.00H1048.0V209.00H1047.0V209.00H1046.0V209.00H1045.0V209.00H1044.0V208.00H1043.0V208.00H1042.0V208.00H1041.0V209.00H1040.0V208.00H1039.0V208.00H1038.0V209.00H1037.0V209.00H1036.0V208.00H1035.0V208.00H1034.0V208.00H1033.0V208.00H1032.0V209.00H1031.0V209.00H1030.0V209.00H1029.0V206.00H1028.0V206.00H1027.0V205.00H1026.0V204.00H1025.0V203.00H1024.0V203.00H1023.0V203.00H1022.0V203.00H1021.0V202.00H1020.0V202.00H1019.0V202.00H1018.0V202.00H1017.0V202.00H1016.0V203.00H1015.0V203.00H1014.0V204.00H1013.0V204.00H1012.0V205.00H1011.0V205.00H1010.0V206.00H1009.0V205.00H1008.0V203.00H1007.0V202.00H1006.0V200.00H1005.0V199.00H1004.0V201.00H1003.0V201.00H1002.0V202.00H1001.0V202.00H1000.0V202.00H999.0V201.00H998.0V201.00H997.0V201.00H996.0V200.00H995.0V200.00H994.0V200.00H993.0V199.00H992.0V199.00H991.0V200.00H990.0V200.00H989.0V200.00H988.0V201.00H987.0V202.00H986.0V202.00H985.0V203.00H984.0V202.00H983.0V200.00H982.0V200.00H981.0V199.00H980.0V199.00H979.0V199.00H978.0V199.00H977.0V199.00H976.0V199.00H975.0V200.00H974.0V200.00H973.0V201.00H972.0V201.00H971.0V202.00H970.0V200.00H969.0V200.00H968.0V201.00H967.0V201.00H966.0V201.00H965.0V201.00H964.0V204.00H963.0V204.00H962.0V204.00H961.0V204.00H960.0V204.00H959.0V204.00H958.0V204.00H957.0V204.00H956.0V203.00H955.0V203.00H954.0V203.00H953.0V203.00H952.0V203.00H951.0V202.00H950.0V202.00H949.0V202.00H948.0V203.00H947.0V203.00H946.0V202.00H945.0V202.00H944.0V203.00H943.0V203.00H942.0V203.00H941.0V204.00H940.0V203.00H939.0V203.00H938.0V203.00H937.0V202.00H936.0V202.00H935.0V202.00H934.0V202.00H933.0V202.00H932.0V204.00H931.0V204.00H930.0V204.00H929.0V204.00H928.0V205.00H927.0V205.00H926.0V205.00H925.0V204.00H924.0V203.00H923.0V202.00H922.0V201.00H921.0V200.00H920.0V199.00H919.0V198.00H918.0V196.00H917.0V196.00H916.0V195.00H915.0V194.00H914.0V194.00H913.0V194.00H912.0V194.00H911.0V195.00H910.0V195.00H909.0V195.00H908.0V196.00H907.0V196.00H906.0V196.00H905.0V196.00H904.0V198.00H903.0V198.00H902.0V198.00H901.0V198.00H900.0V198.00H899.0V196.00H898.0V196.00H897.0V196.00H896.0V197.00H895.0V196.00H894.0V196.00H893.0V196.00H892.0V195.00H891.0V195.00H890.0V195.00H889.0V195.00H888.0V195.00H887.0V196.00H886.0V196.00H885.0V196.00H884.0V196.00H883.0V196.00H882.0V197.00H881.0V197.00H880.0V197.00H879.0V197.00H878.0V198.00H877.0V198.00H876.0V198.00H875.0V198.00H874.0V198.00H873.0V198.00H872.0V198.00H871.0V198.00H870.0V198.00H869.0V199.00H868.0V199.00H867.0V199.00H866.0V199.00H865.0V199.00H864.0V199.00H863.0V199.00H862.0V198.00H861.0V198.00H860.0V198.00H859.0V195.00H858.0V195.00H857.0V195.00H856.0V195.00H855.0V195.00H854.0V195.00H853.0V195.00H852.0V195.00H851.0V197.00H850.0V197.00H849.0V197.00H848.0V197.00H847.0V197.00H846.0V197.00H845.0V197.00H844.0V197.00H843.0V195.00H842.0V195.00H841.0V195.00H840.0V195.00H839.0V194.00H838.0V194.00H837.0V194.00H836.0V194.00H835.0V194.00H834.0V193.00H833.0V193.00H832.0V193.00H831.0V192.00H830.0V192.00H829.0V192.00H828.0V191.00H827.0V191.00H826.0V191.00H825.0V191.00H824.0V190.00H823.0V190.00H822.0V190.00H821.0V189.00H820.0V189.00H819.0V189.00H818.0V190.00H817.0V190.00H816.0V190.00H815.0V191.00H814.0V191.00H813.0V191.00H812.0V190.00H811.0V190.00H810.0V190.00H809.0V190.00H808.0V189.00H807.0V189.00H806.0V191.00H805.0V191.00H804.0V190.00H803.0V190.00H802.0V190.00H801.0V190.00H800.0V189.00H799.0V189.00H798.0V189.00H797.0V188.00H796.0V188.00H795.0V189.00H794.0V189.00H793.0V189.00H792.0V189.00H791.0V189.00H790.0V189.00H789.0V188.00H788.0V188.00H787.0V187.00H786.0V187.00H785.0V186.00H784.0V186.00H783.0V185.00H782.0V185.00H781.0V185.00H780.0V186.00H779.0V186.00H778.0V186.00H777.0V186.00H776.0V185.00H775.0V185.00H774.0V185.00H773.0V186.00H772.0V186.00H771.0V186.00H770.0V187.00H769.0V187.00H768.0V186.00H767.0V186.00H766.0V186.00H765.0V188.00H764.0V188.00H763.0V188.00H762.0V188.00H761.0V189.00H760.0V190.00H759.0V190.00H758.0V190.00H757.0V191.00H756.0V189.00H755.0V190.00H754.0V190.00H753.0V191.00H752.0V192.00H751.0V192.00H750.0V192.00H749.0V192.00H748.0V193.00H747.0V191.00H746.0V192.00H745.0V192.00H744.0V192.00H743.0V192.00H742.0V193.00H741.0V193.00H740.0V193.00H739.0V193.00H738.0V194.00H737.0V196.00H736.0V196.00H735.0V196.00H734.0V196.00H733.0V195.00H732.0V195.00H731.0V194.00H730.0V194.00H729.0V193.00H728.0V193.00H727.0V192.00H726.0V193.00H725.0V193.00H724.0V194.00H723.0V195.00H722.0V195.00H721.0V196.00H720.0V197.00H719.0V197.00H718.0V198.00H717.0V198.00H716.0V198.00H715.0V198.00H714.0V197.00H713.0V197.00H712.0V198.00H711.0V198.00H710.0V198.00H709.0V198.00H708.0V196.00H707.0V196.00H706.0V196.00H705.0V196.00H704.0V196.00H703.0V196.00H702.0V196.00H701.0V196.00H700.0V197.00H699.0V197.00H698.0V197.00H697.0V197.00H696.0V197.00H695.0V197.00H694.0V197.00H693.0V197.00H692.0V197.00H691.0V197.00H690.0V198.00H689.0V198.00H688.0V198.00H687.0V198.00H686.0V199.00H685.0V199.00H684.0V199.00H683.0V199.00H682.0V200.00H681.0V200.00H680.0V198.00H679.0V199.00H678.0V199.00H677.0V198.00H676.0V198.00H675.0V197.00H674.0V199.00H673.0V199.00H672.0V199.00H671.0V199.00H670.0V199.00H669.0V199.00H668.0V200.00H667.0V200.00H666.0V201.00H665.0V200.00H664.0V201.00H663.0V201.00H662.0V201.00H661.0V201.00H660.0V201.00H659.0V201.00H658.0V201.00H657.0V201.00H656.0V201.00H655.0V201.00H654.0V201.00H653.0V201.00H652.0V201.00H651.0V200.00H650.0V199.00H649.0V199.00H648.0V198.00H647.0V198.00H646.0V198.00H645.0V198.00H644.0V198.00H643.0V198.00H642.0V199.00H641.0V199.00H640.0V199.00H639.0V198.00H638.0V198.00H637.0V198.00H636.0V198.00H635.0V198.00H634.0V197.00H633.0V195.00H632.0V194.00H631.0V193.00H630.0V193.00H629.0V192.00H628.0V191.00H627.0V190.00H626.0V189.00H625.0V188.00H624.0V188.00H623.0V187.00H622.0V187.00H621.0V189.00H620.0V189.00H619.0V190.00H618.0V191.00H617.0V193.00H616.0V194.00H615.0V195.00H614.0V195.00H613.0V195.00H612.0V196.00H611.0V195.00H610.0V196.00H609.0V197.00H608.0V198.00H607.0V199.00H606.0V199.00H605.0V200.00H604.0V200.00H603.0V201.00H602.0V200.00H601.0V199.00H600.0V198.00H599.0V196.00H598.0V195.00H597.0V194.00H596.0V194.00H595.0V193.00H594.0V192.00H593.0V190.00H592.0V190.00H591.0V189.00H590.0V189.00H589.0V188.00H588.0V188.00H587.0V189.00H586.0V189.00H585.0V192.00H584.0V193.00H583.0V194.00H582.0V195.00H581.0V197.00H580.0V199.00H579.0V199.00H578.0V199.00H577.0V199.00H576.0V199.00H575.0V200.00H574.0V200.00H573.0V200.00H572.0V200.00H571.0V200.00H570.0V200.00H569.0V201.00H568.0V201.00H567.0V202.00H566.0V202.00H565.0V201.00H564.0V201.00H563.0V201.00H562.0V200.00H561.0V200.00H560.0V200.00H559.0V200.00H558.0V199.00H557.0V198.00H556.0V198.00H555.0V198.00H554.0V199.00H553.0V199.00H552.0V200.00H551.0V200.00H550.0V200.00H549.0V199.00H548.0V199.00H547.0V200.00H546.0V201.00H545.0V201.00H544.0V202.00H543.0V202.00H542.0V203.00H541.0V204.00H540.0V204.00H539.0V204.00H538.0V204.00H537.0V204.00H536.0V204.00H535.0V204.00H534.0V204.00H533.0V204.00H532.0V204.00H531.0V205.00H530.0V205.00H529.0V205.00H528.0V206.00H527.0V206.00H526.0V206.00H525.0V205.00H524.0V206.00H523.0V206.00H522.0V206.00H521.0V206.00H520.0V206.00H519.0V206.00H518.0V205.00H517.0V205.00H516.0V206.00H515.0V206.00H514.0V206.00H513.0V206.00H512.0V206.00H511.0V206.00H510.0V206.00H509.0V206.00H508.0V206.00H507.0V206.00H506.0V206.00H505.0V206.00H504.0V206.00H503.0V206.00H502.0V206.00H501.0V205.00H500.0V205.00H499.0V205.00H498.0V204.00H497.0V204.00H496.0V204.00H495.0V204.00H494.0V204.00H493.0V203.00H492.0V203.00H491.0V203.00H490.0V202.00H489.0V202.00H488.0V202.00H487.0V202.00H486.0V202.00H485.0V202.00H484.0V202.00H483.0V201.00H482.0V201.00H481.0V201.00H480.0V199.00H479.0V199.00H478.0V199.00H477.0V199.00H476.0V199.00H475.0V198.00H474.0V198.00H473.0V197.00H472.0V197.00H471.0V197.00H470.0V196.00H469.0V196.00H468.0V196.00H467.0V196.00H466.0V196.00H465.0V196.00H464.0V196.00H463.0V195.00H462.0V195.00H461.0V194.00H460.0V193.00H459.0V193.00H458.0V193.00H457.0V193.00H456.0V193.00H455.0V193.00H454.0V193.00H453.0V193.00H452.0V193.00H451.0V193.00H450.0V192.00H449.0V191.00H448.0V191.00H447.0V191.00H446.0V191.00H445.0V191.00H444.0V192.00H443.0V192.00H442.0V192.00H441.0V193.00H440.0V194.00H439.0V194.00H438.0V194.00H437.0V194.00H436.0V194.00H435.0V194.00H434.0V194.00H433.0V194.00H432.0V194.00H431.0V193.00H430.0V193.00H429.0V192.00H428.0V192.00H427.0V192.00H426.0V192.00H425.0V192.00H424.0V193.00H423.0V193.00H422.0V193.00H421.0V193.00H420.0V193.00H419.0V193.00H418.0V193.00H417.0V193.00H416.0V193.00H415.0V193.00H414.0V193.00H413.0V193.00H412.0V193.00H411.0V192.00H410.0V192.00H409.0V193.00H408.0V193.00H407.0V193.00H406.0V193.00H405.0V192.00H404.0V192.00H403.0V192.00H402.0V191.00H401.0V191.00H400.0V191.00H399.0V191.00H398.0V191.00H397.0V191.00H396.0V191.00H395.0V190.00H394.0V190.00H393.0V190.00H392.0V190.00H391.0V189.00H390.0V189.00H389.0V189.00H388.0V189.00H387.0V190.00H386.0V190.00H385.0V190.00H384.0V190.00H383.0V190.00H382.0V190.00H381.0V190.00H380.0V190.00H379.0V190.00H378.0V190.00H377.0V189.00H376.0V189.00H375.0V188.00H374.0V187.00H373.0V186.00H372.0V186.00H371.0V186.00H370.0V185.00H369.0V185.00H368.0V186.00H367.0V186.00H366.0V186.00H365.0V186.00H364.0V186.00H363.0V186.00H362.0V188.00H361.0V188.00H360.0V187.00H359.0V186.00H358.0V186.00H357.0V184.00H356.0V183.00H355.0V183.00H354.0V182.00H353.0V182.00H352.0V182.00H351.0V182.00H350.0V181.00H349.0V182.00H348.0V182.00H347.0V181.00H346.0V181.00H345.0V181.00H344.0V181.00H343.0V180.00H342.0V180.00H341.0V180.00H340.0V181.00H339.0V182.00H338.0V182.00H337.0V183.00H336.0V183.00H335.0V182.00H334.0V182.00H333.0V182.00H332.0V182.00H331.0V185.00H330.0V185.00H329.0V184.00H328.0V184.00H327.0V184.00H326.0V183.00H325.0V182.00H324.0V182.00H323.0V181.00H322.0V181.00H321.0V180.00H320.0V178.00H319.0V178.00H318.0V178.00H317.0V179.00H316.0V180.00H315.0V180.00H314.0V180.00H313.0V181.00H312.0V181.00H311.0V181.00H310.0V181.00H309.0V181.00H308.0V181.00H307.0V181.00H306.0V179.00H305.0V179.00H304.0V180.00H303.0V180.00H302.0V181.00H301.0V182.00H300.0V182.00H299.0V183.00H298.0V183.00H297.0V184.00H296.0V186.00H295.0V186.00H294.0V187.00H293.0V187.00H292.0V188.00H291.0V188.00H290.0V188.00H289.0V188.00H288.0V188.00H287.0V188.00H286.0V188.00H285.0V188.00H284.0V188.00H283.0V188.00H282.0V187.00H281.0V187.00H280.0V187.00H279.0V187.00H278.0V188.00H277.0V188.00H276.0V188.00H275.0V189.00H274.0V190.00H273.0V190.00H272.0V190.00H271.0V191.00H270.0V191.00H269.0V190.00H268.0V190.00H267.0V189.00H266.0V189.00H265.0V189.00H264.0V188.00H263.0V188.00H262.0V187.00H261.0V187.00H260.0V186.00H259.0V187.00H258.0V187.00H257.0V187.00H256.0V187.00H255.0V186.00H254.0V186.00H253.0V186.00H252.0V186.00H251.0V186.00H250.0V186.00H249.0V187.00H248.0V187.00H247.0V188.00H246.0V188.00H245.0V188.00H244.0V187.00H243.0V185.00H242.0V184.00H241.0V185.00H240.0V186.00H239.0V187.00H238.0V189.00H237.0V189.00H236.0V189.00H235.0V188.00H234.0V188.00H233.0V188.00H232.0V188.00H231.0V187.00H230.0V187.00H229.0V187.00H228.0V187.00H227.0V186.00H226.0V185.00H225.0V185.00H224.0V185.00H223.0V185.00H222.0V185.00H221.0V185.00H220.0V184.00H219.0V183.00H218.0V182.00H217.0V181.00H216.0V181.00H215.0V180.00H214.0V180.00H213.0V180.00H212.0V180.00H211.0V180.00H210.0V181.00H209.0V181.00H208.0V180.00H207.0V180.00H206.0V179.00H205.0V179.00H204.0V179.00H203.0V178.00H202.0V178.00H201.0V177.00H200.0V179.00H199.0V179.00H198.0V180.00H197.0V180.00H196.0V181.00H195.0V182.00H194.0V182.00H193.0V182.00H192.0V182.00H191.0V182.00H190.0V182.00H189.0V183.00H188.0V182.00H187.0V183.00H186.0V183.00H185.0V183.00H184.0V182.00H183.0V182.00H182.0V181.00H181.0V182.00H180.0V181.00H179.0V181.00H178.0V181.00H177.0V180.00H176.0V180.00H175.0V180.00H174.0V180.00H173.0V180.00H172.0V180.00H171.0V180.00H170.0V180.00H169.0V180.00H168.0V180.00H167.0V179.00H166.0V179.00H165.0V180.00H164.0V179.00H163.0V179.00H162.0V179.00H161.0V179.00H160.0V178.00H159.0V179.00H158.0V179.00H157.0V179.00H156.0V180.00H155.0V180.00H154.0V180.00H153.0V180.00H152.0V179.00H151.0V176.00H150.0V176.00H149.0V175.00H148.0V174.00H147.0V172.00H146.0V171.00H145.0V170.00H144.0V168.00H143.0V167.00H142.0V165.00H141.0V165.00H140.0V164.00H139.0V163.00H138.0V159.00H137.0V158.00H136.0V156.00H135.0V155.00H134.0V154.00H133.0V153.00H132.0V151.00H131.0V150.00H130.0V148.00H129.0V148.00H128.0V146.00H127.0V145.00H126.0V143.00H125.0V143.00H124.0V143.00H123.0V143.00H122.0V143.00H121.0V144.00H120.0V144.00H119.0V145.00H118.0V146.00H117.0V147.00H116.0V148.00H115.0V148.00H114.0V148.00H113.0V147.00H112.0V145.00H111.0V144.00H110.0V142.00H109.0V139.00H108.0V135.00Z" stroke-width="1.2" stroke-linejoin="round"/></g>
<g fill="#808080" stroke="#808080"><path d="M100.7,141.0 L101.5,133.0 L102.8,124.0 L104.2,120.5 L105.2,126.0 L106.3,140.0 L107.5,150.0 L108.5,151.0 L110.0,151.5" fill="none" stroke-width="6.4" stroke-linejoin="round" stroke-linecap="butt"/><path d="M100.7,141.0 L101.5,133.0 L102.8,124.0 L104.2,120.5 L105.2,126.0 L106.3,140.0 L107.5,150.0 L108.5,151.0 L110.0,151.5 L118.0,151.5 L119.5,148.0 L121.0,145.0 L125.0,145.0 L127.5,147.0 L130.0,148.3 L133.5,149.0 L137.0,151.0 L139.8,153.7 L143.8,159.4 L147.0,163.0 L150.0,166.0 L152.5,171.0 L156.0,174.0 L160.0,180.6 L165.0,182.8 L170.0,182.0 L177.5,182.8 L185.0,186.9 L188.8,188.2 L195.0,183.2 L202.5,184.4 L210.0,186.9 L217.5,190.7 L225.0,191.9 L232.5,193.7 L238.8,193.2 L243.8,188.2 L250.0,189.4 L257.5,188.2 L265.0,188.7 L272.5,190.2 L280.0,189.5 L286.2,188.9 L292.5,187.0 L298.8,187.0 L305.0,183.9 L311.2,183.9 L317.5,182.9 L323.8,184.5 L330.0,183.9 L340.0,183.9 L345.0,186.1 L352.5,187.0 L360.0,190.1 L367.5,188.9 L372.5,186.6 L377.5,190.8 L385.0,192.0 L392.5,193.9 L400.0,195.1 L405.0,196.4 L407.5,195.8 L410.0,195.0 L420.0,194.6 L426.2,194.0 L437.5,194.1 L445.0,192.8 L451.2,193.9 L460.0,194.6 L470.0,196.5 L475.0,198.1 L481.2,199.5 L490.0,200.2 L497.5,201.0 L507.5,203.8 L515.0,205.2 L522.5,207.5 L530.0,208.8 L533.8,205.0 L540.0,204.4 L546.2,203.1 L553.8,201.9 L560.0,200.7 L567.5,204.4 L575.0,202.7 L580.0,200.7 L587.5,195.2 L595.0,194.4 L602.0,189.4 L607.5,193.7 L612.5,196.9 L620.0,194.4 L625.0,191.9 L630.0,200.7 L636.2,205.7 L642.5,203.2 L650.0,203.2 L657.5,205.7 L665.0,206.9 L675.0,208.2 L682.5,207.7 L690.0,206.2 L700.0,203.7 L710.0,203.2 L720.0,203.7 L727.5,204.4 L736.2,206.2 L745.0,204.4 L755.0,204.4 L762.5,203.2 L771.2,201.2 L777.5,204.4 L785.0,203.2 L795.0,204.4 L803.8,206.9 L812.5,205.2 L820.0,202.7 L828.8,205.7 L837.5,208.7 L847.5,208.7 L856.2,206.9 L865.0,207.7 L872.5,210.7 L882.5,209.4 L891.2,209.4 L900.0,213.2 L906.2,212.7 L912.5,210.2 L918.8,214.4 L926.2,220.7 L933.8,216.9 L942.5,218.7 L950.0,216.9 L958.8,221.2 L965.0,218.7 L972.5,218.2 L978.8,216.2 L985.0,218.7 L990.0,216.7 L992.5,216.2 L1000.0,218.2 L1005.0,216.9 L1010.0,223.2 L1017.5,218.7 L1023.8,220.2 L1028.8,226.2 L1036.2,224.4 L1045.0,222.7 L1052.5,220.7 L1060.0,218.2 L1065.0,216.9 L1072.5,221.9 L1080.0,221.9 L1090.0,221.2 L1100.0,220.2 L1107.5,220.2 L1115.0,219.4 L1122.5,220.7 L1130.0,221.9 L1136.2,223.7 L1141.2,226.2 L1147.5,223.2 L1155.0,221.9 L1161.2,217.7 L1167.5,216.2 L1173.8,218.7 L1177.5,217.7 L1180.5,219.4 L1181.8,219.4" fill="none" stroke-width="4" stroke-linejoin="round" stroke-linecap="butt"/><path d="M108.0,147.00H109.0V147.00H110.0V147.00H111.0V147.00H112.0V144.00H113.0V144.00H114.0V144.00H115.0V144.00H116.0V147.00H117.0V147.00H118.0V147.00H119.0V145.00H120.0V141.00H121.0V140.00H122.0V140.00H123.0V140.00H124.0V140.00H125.0V140.00H126.0V140.00H127.0V141.00H128.0V142.00H129.0V142.00H130.0V145.00H131.0V145.00H132.0V145.00H133.0V145.00H134.0V140.00H135.0V141.00H136.0V141.00H137.0V141.00H138.0V144.00H139.0V145.00H140.0V145.00H141.0V150.00H142.0V151.00H143.0V152.00H144.0V153.00H145.0V154.00H146.0V153.00H147.0V154.00H148.0V155.00H149.0V156.00H150.0V157.00H151.0V159.00H152.0V164.00H153.0V166.00H154.0V167.00H155.0V167.00H156.0V167.00H157.0V169.00H158.0V170.00H159.0V172.00H160.0V173.00H161.0V172.00H162.0V173.00H163.0V174.00H164.0V175.00H165.0V176.00H166.0V176.00H167.0V176.00H168.0V176.00H169.0V176.00H170.0V176.00H171.0V175.00H172.0V176.00H173.0V176.00H174.0V176.00H175.0V176.00H176.0V177.00H177.0V177.00H178.0V177.00H179.0V180.00H180.0V180.00H181.0V181.00H182.0V182.00H183.0V182.00H184.0V183.00H185.0V184.00H186.0V184.00H187.0V185.00H188.0V185.00H189.0V185.00H190.0V184.00H191.0V182.00H192.0V182.00H193.0V181.00H194.0V180.00H195.0V179.00H196.0V176.00H197.0V177.00H198.0V177.00H199.0V178.00H200.0V178.00H201.0V178.00H202.0V180.00H203.0V180.00H204.0V180.00H205.0V181.00H206.0V181.00H207.0V181.00H208.0V182.00H209.0V182.00H210.0V182.00H211.0V183.00H212.0V183.00H213.0V183.00H214.0V184.00H215.0V184.00H216.0V185.00H217.0V185.00H218.0V188.00H219.0V188.00H220.0V189.00H221.0V189.00H222.0V189.00H223.0V190.00H224.0V190.00H225.0V190.00H226.0V190.00H227.0V188.00H228.0V189.00H229.0V189.00H230.0V189.00H231.0V188.00H232.0V188.00H233.0V188.00H234.0V188.00H235.0V189.00H236.0V189.00H237.0V189.00H238.0V189.00H239.0V188.00H240.0V187.00H241.0V186.00H242.0V185.00H243.0V184.00H244.0V183.00H245.0V185.00H246.0V185.00H247.0V186.00H248.0V186.00H249.0V186.00H250.0V186.00H251.0V186.00H252.0V186.00H253.0V186.00H254.0V186.00H255.0V185.00H256.0V185.00H257.0V184.00H258.0V185.00H259.0V185.00H260.0V185.00H261.0V186.00H262.0V184.00H263.0V184.00H264.0V184.00H265.0V185.00H266.0V185.00H267.0V185.00H268.0V185.00H269.0V186.00H270.0V186.00H271.0V185.00H272.0V185.00H273.0V185.00H274.0V185.00H275.0V185.00H276.0V187.00H277.0V187.00H278.0V187.00H279.0V187.00H280.0V186.00H281.0V186.00H282.0V185.00H283.0V185.00H284.0V185.00H285.0V185.00H286.0V185.00H287.0V185.00H288.0V184.00H289.0V184.00H290.0V184.00H291.0V183.00H292.0V183.00H293.0V183.00H294.0V183.00H295.0V183.00H296.0V183.00H297.0V183.00H298.0V184.00H299.0V184.00H300.0V183.00H301.0V183.00H302.0V182.00H303.0V182.00H304.0V181.00H305.0V181.00H306.0V181.00H307.0V179.00H308.0V179.00H309.0V179.00H310.0V179.00H311.0V179.00H312.0V179.00H313.0V181.00H314.0V181.00H315.0V181.00H316.0V181.00H317.0V180.00H318.0V178.00H319.0V178.00H320.0V179.00H321.0V179.00H322.0V179.00H323.0V181.00H324.0V182.00H325.0V182.00H326.0V181.00H327.0V181.00H328.0V181.00H329.0V181.00H330.0V181.00H331.0V181.00H332.0V181.00H333.0V181.00H334.0V181.00H335.0V181.00H336.0V181.00H337.0V181.00H338.0V181.00H339.0V181.00H340.0V181.00H341.0V181.00H342.0V181.00H343.0V182.00H344.0V182.00H345.0V182.00H346.0V183.00H347.0V183.00H348.0V183.00H349.0V183.00H350.0V183.00H351.0V183.00H352.0V183.00H353.0V183.00H354.0V184.00H355.0V185.00H356.0V185.00H357.0V186.00H358.0V186.00H359.0V187.00H360.0V187.00H361.0V187.00H362.0V187.00H363.0V187.00H364.0V187.00H365.0V187.00H366.0V186.00H367.0V186.00H368.0V185.00H369.0V185.00H370.0V184.00H371.0V184.00H372.0V183.00H373.0V184.00H374.0V184.00H375.0V185.00H376.0V186.00H377.0V187.00H378.0V188.00H379.0V188.00H380.0V188.00H381.0V188.00H382.0V188.00H383.0V189.00H384.0V189.00H385.0V188.00H386.0V188.00H387.0V189.00H388.0V189.00H389.0V189.00H390.0V189.00H391.0V190.00H392.0V190.00H393.0V190.00H394.0V190.00H395.0V190.00H396.0V190.00H397.0V191.00H398.0V191.00H399.0V190.00H400.0V191.00H401.0V191.00H402.0V193.00H403.0V193.00H404.0V193.00H405.0V194.00H406.0V193.00H407.0V193.00H408.0V193.00H409.0V192.00H410.0V191.00H411.0V191.00H412.0V191.00H413.0V191.00H414.0V191.00H415.0V191.00H416.0V191.00H417.0V191.00H418.0V191.00H419.0V191.00H420.0V191.00H421.0V190.00H422.0V190.00H423.0V190.00H424.0V190.00H425.0V190.00H426.0V190.00H427.0V190.00H428.0V190.00H429.0V190.00H430.0V190.00H431.0V190.00H432.0V190.00H433.0V190.00H434.0V190.00H435.0V190.00H436.0V190.00H437.0V190.00H438.0V190.00H439.0V189.00H440.0V189.00H441.0V189.00H442.0V189.00H443.0V189.00H444.0V191.00H445.0V191.00H446.0V191.00H447.0V191.00H448.0V191.00H449.0V191.00H450.0V189.00H451.0V189.00H452.0V189.00H453.0V191.00H454.0V192.00H455.0V192.00H456.0V192.00H457.0V192.00H458.0V192.00H459.0V192.00H460.0V192.00H461.0V192.00H462.0V192.00H463.0V191.00H464.0V191.00H465.0V191.00H466.0V191.00H467.0V191.00H468.0V192.00H469.0V192.00H470.0V192.00H471.0V194.00H472.0V194.00H473.0V194.00H474.0V195.00H475.0V195.00H476.0V195.00H477.0V195.00H478.0V196.00H479.0V196.00H480.0V196.00H481.0V196.00H482.0V195.00H483.0V196.00H484.0V196.00H485.0V196.00H486.0V196.00H487.0V197.00H488.0V197.00H489.0V197.00H490.0V197.00H491.0V197.00H492.0V197.00H493.0V197.00H494.0V198.00H495.0V197.00H496.0V197.00H497.0V197.00H498.0V197.00H499.0V198.00H500.0V198.00H501.0V198.00H502.0V198.00H503.0V199.00H504.0V199.00H505.0V200.00H506.0V200.00H507.0V200.00H508.0V200.00H509.0V201.00H510.0V201.00H511.0V201.00H512.0V201.00H513.0V201.00H514.0V202.00H515.0V203.00H516.0V203.00H517.0V204.00H518.0V204.00H519.0V204.00H520.0V204.00H521.0V204.00H522.0V205.00H523.0V205.00H524.0V205.00H525.0V205.00H526.0V205.00H527.0V206.00H528.0V206.00H529.0V204.00H530.0V204.00H531.0V203.00H532.0V202.00H533.0V201.00H534.0V200.00H535.0V200.00H536.0V200.00H537.0V200.00H538.0V200.00H539.0V200.00H540.0V200.00H541.0V200.00H542.0V200.00H543.0V200.00H544.0V199.00H545.0V199.00H546.0V200.00H547.0V200.00H548.0V200.00H549.0V200.00H550.0V199.00H551.0V199.00H552.0V199.00H553.0V199.00H554.0V199.00H555.0V198.00H556.0V198.00H557.0V198.00H558.0V198.00H559.0V198.00H560.0V197.00H561.0V196.00H562.0V197.00H563.0V197.00H564.0V198.00H565.0V198.00H566.0V199.00H567.0V199.00H568.0V199.00H569.0V200.00H570.0V200.00H571.0V200.00H572.0V201.00H573.0V201.00H574.0V200.00H575.0V200.00H576.0V200.00H577.0V199.00H578.0V197.00H579.0V197.00H580.0V196.00H581.0V196.00H582.0V195.00H583.0V194.00H584.0V194.00H585.0V192.00H586.0V191.00H587.0V191.00H588.0V190.00H589.0V192.00H590.0V192.00H591.0V192.00H592.0V191.00H593.0V191.00H594.0V191.00H595.0V191.00H596.0V190.00H597.0V190.00H598.0V189.00H599.0V189.00H600.0V188.00H601.0V188.00H602.0V187.00H603.0V188.00H604.0V188.00H605.0V189.00H606.0V190.00H607.0V189.00H608.0V190.00H609.0V190.00H610.0V191.00H611.0V192.00H612.0V193.00H613.0V194.00H614.0V193.00H615.0V193.00H616.0V193.00H617.0V192.00H618.0V192.00H619.0V192.00H620.0V190.00H621.0V190.00H622.0V189.00H623.0V189.00H624.0V188.00H625.0V188.00H626.0V190.00H627.0V191.00H628.0V193.00H629.0V195.00H630.0V197.00H631.0V198.00H632.0V199.00H633.0V199.00H634.0V200.00H635.0V201.00H636.0V202.00H637.0V202.00H638.0V201.00H639.0V201.00H640.0V200.00H641.0V200.00H642.0V199.00H643.0V199.00H644.0V199.00H645.0V199.00H646.0V199.00H647.0V199.00H648.0V200.00H649.0V200.00H650.0V200.00H651.0V200.00H652.0V201.00H653.0V201.00H654.0V201.00H655.0V202.00H656.0V202.00H657.0V202.00H658.0V202.00H659.0V203.00H660.0V203.00H661.0V203.00H662.0V203.00H663.0V203.00H664.0V204.00H665.0V204.00H666.0V204.00H667.0V204.00H668.0V203.00H669.0V203.00H670.0V203.00H671.0V204.00H672.0V204.00H673.0V204.00H674.0V204.00H675.0V204.00H676.0V204.00H677.0V204.00H678.0V204.00H679.0V204.00H680.0V204.00H681.0V204.00H682.0V204.00H683.0V204.00H684.0V203.00H685.0V203.00H686.0V203.00H687.0V203.00H688.0V203.00H689.0V204.00H690.0V203.00H691.0V203.00H692.0V203.00H693.0V203.00H694.0V202.00H695.0V202.00H696.0V202.00H697.0V202.00H698.0V200.00H699.0V199.00H700.0V199.00H701.0V201.00H702.0V201.00H703.0V201.00H704.0V201.00H705.0V201.00H706.0V201.00H707.0V201.00H708.0V201.00H709.0V201.00H710.0V201.00H711.0V201.00H712.0V201.00H713.0V201.00H714.0V201.00H715.0V201.00H716.0V201.00H717.0V200.00H718.0V200.00H719.0V200.00H720.0V200.00H721.0V200.00H722.0V200.00H723.0V200.00H724.0V200.00H725.0V200.00H726.0V200.00H727.0V200.00H728.0V200.00H729.0V200.00H730.0V200.00H731.0V201.00H732.0V201.00H733.0V201.00H734.0V201.00H735.0V201.00H736.0V202.00H737.0V202.00H738.0V201.00H739.0V201.00H740.0V201.00H741.0V201.00H742.0V201.00H743.0V201.00H744.0V201.00H745.0V201.00H746.0V201.00H747.0V202.00H748.0V202.00H749.0V202.00H750.0V202.00H751.0V202.00H752.0V203.00H753.0V203.00H754.0V203.00H755.0V201.00H756.0V200.00H757.0V200.00H758.0V200.00H759.0V200.00H760.0V201.00H761.0V201.00H762.0V201.00H763.0V200.00H764.0V200.00H765.0V199.00H766.0V199.00H767.0V199.00H768.0V199.00H769.0V198.00H770.0V198.00H771.0V198.00H772.0V198.00H773.0V200.00H774.0V201.00H775.0V201.00H776.0V202.00H777.0V202.00H778.0V203.00H779.0V201.00H780.0V201.00H781.0V201.00H782.0V200.00H783.0V200.00H784.0V200.00H785.0V200.00H786.0V200.00H787.0V200.00H788.0V201.00H789.0V201.00H790.0V201.00H791.0V201.00H792.0V201.00H793.0V201.00H794.0V201.00H795.0V202.00H796.0V202.00H797.0V202.00H798.0V203.00H799.0V203.00H800.0V203.00H801.0V204.00H802.0V204.00H803.0V204.00H804.0V204.00H805.0V203.00H806.0V203.00H807.0V202.00H808.0V202.00H809.0V202.00H810.0V202.00H811.0V201.00H812.0V201.00H813.0V203.00H814.0V203.00H815.0V203.00H816.0V202.00H817.0V199.00H818.0V199.00H819.0V199.00H820.0V198.00H821.0V199.00H822.0V199.00H823.0V199.00H824.0V200.00H825.0V200.00H826.0V200.00H827.0V201.00H828.0V202.00H829.0V202.00H830.0V203.00H831.0V203.00H832.0V203.00H833.0V204.00H834.0V204.00H835.0V204.00H836.0V205.00H837.0V205.00H838.0V206.00H839.0V206.00H840.0V206.00H841.0V206.00H842.0V206.00H843.0V206.00H844.0V205.00H845.0V205.00H846.0V205.00H847.0V205.00H848.0V205.00H849.0V205.00H850.0V205.00H851.0V204.00H852.0V204.00H853.0V204.00H854.0V204.00H855.0V204.00H856.0V203.00H857.0V203.00H858.0V203.00H859.0V203.00H860.0V203.00H861.0V203.00H862.0V205.00H863.0V205.00H864.0V205.00H865.0V204.00H866.0V205.00H867.0V205.00H868.0V205.00H869.0V206.00H870.0V206.00H871.0V206.00H872.0V207.00H873.0V207.00H874.0V207.00H875.0V208.00H876.0V208.00H877.0V208.00H878.0V208.00H879.0V208.00H880.0V206.00H881.0V206.00H882.0V206.00H883.0V206.00H884.0V206.00H885.0V206.00H886.0V206.00H887.0V206.00H888.0V206.00H889.0V206.00H890.0V206.00H891.0V207.00H892.0V207.00H893.0V208.00H894.0V208.00H895.0V209.00H896.0V209.00H897.0V209.00H898.0V210.00H899.0V209.00H900.0V210.00H901.0V210.00H902.0V210.00H903.0V210.00H904.0V209.00H905.0V209.00H906.0V209.00H907.0V210.00H908.0V209.00H909.0V209.00H910.0V208.00H911.0V208.00H912.0V208.00H913.0V207.00H914.0V207.00H915.0V208.00H916.0V209.00H917.0V209.00H918.0V210.00H919.0V211.00H920.0V212.00H921.0V212.00H922.0V213.00H923.0V216.00H924.0V217.00H925.0V218.00H926.0V219.00H927.0V219.00H928.0V218.00H929.0V217.00H930.0V216.00H931.0V216.00H932.0V215.00H933.0V215.00H934.0V215.00H935.0V215.00H936.0V216.00H937.0V216.00H938.0V216.00H939.0V216.00H940.0V215.00H941.0V215.00H942.0V215.00H943.0V217.00H944.0V216.00H945.0V216.00H946.0V216.00H947.0V215.00H948.0V215.00H949.0V214.00H950.0V214.00H951.0V215.00H952.0V215.00H953.0V216.00H954.0V216.00H955.0V217.00H956.0V217.00H957.0V216.00H958.0V217.00H959.0V217.00H960.0V217.00H961.0V218.00H962.0V217.00H963.0V217.00H964.0V216.00H965.0V217.00H966.0V217.00H967.0V217.00H968.0V217.00H969.0V217.00H970.0V217.00H971.0V214.00H972.0V214.00H973.0V214.00H974.0V214.00H975.0V213.00H976.0V213.00H977.0V213.00H978.0V213.00H979.0V212.00H980.0V213.00H981.0V214.00H982.0V215.00H983.0V215.00H984.0V215.00H985.0V215.00H986.0V214.00H987.0V214.00H988.0V214.00H989.0V213.00H990.0V213.00H991.0V212.00H992.0V212.00H993.0V212.00H994.0V212.00H995.0V213.00H996.0V213.00H997.0V213.00H998.0V214.00H999.0V214.00H1000.0V214.00H1001.0V214.00H1002.0V214.00H1003.0V213.00H1004.0V213.00H1005.0V213.00H1006.0V214.00H1007.0V215.00H1008.0V217.00H1009.0V218.00H1010.0V219.00H1011.0V218.00H1012.0V218.00H1013.0V217.00H1014.0V217.00H1015.0V217.00H1016.0V217.00H1017.0V216.00H1018.0V216.00H1019.0V216.00H1020.0V216.00H1021.0V217.00H1022.0V217.00H1023.0V218.00H1024.0V218.00H1025.0V219.00H1026.0V220.00H1027.0V222.00H1028.0V223.00H1029.0V224.00H1030.0V223.00H1031.0V221.00H1032.0V221.00H1033.0V221.00H1034.0V221.00H1035.0V222.00H1036.0V222.00H1037.0V221.00H1038.0V221.00H1039.0V221.00H1040.0V220.00H1041.0V220.00H1042.0V220.00H1043.0V219.00H1044.0V219.00H1045.0V219.00H1046.0V219.00H1047.0V219.00H1048.0V218.00H1049.0V218.00H1050.0V218.00H1051.0V219.00H1052.0V218.00H1053.0V218.00H1054.0V218.00H1055.0V217.00H1056.0V217.00H1057.0V216.00H1058.0V216.00H1059.0V216.00H1060.0V215.00H1061.0V216.00H1062.0V216.00H1063.0V216.00H1064.0V215.00H1065.0V214.00H1066.0V214.00H1067.0V215.00H1068.0V216.00H1069.0V216.00H1070.0V217.00H1071.0V218.00H1072.0V218.00H1073.0V219.00H1074.0V219.00H1075.0V219.00H1076.0V219.00H1077.0V219.00H1078.0V219.00H1079.0V219.00H1080.0V219.00H1081.0V219.00H1082.0V218.00H1083.0V218.00H1084.0V218.00H1085.0V218.00H1086.0V218.00H1087.0V218.00H1088.0V218.00H1089.0V218.00H1090.0V218.00H1091.0V217.00H1092.0V217.00H1093.0V217.00H1094.0V217.00H1095.0V218.00H1096.0V218.00H1097.0V217.00H1098.0V217.00H1099.0V217.00H1100.0V217.00H1101.0V218.00H1102.0V218.00H1103.0V218.00H1104.0V218.00H1105.0V218.00H1106.0V218.00H1107.0V218.00H1108.0V218.00H1109.0V216.00H1110.0V216.00H1111.0V216.00H1112.0V216.00H1113.0V216.00H1114.0V217.00H1115.0V217.00H1116.0V217.00H1117.0V218.00H1118.0V216.00H1119.0V216.00H1120.0V216.00H1121.0V217.00H1122.0V218.00H1123.0V218.00H1124.0V219.00H1125.0V219.00H1126.0V219.00H1127.0V219.00H1128.0V219.00H1129.0V219.00H1130.0V218.00H1131.0V218.00H1132.0V219.00H1133.0V219.00H1134.0V219.00H1135.0V219.00H1136.0V220.00H1137.0V220.00H1138.0V221.00H1139.0V221.00H1140.0V222.00H1141.0V223.00H1142.0V223.00H1143.0V222.00H1144.0V222.00H1145.0V221.00H1146.0V221.00H1147.0V220.00H1148.0V220.00H1149.0V220.00H1150.0V220.00H1151.0V220.00H1152.0V220.00H1153.0V220.00H1154.0V219.00H1155.0V219.00H1156.0V219.00H1157.0V218.00H1158.0V217.00H1159.0V216.00H1160.0V216.00H1161.0V215.00H1162.0V215.00H1163.0V215.00H1164.0V214.00H1165.0V214.00H1166.0V214.00H1167.0V214.00H1168.0V214.00H1169.0V213.00H1170.0V214.00H1171.0V214.00H1172.0V214.00H1173.0V215.00H1174.0V214.00H1175.0V214.00H1176.0V214.00H1177.0V214.00H1178.0V214.00H1179.0V214.00H1180.0V215.00H1181.0V215.00V222.00H1180.0V222.00H1179.0V221.00H1178.0V220.00H1177.0V220.00H1176.0V220.00H1175.0V220.00H1174.0V220.00H1173.0V220.00H1172.0V220.00H1171.0V219.00H1170.0V220.00H1169.0V219.00H1168.0V219.00H1167.0V219.00H1166.0V221.00H1165.0V221.00H1164.0V221.00H1163.0V221.00H1162.0V221.00H1161.0V221.00H1160.0V222.00H1159.0V223.00H1158.0V222.00H1157.0V222.00H1156.0V223.00H1155.0V224.00H1154.0V224.00H1153.0V224.00H1152.0V226.00H1151.0V226.00H1150.0V227.00H1149.0V227.00H1148.0V227.00H1147.0V227.00H1146.0V228.00H1145.0V229.00H1144.0V229.00H1143.0V230.00H1142.0V230.00H1141.0V230.00H1140.0V230.00H1139.0V229.00H1138.0V229.00H1137.0V228.00H1136.0V227.00H1135.0V226.00H1134.0V226.00H1133.0V226.00H1132.0V225.00H1131.0V225.00H1130.0V225.00H1129.0V225.00H1128.0V225.00H1127.0V224.00H1126.0V224.00H1125.0V224.00H1124.0V223.00H1123.0V223.00H1122.0V224.00H1121.0V224.00H1120.0V224.00H1119.0V224.00H1118.0V224.00H1117.0V224.00H1116.0V223.00H1115.0V223.00H1114.0V223.00H1113.0V224.00H1112.0V224.00H1111.0V224.00H1110.0V224.00H1109.0V222.00H1108.0V222.00H1107.0V222.00H1106.0V224.00H1105.0V224.00H1104.0V224.00H1103.0V224.00H1102.0V222.00H1101.0V222.00H1100.0V222.00H1099.0V222.00H1098.0V222.00H1097.0V222.00H1096.0V222.00H1095.0V222.00H1094.0V224.00H1093.0V224.00H1092.0V224.00H1091.0V224.00H1090.0V224.00H1089.0V224.00H1088.0V224.00H1087.0V224.00H1086.0V224.00H1085.0V224.00H1084.0V224.00H1083.0V224.00H1082.0V224.00H1081.0V225.00H1080.0V225.00H1079.0V225.00H1078.0V225.00H1077.0V225.00H1076.0V225.00H1075.0V225.00H1074.0V225.00H1073.0V226.00H1072.0V225.00H1071.0V225.00H1070.0V224.00H1069.0V223.00H1068.0V222.00H1067.0V222.00H1066.0V221.00H1065.0V220.00H1064.0V220.00H1063.0V221.00H1062.0V221.00H1061.0V221.00H1060.0V221.00H1059.0V221.00H1058.0V221.00H1057.0V222.00H1056.0V222.00H1055.0V222.00H1054.0V223.00H1053.0V223.00H1052.0V224.00H1051.0V225.00H1050.0V225.00H1049.0V225.00H1048.0V225.00H1047.0V225.00H1046.0V226.00H1045.0V226.00H1044.0V226.00H1043.0V226.00H1042.0V227.00H1041.0V227.00H1040.0V227.00H1039.0V227.00H1038.0V227.00H1037.0V227.00H1036.0V228.00H1035.0V228.00H1034.0V228.00H1033.0V228.00H1032.0V229.00H1031.0V228.00H1030.0V228.00H1029.0V228.00H1028.0V227.00H1027.0V226.00H1026.0V225.00H1025.0V224.00H1024.0V223.00H1023.0V223.00H1022.0V223.00H1021.0V223.00H1020.0V222.00H1019.0V222.00H1018.0V222.00H1017.0V221.00H1016.0V221.00H1015.0V222.00H1014.0V223.00H1013.0V223.00H1012.0V225.00H1011.0V225.00H1010.0V226.00H1009.0V225.00H1008.0V223.00H1007.0V222.00H1006.0V220.00H1005.0V219.00H1004.0V219.00H1003.0V219.00H1002.0V219.00H1001.0V220.00H1000.0V220.00H999.0V220.00H998.0V221.00H997.0V221.00H996.0V221.00H995.0V220.00H994.0V220.00H993.0V219.00H992.0V219.00H991.0V220.00H990.0V220.00H989.0V220.00H988.0V221.00H987.0V222.00H986.0V222.00H985.0V222.00H984.0V221.00H983.0V221.00H982.0V220.00H981.0V220.00H980.0V220.00H979.0V219.00H978.0V219.00H977.0V220.00H976.0V220.00H975.0V220.00H974.0V221.00H973.0V221.00H972.0V221.00H971.0V221.00H970.0V221.00H969.0V221.00H968.0V221.00H967.0V221.00H966.0V221.00H965.0V221.00H964.0V222.00H963.0V222.00H962.0V222.00H961.0V223.00H960.0V223.00H959.0V224.00H958.0V223.00H957.0V223.00H956.0V222.00H955.0V222.00H954.0V221.00H953.0V221.00H952.0V220.00H951.0V220.00H950.0V219.00H949.0V220.00H948.0V220.00H947.0V221.00H946.0V221.00H945.0V222.00H944.0V222.00H943.0V222.00H942.0V222.00H941.0V222.00H940.0V222.00H939.0V221.00H938.0V221.00H937.0V221.00H936.0V221.00H935.0V221.00H934.0V220.00H933.0V220.00H932.0V221.00H931.0V221.00H930.0V222.00H929.0V223.00H928.0V223.00H927.0V224.00H926.0V224.00H925.0V223.00H924.0V222.00H923.0V221.00H922.0V220.00H921.0V219.00H920.0V218.00H919.0V217.00H918.0V217.00H917.0V216.00H916.0V216.00H915.0V215.00H914.0V214.00H913.0V214.00H912.0V214.00H911.0V214.00H910.0V214.00H909.0V215.00H908.0V214.00H907.0V215.00H906.0V215.00H905.0V215.00H904.0V215.00H903.0V215.00H902.0V215.00H901.0V215.00H900.0V216.00H899.0V216.00H898.0V216.00H897.0V215.00H896.0V215.00H895.0V214.00H894.0V214.00H893.0V213.00H892.0V213.00H891.0V212.00H890.0V212.00H889.0V212.00H888.0V213.00H887.0V213.00H886.0V213.00H885.0V213.00H884.0V213.00H883.0V213.00H882.0V213.00H881.0V213.00H880.0V213.00H879.0V213.00H878.0V214.00H877.0V214.00H876.0V214.00H875.0V213.00H874.0V213.00H873.0V213.00H872.0V213.00H871.0V213.00H870.0V212.00H869.0V212.00H868.0V211.00H867.0V211.00H866.0V210.00H865.0V210.00H864.0V210.00H863.0V210.00H862.0V210.00H861.0V210.00H860.0V210.00H859.0V210.00H858.0V210.00H857.0V210.00H856.0V210.00H855.0V211.00H854.0V211.00H853.0V211.00H852.0V211.00H851.0V211.00H850.0V211.00H849.0V212.00H848.0V212.00H847.0V212.00H846.0V212.00H845.0V212.00H844.0V212.00H843.0V212.00H842.0V212.00H841.0V212.00H840.0V212.00H839.0V212.00H838.0V212.00H837.0V213.00H836.0V213.00H835.0V212.00H834.0V212.00H833.0V212.00H832.0V211.00H831.0V211.00H830.0V211.00H829.0V210.00H828.0V210.00H827.0V210.00H826.0V209.00H825.0V209.00H824.0V209.00H823.0V208.00H822.0V208.00H821.0V207.00H820.0V207.00H819.0V207.00H818.0V207.00H817.0V208.00H816.0V208.00H815.0V208.00H814.0V209.00H813.0V209.00H812.0V209.00H811.0V209.00H810.0V208.00H809.0V208.00H808.0V208.00H807.0V208.00H806.0V211.00H805.0V211.00H804.0V211.00H803.0V211.00H802.0V211.00H801.0V211.00H800.0V210.00H799.0V210.00H798.0V210.00H797.0V210.00H796.0V208.00H795.0V208.00H794.0V207.00H793.0V207.00H792.0V207.00H791.0V207.00H790.0V207.00H789.0V207.00H788.0V207.00H787.0V207.00H786.0V206.00H785.0V207.00H784.0V207.00H783.0V207.00H782.0V207.00H781.0V207.00H780.0V207.00H779.0V208.00H778.0V208.00H777.0V206.00H776.0V206.00H775.0V205.00H774.0V204.00H773.0V204.00H772.0V203.00H771.0V203.00H770.0V203.00H769.0V206.00H768.0V206.00H767.0V207.00H766.0V205.00H765.0V205.00H764.0V206.00H763.0V206.00H762.0V206.00H761.0V206.00H760.0V206.00H759.0V207.00H758.0V208.00H757.0V208.00H756.0V209.00H755.0V209.00H754.0V209.00H753.0V209.00H752.0V209.00H751.0V209.00H750.0V207.00H749.0V207.00H748.0V207.00H747.0V207.00H746.0V207.00H745.0V208.00H744.0V208.00H743.0V208.00H742.0V208.00H741.0V208.00H740.0V208.00H739.0V208.00H738.0V208.00H737.0V208.00H736.0V208.00H735.0V208.00H734.0V208.00H733.0V208.00H732.0V207.00H731.0V207.00H730.0V207.00H729.0V207.00H728.0V207.00H727.0V206.00H726.0V206.00H725.0V206.00H724.0V206.00H723.0V208.00H722.0V208.00H721.0V208.00H720.0V208.00H719.0V208.00H718.0V208.00H717.0V208.00H716.0V208.00H715.0V208.00H714.0V207.00H713.0V207.00H712.0V207.00H711.0V207.00H710.0V206.00H709.0V207.00H708.0V207.00H707.0V207.00H706.0V207.00H705.0V207.00H704.0V208.00H703.0V208.00H702.0V208.00H701.0V208.00H700.0V208.00H699.0V208.00H698.0V208.00H697.0V209.00H696.0V209.00H695.0V209.00H694.0V208.00H693.0V208.00H692.0V209.00H691.0V209.00H690.0V209.00H689.0V209.00H688.0V210.00H687.0V210.00H686.0V210.00H685.0V210.00H684.0V211.00H683.0V211.00H682.0V211.00H681.0V211.00H680.0V211.00H679.0V212.00H678.0V212.00H677.0V211.00H676.0V211.00H675.0V211.00H674.0V211.00H673.0V211.00H672.0V211.00H671.0V211.00H670.0V210.00H669.0V209.00H668.0V209.00H667.0V209.00H666.0V209.00H665.0V209.00H664.0V209.00H663.0V209.00H662.0V209.00H661.0V209.00H660.0V209.00H659.0V208.00H658.0V208.00H657.0V209.00H656.0V208.00H655.0V208.00H654.0V208.00H653.0V207.00H652.0V208.00H651.0V208.00H650.0V207.00H649.0V207.00H648.0V207.00H647.0V207.00H646.0V207.00H645.0V207.00H644.0V207.00H643.0V207.00H642.0V207.00H641.0V206.00H640.0V207.00H639.0V207.00H638.0V208.00H637.0V208.00H636.0V208.00H635.0V207.00H634.0V206.00H633.0V206.00H632.0V205.00H631.0V206.00H630.0V205.00H629.0V203.00H628.0V202.00H627.0V200.00H626.0V198.00H625.0V195.00H624.0V195.00H623.0V196.00H622.0V196.00H621.0V197.00H620.0V198.00H619.0V199.00H618.0V199.00H617.0V199.00H616.0V199.00H615.0V200.00H614.0V200.00H613.0V200.00H612.0V200.00H611.0V200.00H610.0V199.00H609.0V198.00H608.0V199.00H607.0V198.00H606.0V198.00H605.0V197.00H604.0V196.00H603.0V195.00H602.0V195.00H601.0V195.00H600.0V193.00H599.0V194.00H598.0V195.00H597.0V195.00H596.0V196.00H595.0V198.00H594.0V198.00H593.0V198.00H592.0V199.00H591.0V199.00H590.0V198.00H589.0V198.00H588.0V198.00H587.0V198.00H586.0V201.00H585.0V202.00H584.0V203.00H583.0V201.00H582.0V201.00H581.0V202.00H580.0V204.00H579.0V204.00H578.0V205.00H577.0V205.00H576.0V205.00H575.0V206.00H574.0V206.00H573.0V206.00H572.0V206.00H571.0V207.00H570.0V206.00H569.0V206.00H568.0V207.00H567.0V206.00H566.0V206.00H565.0V205.00H564.0V205.00H563.0V204.00H562.0V204.00H561.0V203.00H560.0V205.00H559.0V206.00H558.0V206.00H557.0V206.00H556.0V206.00H555.0V206.00H554.0V206.00H553.0V206.00H552.0V206.00H551.0V207.00H550.0V207.00H549.0V207.00H548.0V207.00H547.0V207.00H546.0V207.00H545.0V207.00H544.0V208.00H543.0V208.00H542.0V208.00H541.0V208.00H540.0V209.00H539.0V207.00H538.0V207.00H537.0V207.00H536.0V209.00H535.0V209.00H534.0V209.00H533.0V210.00H532.0V211.00H531.0V212.00H530.0V213.00H529.0V213.00H528.0V213.00H527.0V213.00H526.0V213.00H525.0V210.00H524.0V210.00H523.0V210.00H522.0V210.00H521.0V211.00H520.0V211.00H519.0V211.00H518.0V210.00H517.0V210.00H516.0V210.00H515.0V209.00H514.0V209.00H513.0V209.00H512.0V209.00H511.0V210.00H510.0V210.00H509.0V209.00H508.0V209.00H507.0V208.00H506.0V207.00H505.0V207.00H504.0V207.00H503.0V207.00H502.0V206.00H501.0V206.00H500.0V206.00H499.0V205.00H498.0V205.00H497.0V205.00H496.0V204.00H495.0V204.00H494.0V204.00H493.0V204.00H492.0V204.00H491.0V204.00H490.0V204.00H489.0V204.00H488.0V204.00H487.0V204.00H486.0V204.00H485.0V204.00H484.0V204.00H483.0V204.00H482.0V204.00H481.0V204.00H480.0V204.00H479.0V203.00H478.0V203.00H477.0V203.00H476.0V203.00H475.0V203.00H474.0V200.00H473.0V200.00H472.0V199.00H471.0V199.00H470.0V199.00H469.0V199.00H468.0V199.00H467.0V199.00H466.0V199.00H465.0V198.00H464.0V198.00H463.0V198.00H462.0V198.00H461.0V198.00H460.0V197.00H459.0V197.00H458.0V197.00H457.0V197.00H456.0V197.00H455.0V198.00H454.0V197.00H453.0V197.00H452.0V197.00H451.0V197.00H450.0V197.00H449.0V198.00H448.0V198.00H447.0V198.00H446.0V198.00H445.0V196.00H444.0V196.00H443.0V196.00H442.0V196.00H441.0V197.00H440.0V197.00H439.0V197.00H438.0V197.00H437.0V197.00H436.0V197.00H435.0V197.00H434.0V197.00H433.0V197.00H432.0V197.00H431.0V197.00H430.0V197.00H429.0V198.00H428.0V198.00H427.0V198.00H426.0V197.00H425.0V197.00H424.0V197.00H423.0V197.00H422.0V197.00H421.0V197.00H420.0V197.00H419.0V197.00H418.0V198.00H417.0V198.00H416.0V198.00H415.0V198.00H414.0V199.00H413.0V199.00H412.0V199.00H411.0V199.00H410.0V199.00H409.0V200.00H408.0V200.00H407.0V200.00H406.0V199.00H405.0V199.00H404.0V199.00H403.0V199.00H402.0V198.00H401.0V199.00H400.0V199.00H399.0V198.00H398.0V197.00H397.0V197.00H396.0V197.00H395.0V196.00H394.0V198.00H393.0V197.00H392.0V197.00H391.0V197.00H390.0V196.00H389.0V196.00H388.0V196.00H387.0V197.00H386.0V197.00H385.0V197.00H384.0V197.00H383.0V196.00H382.0V196.00H381.0V196.00H380.0V196.00H379.0V196.00H378.0V195.00H377.0V195.00H376.0V194.00H375.0V193.00H374.0V192.00H373.0V192.00H372.0V191.00H371.0V192.00H370.0V191.00H369.0V192.00H368.0V192.00H367.0V192.00H366.0V192.00H365.0V193.00H364.0V193.00H363.0V193.00H362.0V193.00H361.0V193.00H360.0V192.00H359.0V192.00H358.0V192.00H357.0V191.00H356.0V191.00H355.0V190.00H354.0V190.00H353.0V190.00H352.0V189.00H351.0V189.00H350.0V190.00H349.0V190.00H348.0V189.00H347.0V189.00H346.0V189.00H345.0V189.00H344.0V188.00H343.0V188.00H342.0V188.00H341.0V187.00H340.0V187.00H339.0V187.00H338.0V187.00H337.0V187.00H336.0V187.00H335.0V189.00H334.0V189.00H333.0V189.00H332.0V189.00H331.0V189.00H330.0V189.00H329.0V188.00H328.0V188.00H327.0V188.00H326.0V186.00H325.0V187.00H324.0V187.00H323.0V186.00H322.0V186.00H321.0V186.00H320.0V186.00H319.0V185.00H318.0V188.00H317.0V188.00H316.0V188.00H315.0V187.00H314.0V187.00H313.0V187.00H312.0V187.00H311.0V187.00H310.0V187.00H309.0V187.00H308.0V187.00H307.0V187.00H306.0V187.00H305.0V188.00H304.0V189.00H303.0V189.00H302.0V190.00H301.0V190.00H300.0V192.00H299.0V192.00H298.0V192.00H297.0V192.00H296.0V192.00H295.0V192.00H294.0V192.00H293.0V192.00H292.0V192.00H291.0V192.00H290.0V192.00H289.0V193.00H288.0V193.00H287.0V193.00H286.0V193.00H285.0V194.00H284.0V192.00H283.0V192.00H282.0V192.00H281.0V192.00H280.0V193.00H279.0V193.00H278.0V193.00H277.0V193.00H276.0V193.00H275.0V193.00H274.0V193.00H273.0V194.00H272.0V193.00H271.0V193.00H270.0V195.00H269.0V195.00H268.0V195.00H267.0V194.00H266.0V193.00H265.0V193.00H264.0V193.00H263.0V193.00H262.0V193.00H261.0V193.00H260.0V192.00H259.0V193.00H258.0V193.00H257.0V193.00H256.0V192.00H255.0V192.00H254.0V192.00H253.0V193.00H252.0V193.00H251.0V193.00H250.0V193.00H249.0V193.00H248.0V192.00H247.0V192.00H246.0V192.00H245.0V191.00H244.0V191.00H243.0V192.00H242.0V193.00H241.0V194.00H240.0V196.00H239.0V197.00H238.0V197.00H237.0V197.00H236.0V199.00H235.0V199.00H234.0V199.00H233.0V199.00H232.0V198.00H231.0V198.00H230.0V198.00H229.0V197.00H228.0V197.00H227.0V196.00H226.0V196.00H225.0V195.00H224.0V195.00H223.0V195.00H222.0V195.00H221.0V195.00H220.0V195.00H219.0V195.00H218.0V195.00H217.0V194.00H216.0V194.00H215.0V193.00H214.0V193.00H213.0V192.00H212.0V192.00H211.0V191.00H210.0V191.00H209.0V191.00H208.0V190.00H207.0V190.00H206.0V190.00H205.0V190.00H204.0V190.00H203.0V189.00H202.0V189.00H201.0V189.00H200.0V189.00H199.0V189.00H198.0V189.00H197.0V189.00H196.0V189.00H195.0V189.00H194.0V190.00H193.0V191.00H192.0V192.00H191.0V192.00H190.0V193.00H189.0V193.00H188.0V191.00H187.0V191.00H186.0V190.00H185.0V190.00H184.0V190.00H183.0V189.00H182.0V188.00H181.0V188.00H180.0V187.00H179.0V187.00H178.0V189.00H177.0V188.00H176.0V188.00H175.0V189.00H174.0V189.00H173.0V189.00H172.0V189.00H171.0V188.00H170.0V188.00H169.0V189.00H168.0V189.00H167.0V189.00H166.0V190.00H165.0V191.00H164.0V191.00H163.0V191.00H162.0V191.00H161.0V191.00H160.0V191.00H159.0V190.00H158.0V188.00H157.0V186.00H156.0V184.00H155.0V178.00H154.0V177.00H153.0V176.00H152.0V175.00H151.0V174.00H150.0V173.00H149.0V176.00H148.0V175.00H147.0V173.00H146.0V172.00H145.0V171.00H144.0V170.00H143.0V168.00H142.0V166.00H141.0V164.00H140.0V163.00H139.0V157.00H138.0V156.00H137.0V155.00H136.0V154.00H135.0V154.00H134.0V153.00H133.0V155.00H132.0V155.00H131.0V155.00H130.0V154.00H129.0V154.00H128.0V153.00H127.0V153.00H126.0V152.00H125.0V151.00H124.0V151.00H123.0V151.00H122.0V151.00H121.0V151.00H120.0V154.00H119.0V157.00H118.0V160.00H117.0V157.00H116.0V157.00H115.0V157.00H114.0V157.00H113.0V157.00H112.0V156.00H111.0V156.00H110.0V156.00H109.0V155.00H108.0V154.00Z" stroke-width="1.2" stroke-linejoin="round"/></g>
</g>
<g class="legend">
<line x1="140.3" y1="338.8" x2="190.7" y2="338.8" stroke="#002060" stroke-width="5.6" stroke-linecap="round"/><text x="195.5" y="347.1">Market Capitalization</text>
<line x1="599.3" y1="338.8" x2="648.6" y2="338.8" stroke="#00B0F0" stroke-width="5.6" stroke-linecap="round"/><text x="654.5" y="347.1">Enterprise Value</text>
<line x1="140.3" y1="382.8" x2="190.7" y2="382.8" stroke="#7030A0" stroke-width="5.6" stroke-linecap="round"/><text x="195.5" y="390.9">Average Daily Value Traded (ADV)</text>
<line x1="599.3" y1="382.8" x2="648.6" y2="382.8" stroke="#00B050" stroke-width="5.6" stroke-linecap="round"/><text x="654.5" y="390.9">Total Assets</text>
<line x1="140.3" y1="426.4" x2="190.7" y2="426.4" stroke="#808080" stroke-width="5.6" stroke-linecap="round"/><text x="195.5" y="434.6">Total Sales</text>
</g>
</svg>
</body>
</html>
